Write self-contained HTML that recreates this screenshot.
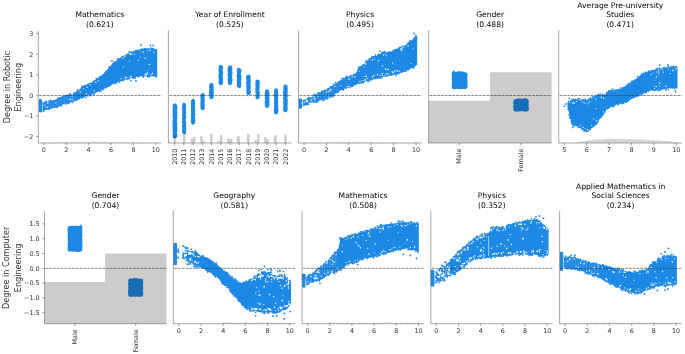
<!DOCTYPE html>
<html><head><meta charset="utf-8"><style>
html,body{margin:0;padding:0;background:#fff;}
svg{display:block;}
text{font-family:'DejaVu Sans','Liberation Sans',sans-serif;}
</style></head><body>
<svg width="685" height="354" viewBox="0 0 685 354">
<rect width="685" height="354" fill="#fff"/>
<path d="M39.0,99.6 L39.8,99.1 L40.6,99.3 L41.4,99.0 L42.2,99.7 L42.1,99.9 L41.9,100.8 L42.2,101.7 L41.9,102.6 L42.2,103.5 L41.9,104.4 L41.9,105.3 L42.1,106.3 L42.4,107.2 L41.9,108.1 L42.0,109.0 L42.3,109.9 L42.5,110.8 L42.3,111.7 L42.2,111.9 L41.4,112.2 L40.6,112.6 L39.8,112.3 L39.0,112.0 L38.8,111.7 L38.7,110.8 L38.9,109.9 L39.2,109.0 L38.8,108.1 L39.1,107.2 L39.1,106.3 L38.9,105.3 L39.0,104.4 L38.7,103.5 L38.7,102.6 L38.8,101.7 L39.1,100.8 L38.9,99.9Z" fill="#1e88e5"/>
<path d="M42.6,101.3 L43.6,102.4 L44.6,102.6 L45.6,101.8 L46.6,102.0 L47.6,102.1 L48.6,102.2 L49.6,101.2 L50.6,100.6 L51.6,100.2 L52.6,100.7 L53.6,100.6 L54.6,100.0 L55.6,99.5 L56.6,99.3 L57.6,98.5 L58.6,97.5 L59.6,97.8 L60.6,97.6 L61.6,96.6 L62.6,95.8 L63.6,95.7 L64.6,95.2 L65.6,95.0 L66.6,95.0 L67.6,94.4 L68.6,94.9 L69.6,95.1 L70.6,94.4 L71.6,94.4 L72.6,94.7 L73.6,93.1 L74.6,92.5 L75.6,92.2 L76.6,90.9 L77.6,90.5 L78.6,90.4 L79.6,89.0 L80.6,88.4 L81.6,87.8 L82.6,87.2 L83.6,86.1 L84.6,85.3 L85.6,84.8 L86.6,84.5 L87.6,84.2 L88.6,83.3 L89.6,83.0 L90.6,82.4 L91.6,82.6 L92.6,81.6 L93.6,81.0 L94.6,80.8 L95.6,79.7 L96.6,78.5 L97.6,78.0 L98.6,77.8 L99.6,76.1 L100.6,75.9 L101.6,75.2 L102.6,74.3 L103.6,73.8 L104.6,72.3 L105.6,71.1 L106.6,70.4 L107.6,69.0 L108.6,68.5 L109.6,67.3 L110.6,66.1 L111.6,64.2 L112.6,63.3 L113.6,62.0 L114.6,61.4 L115.6,61.4 L116.6,60.6 L117.6,60.0 L118.6,58.5 L119.6,57.9 L120.6,57.8 L121.6,57.4 L122.6,56.6 L123.6,55.3 L124.6,55.7 L125.6,55.0 L126.6,53.7 L127.6,53.3 L128.6,53.5 L129.6,52.3 L130.6,52.3 L131.6,51.2 L132.6,51.8 L133.6,50.6 L134.6,51.2 L135.6,50.1 L136.6,49.6 L137.6,50.3 L138.6,49.5 L139.6,49.0 L140.6,49.3 L141.6,48.5 L142.6,48.4 L143.6,48.4 L144.6,48.1 L145.6,48.3 L146.6,48.6 L147.6,48.5 L148.6,48.6 L149.6,48.6 L150.6,48.6 L151.6,48.1 L152.6,48.4 L153.6,49.2 L154.6,48.8 L155.6,49.2 L156.6,48.9 L157.2,49.2 L157.2,77.7 L156.6,77.7 L155.6,77.3 L154.6,76.5 L153.6,76.5 L152.6,76.3 L151.6,76.6 L150.6,75.8 L149.6,75.5 L148.6,76.1 L147.6,76.6 L146.6,76.6 L145.6,76.0 L144.6,76.6 L143.6,76.1 L142.6,76.4 L141.6,76.1 L140.6,76.1 L139.6,77.0 L138.6,77.3 L137.6,77.2 L136.6,76.6 L135.6,77.4 L134.6,77.8 L133.6,78.2 L132.6,78.4 L131.6,77.8 L130.6,78.1 L129.6,79.2 L128.6,78.8 L127.6,79.4 L126.6,79.6 L125.6,79.5 L124.6,80.1 L123.6,80.3 L122.6,80.9 L121.6,80.9 L120.6,81.8 L119.6,81.3 L118.6,81.7 L117.6,82.2 L116.6,83.4 L115.6,83.1 L114.6,83.9 L113.6,83.8 L112.6,84.0 L111.6,85.0 L110.6,85.9 L109.6,86.5 L108.6,87.3 L107.6,86.9 L106.6,88.0 L105.6,88.5 L104.6,88.5 L103.6,89.4 L102.6,90.3 L101.6,89.6 L100.6,90.3 L99.6,91.8 L98.6,91.4 L97.6,92.0 L96.6,92.3 L95.6,93.1 L94.6,94.0 L93.6,93.3 L92.6,93.9 L91.6,94.0 L90.6,95.2 L89.6,95.0 L88.6,95.0 L87.6,95.3 L86.6,95.8 L85.6,96.1 L84.6,97.3 L83.6,97.4 L82.6,98.4 L81.6,98.8 L80.6,98.2 L79.6,99.3 L78.6,99.7 L77.6,99.9 L76.6,100.0 L75.6,100.2 L74.6,100.8 L73.6,100.8 L72.6,101.1 L71.6,102.2 L70.6,101.9 L69.6,102.7 L68.6,102.9 L67.6,102.6 L66.6,103.4 L65.6,103.1 L64.6,104.2 L63.6,103.9 L62.6,104.8 L61.6,105.5 L60.6,105.4 L59.6,106.6 L58.6,106.7 L57.6,107.0 L56.6,107.7 L55.6,107.6 L54.6,108.1 L53.6,107.9 L52.6,108.4 L51.6,108.7 L50.6,108.7 L49.6,109.2 L48.6,108.6 L47.6,109.1 L46.6,110.1 L45.6,110.1 L44.6,110.6 L43.6,110.4 L42.6,111.1Z" fill="#1e88e5"/>
<circle cx="86.4" cy="93.7" r="0.70" fill="#fff" fill-opacity="1.0"/>
<circle cx="94.2" cy="90.8" r="0.62" fill="#fff" fill-opacity="1.0"/>
<circle cx="72.0" cy="99.4" r="0.63" fill="#fff" fill-opacity="1.0"/>
<circle cx="70.1" cy="99.4" r="0.74" fill="#fff" fill-opacity="1.0"/>
<circle cx="95.8" cy="82.2" r="0.76" fill="#fff" fill-opacity="1.0"/>
<circle cx="90.1" cy="84.7" r="0.60" fill="#fff" fill-opacity="1.0"/>
<circle cx="47.6" cy="103.2" r="0.67" fill="#fff" fill-opacity="1.0"/>
<circle cx="87.0" cy="87.3" r="0.69" fill="#fff" fill-opacity="1.0"/>
<circle cx="80.2" cy="91.9" r="0.77" fill="#fff" fill-opacity="1.0"/>
<circle cx="55.8" cy="102.8" r="0.61" fill="#fff" fill-opacity="1.0"/>
<circle cx="98.4" cy="80.7" r="0.60" fill="#fff" fill-opacity="1.0"/>
<circle cx="72.2" cy="96.1" r="0.56" fill="#fff" fill-opacity="1.0"/>
<circle cx="83.6" cy="88.8" r="0.60" fill="#fff" fill-opacity="1.0"/>
<circle cx="44.6" cy="105.0" r="0.62" fill="#fff" fill-opacity="1.0"/>
<circle cx="47.2" cy="107.2" r="0.77" fill="#fff" fill-opacity="1.0"/>
<circle cx="124.7" cy="56.5" r="0.71" fill="#fff" fill-opacity="1.0"/>
<circle cx="130.5" cy="54.3" r="0.75" fill="#fff" fill-opacity="1.0"/>
<circle cx="149.8" cy="50.2" r="0.75" fill="#fff" fill-opacity="1.0"/>
<circle cx="141.1" cy="52.3" r="0.47" fill="#fff" fill-opacity="1.0"/>
<circle cx="145.2" cy="74.7" r="0.76" fill="#fff" fill-opacity="1.0"/>
<circle cx="143.3" cy="52.0" r="0.73" fill="#fff" fill-opacity="1.0"/>
<circle cx="123.3" cy="67.1" r="0.57" fill="#fff" fill-opacity="1.0"/>
<circle cx="140.5" cy="56.9" r="0.50" fill="#fff" fill-opacity="1.0"/>
<circle cx="139.5" cy="50.6" r="0.51" fill="#fff" fill-opacity="1.0"/>
<circle cx="122.8" cy="58.3" r="0.55" fill="#fff" fill-opacity="1.0"/>
<circle cx="147.7" cy="51.0" r="0.51" fill="#fff" fill-opacity="1.0"/>
<circle cx="133.2" cy="52.9" r="0.46" fill="#fff" fill-opacity="1.0"/>
<circle cx="146.8" cy="74.4" r="0.61" fill="#fff" fill-opacity="1.0"/>
<circle cx="153.9" cy="52.2" r="0.60" fill="#fff" fill-opacity="1.0"/>
<circle cx="138.4" cy="60.5" r="0.62" fill="#fff" fill-opacity="1.0"/>
<circle cx="145.2" cy="58.3" r="0.73" fill="#fff" fill-opacity="1.0"/>
<circle cx="145.9" cy="73.9" r="0.57" fill="#fff" fill-opacity="1.0"/>
<circle cx="122.9" cy="57.6" r="0.70" fill="#fff" fill-opacity="1.0"/>
<circle cx="130.0" cy="53.6" r="0.73" fill="#fff" fill-opacity="1.0"/>
<circle cx="151.6" cy="74.3" r="0.53" fill="#fff" fill-opacity="1.0"/>
<circle cx="131.3" cy="76.7" r="0.60" fill="#fff" fill-opacity="1.0"/>
<circle cx="130.3" cy="76.7" r="0.63" fill="#fff" fill-opacity="1.0"/>
<circle cx="129.6" cy="61.0" r="0.57" fill="#fff" fill-opacity="1.0"/>
<circle cx="121.0" cy="78.7" r="0.62" fill="#fff" fill-opacity="1.0"/>
<circle cx="128.1" cy="77.8" r="0.54" fill="#fff" fill-opacity="1.0"/>
<circle cx="124.2" cy="78.6" r="0.46" fill="#fff" fill-opacity="1.0"/>
<circle cx="131.7" cy="54.3" r="0.63" fill="#fff" fill-opacity="1.0"/>
<circle cx="147.4" cy="73.1" r="0.74" fill="#fff" fill-opacity="1.0"/>
<circle cx="134.7" cy="54.3" r="0.50" fill="#fff" fill-opacity="1.0"/>
<circle cx="146.5" cy="74.8" r="0.73" fill="#fff" fill-opacity="1.0"/>
<circle cx="152.4" cy="73.3" r="0.72" fill="#fff" fill-opacity="1.0"/>
<circle cx="125.9" cy="77.0" r="0.73" fill="#fff" fill-opacity="1.0"/>
<circle cx="149.3" cy="64.5" r="0.75" fill="#fff" fill-opacity="1.0"/>
<circle cx="145.0" cy="74.3" r="0.47" fill="#fff" fill-opacity="1.0"/>
<circle cx="125.7" cy="78.0" r="0.73" fill="#fff" fill-opacity="1.0"/>
<line x1="45.50" y1="103.4" x2="45.50" y2="108.7" stroke="#fff" stroke-opacity="0.35" stroke-width="0.45"/>
<line x1="48.37" y1="103.1" x2="48.37" y2="108.0" stroke="#fff" stroke-opacity="0.35" stroke-width="0.45"/>
<line x1="50.89" y1="102.6" x2="50.89" y2="107.1" stroke="#fff" stroke-opacity="0.35" stroke-width="0.45"/>
<line x1="53.69" y1="101.3" x2="53.69" y2="106.7" stroke="#fff" stroke-opacity="0.35" stroke-width="0.45"/>
<line x1="56.25" y1="100.6" x2="56.25" y2="106.6" stroke="#fff" stroke-opacity="0.35" stroke-width="0.45"/>
<line x1="58.81" y1="98.7" x2="58.81" y2="104.8" stroke="#fff" stroke-opacity="0.35" stroke-width="0.45"/>
<line x1="61.45" y1="98.4" x2="61.45" y2="103.4" stroke="#fff" stroke-opacity="0.35" stroke-width="0.45"/>
<line x1="64.24" y1="96.8" x2="64.24" y2="103.0" stroke="#fff" stroke-opacity="0.35" stroke-width="0.45"/>
<line x1="67.15" y1="96.6" x2="67.15" y2="101.4" stroke="#fff" stroke-opacity="0.35" stroke-width="0.45"/>
<line x1="70.03" y1="95.1" x2="70.03" y2="101.6" stroke="#fff" stroke-opacity="0.35" stroke-width="0.45"/>
<line x1="72.69" y1="95.6" x2="72.69" y2="100.6" stroke="#fff" stroke-opacity="0.35" stroke-width="0.45"/>
<circle cx="45.0" cy="102.4" r="0.85" fill="#1e88e5"/>
<circle cx="119.3" cy="82.2" r="0.85" fill="#1e88e5"/>
<circle cx="76.4" cy="100.3" r="0.85" fill="#1e88e5"/>
<circle cx="96.1" cy="78.6" r="0.85" fill="#1e88e5"/>
<circle cx="66.0" cy="104.0" r="0.85" fill="#1e88e5"/>
<circle cx="45.6" cy="101.5" r="0.85" fill="#1e88e5"/>
<circle cx="152.6" cy="49.0" r="0.85" fill="#1e88e5"/>
<circle cx="67.2" cy="102.5" r="0.85" fill="#1e88e5"/>
<circle cx="109.1" cy="67.3" r="0.85" fill="#1e88e5"/>
<circle cx="150.9" cy="48.0" r="0.85" fill="#1e88e5"/>
<circle cx="100.9" cy="91.0" r="0.85" fill="#1e88e5"/>
<circle cx="69.7" cy="102.3" r="0.85" fill="#1e88e5"/>
<circle cx="46.4" cy="101.8" r="0.85" fill="#1e88e5"/>
<circle cx="94.4" cy="81.0" r="0.85" fill="#1e88e5"/>
<circle cx="82.3" cy="86.2" r="0.85" fill="#1e88e5"/>
<circle cx="43.8" cy="111.3" r="0.85" fill="#1e88e5"/>
<circle cx="57.1" cy="107.5" r="0.85" fill="#1e88e5"/>
<circle cx="145.1" cy="48.5" r="0.85" fill="#1e88e5"/>
<circle cx="87.8" cy="96.0" r="0.85" fill="#1e88e5"/>
<circle cx="84.2" cy="86.2" r="0.85" fill="#1e88e5"/>
<circle cx="49.0" cy="100.8" r="0.85" fill="#1e88e5"/>
<circle cx="75.8" cy="100.2" r="0.85" fill="#1e88e5"/>
<circle cx="73.5" cy="100.9" r="0.85" fill="#1e88e5"/>
<circle cx="85.6" cy="97.4" r="0.85" fill="#1e88e5"/>
<circle cx="135.0" cy="78.3" r="0.85" fill="#1e88e5"/>
<circle cx="149.5" cy="76.6" r="0.85" fill="#1e88e5"/>
<circle cx="49.2" cy="109.0" r="0.85" fill="#1e88e5"/>
<circle cx="128.4" cy="78.8" r="0.85" fill="#1e88e5"/>
<circle cx="49.1" cy="108.5" r="0.85" fill="#1e88e5"/>
<circle cx="96.8" cy="79.0" r="0.85" fill="#1e88e5"/>
<circle cx="126.8" cy="79.0" r="0.85" fill="#1e88e5"/>
<circle cx="117.5" cy="59.3" r="0.85" fill="#1e88e5"/>
<circle cx="88.0" cy="84.6" r="0.85" fill="#1e88e5"/>
<circle cx="67.0" cy="102.9" r="0.85" fill="#1e88e5"/>
<circle cx="68.4" cy="103.4" r="0.85" fill="#1e88e5"/>
<circle cx="94.3" cy="81.0" r="0.85" fill="#1e88e5"/>
<circle cx="53.8" cy="100.5" r="0.85" fill="#1e88e5"/>
<circle cx="70.5" cy="94.4" r="0.85" fill="#1e88e5"/>
<circle cx="143.5" cy="76.2" r="0.85" fill="#1e88e5"/>
<circle cx="90.2" cy="94.9" r="0.85" fill="#1e88e5"/>
<circle cx="81.7" cy="87.5" r="0.85" fill="#1e88e5"/>
<circle cx="152.6" cy="48.6" r="0.85" fill="#1e88e5"/>
<circle cx="114.5" cy="83.4" r="0.85" fill="#1e88e5"/>
<circle cx="74.1" cy="93.1" r="0.85" fill="#1e88e5"/>
<circle cx="93.8" cy="94.4" r="0.85" fill="#1e88e5"/>
<circle cx="141.9" cy="49.4" r="0.85" fill="#1e88e5"/>
<circle cx="123.5" cy="80.3" r="0.85" fill="#1e88e5"/>
<circle cx="109.7" cy="66.8" r="0.85" fill="#1e88e5"/>
<circle cx="148.0" cy="76.8" r="0.85" fill="#1e88e5"/>
<circle cx="153.1" cy="49.3" r="0.85" fill="#1e88e5"/>
<circle cx="61.0" cy="105.9" r="0.85" fill="#1e88e5"/>
<circle cx="149.6" cy="76.5" r="0.85" fill="#1e88e5"/>
<circle cx="129.7" cy="52.1" r="0.85" fill="#1e88e5"/>
<circle cx="48.1" cy="109.0" r="0.85" fill="#1e88e5"/>
<circle cx="147.2" cy="76.0" r="0.85" fill="#1e88e5"/>
<circle cx="58.0" cy="98.0" r="0.85" fill="#1e88e5"/>
<circle cx="122.3" cy="57.1" r="0.85" fill="#1e88e5"/>
<circle cx="102.7" cy="89.7" r="0.85" fill="#1e88e5"/>
<circle cx="68.8" cy="101.8" r="0.85" fill="#1e88e5"/>
<circle cx="77.6" cy="89.9" r="0.85" fill="#1e88e5"/>
<circle cx="116.2" cy="83.0" r="0.85" fill="#1e88e5"/>
<circle cx="70.0" cy="93.9" r="0.85" fill="#1e88e5"/>
<circle cx="122.9" cy="56.8" r="0.85" fill="#1e88e5"/>
<circle cx="99.7" cy="91.2" r="0.85" fill="#1e88e5"/>
<circle cx="72.6" cy="102.3" r="0.85" fill="#1e88e5"/>
<circle cx="69.1" cy="94.9" r="0.85" fill="#1e88e5"/>
<circle cx="91.0" cy="94.4" r="0.85" fill="#1e88e5"/>
<circle cx="133.3" cy="78.0" r="0.85" fill="#1e88e5"/>
<circle cx="66.7" cy="102.8" r="0.85" fill="#1e88e5"/>
<circle cx="135.9" cy="50.5" r="0.85" fill="#1e88e5"/>
<circle cx="129.2" cy="51.8" r="0.85" fill="#1e88e5"/>
<circle cx="99.4" cy="77.1" r="0.85" fill="#1e88e5"/>
<circle cx="90.6" cy="95.6" r="0.85" fill="#1e88e5"/>
<circle cx="60.1" cy="97.7" r="0.85" fill="#1e88e5"/>
<circle cx="153.3" cy="49.4" r="0.85" fill="#1e88e5"/>
<circle cx="50.4" cy="100.3" r="0.85" fill="#1e88e5"/>
<circle cx="143.1" cy="77.1" r="0.85" fill="#1e88e5"/>
<circle cx="148.5" cy="48.9" r="0.85" fill="#1e88e5"/>
<circle cx="149.0" cy="75.5" r="0.85" fill="#1e88e5"/>
<circle cx="118.4" cy="59.0" r="0.85" fill="#1e88e5"/>
<circle cx="141.0" cy="45.0" r="0.9" fill="#1e88e5"/>
<circle cx="150.4" cy="45.4" r="0.9" fill="#1e88e5"/>
<circle cx="153.2" cy="45.4" r="0.9" fill="#1e88e5"/>
<circle cx="112.0" cy="61.0" r="0.9" fill="#1e88e5"/>
<circle cx="131.0" cy="80.5" r="0.9" fill="#1e88e5"/>
<circle cx="136.0" cy="81.0" r="0.9" fill="#1e88e5"/>
<rect x="44.00" y="142.30" width="1.50" height="0.50" fill="#000" fill-opacity="0.12"/>
<rect x="46.25" y="142.20" width="1.50" height="0.60" fill="#000" fill-opacity="0.12"/>
<rect x="48.50" y="142.30" width="1.50" height="0.50" fill="#000" fill-opacity="0.12"/>
<rect x="50.75" y="142.10" width="1.50" height="0.70" fill="#000" fill-opacity="0.12"/>
<rect x="53.00" y="142.20" width="1.50" height="0.60" fill="#000" fill-opacity="0.12"/>
<rect x="55.25" y="142.00" width="1.50" height="0.80" fill="#000" fill-opacity="0.12"/>
<rect x="57.50" y="142.10" width="1.50" height="0.70" fill="#000" fill-opacity="0.12"/>
<rect x="59.75" y="141.90" width="1.50" height="0.90" fill="#000" fill-opacity="0.12"/>
<rect x="62.00" y="142.00" width="1.50" height="0.80" fill="#000" fill-opacity="0.12"/>
<rect x="64.25" y="141.80" width="1.50" height="1.00" fill="#000" fill-opacity="0.12"/>
<rect x="66.50" y="141.70" width="1.50" height="1.10" fill="#000" fill-opacity="0.12"/>
<rect x="68.75" y="141.60" width="1.50" height="1.20" fill="#000" fill-opacity="0.12"/>
<rect x="71.00" y="141.60" width="1.50" height="1.20" fill="#000" fill-opacity="0.12"/>
<rect x="73.25" y="141.50" width="1.50" height="1.30" fill="#000" fill-opacity="0.12"/>
<rect x="75.50" y="141.70" width="1.50" height="1.10" fill="#000" fill-opacity="0.12"/>
<rect x="77.75" y="141.40" width="1.50" height="1.40" fill="#000" fill-opacity="0.12"/>
<rect x="80.00" y="141.60" width="1.50" height="1.20" fill="#000" fill-opacity="0.12"/>
<rect x="82.25" y="141.30" width="1.50" height="1.50" fill="#000" fill-opacity="0.12"/>
<rect x="84.50" y="141.50" width="1.50" height="1.30" fill="#000" fill-opacity="0.12"/>
<rect x="86.75" y="141.60" width="1.50" height="1.20" fill="#000" fill-opacity="0.12"/>
<rect x="89.00" y="141.40" width="1.50" height="1.40" fill="#000" fill-opacity="0.12"/>
<rect x="91.25" y="141.50" width="1.50" height="1.30" fill="#000" fill-opacity="0.12"/>
<rect x="93.50" y="141.30" width="1.50" height="1.50" fill="#000" fill-opacity="0.12"/>
<rect x="95.75" y="141.60" width="1.50" height="1.20" fill="#000" fill-opacity="0.12"/>
<rect x="98.00" y="141.40" width="1.50" height="1.40" fill="#000" fill-opacity="0.12"/>
<rect x="100.25" y="141.50" width="1.50" height="1.30" fill="#000" fill-opacity="0.12"/>
<rect x="102.50" y="141.70" width="1.50" height="1.10" fill="#000" fill-opacity="0.12"/>
<rect x="104.75" y="141.50" width="1.50" height="1.30" fill="#000" fill-opacity="0.12"/>
<rect x="107.00" y="141.60" width="1.50" height="1.20" fill="#000" fill-opacity="0.12"/>
<rect x="109.25" y="141.80" width="1.50" height="1.00" fill="#000" fill-opacity="0.12"/>
<rect x="111.50" y="141.70" width="1.50" height="1.10" fill="#000" fill-opacity="0.12"/>
<rect x="113.75" y="141.80" width="1.50" height="1.00" fill="#000" fill-opacity="0.12"/>
<rect x="116.00" y="141.90" width="1.50" height="0.90" fill="#000" fill-opacity="0.12"/>
<rect x="118.25" y="142.00" width="1.50" height="0.80" fill="#000" fill-opacity="0.12"/>
<rect x="120.50" y="141.90" width="1.50" height="0.90" fill="#000" fill-opacity="0.12"/>
<rect x="122.75" y="142.10" width="1.50" height="0.70" fill="#000" fill-opacity="0.12"/>
<rect x="125.00" y="142.00" width="1.50" height="0.80" fill="#000" fill-opacity="0.12"/>
<rect x="127.25" y="142.10" width="1.50" height="0.70" fill="#000" fill-opacity="0.12"/>
<rect x="129.50" y="142.20" width="1.50" height="0.60" fill="#000" fill-opacity="0.12"/>
<rect x="131.75" y="142.20" width="1.50" height="0.60" fill="#000" fill-opacity="0.12"/>
<rect x="134.00" y="142.30" width="1.50" height="0.50" fill="#000" fill-opacity="0.12"/>
<rect x="136.25" y="142.20" width="1.50" height="0.60" fill="#000" fill-opacity="0.12"/>
<rect x="138.50" y="142.30" width="1.50" height="0.50" fill="#000" fill-opacity="0.12"/>
<rect x="140.75" y="142.20" width="1.50" height="0.60" fill="#000" fill-opacity="0.12"/>
<rect x="143.00" y="142.30" width="1.50" height="0.50" fill="#000" fill-opacity="0.12"/>
<rect x="145.25" y="142.40" width="1.50" height="0.40" fill="#000" fill-opacity="0.12"/>
<rect x="147.50" y="142.40" width="1.50" height="0.40" fill="#000" fill-opacity="0.12"/>
<rect x="149.75" y="142.50" width="1.50" height="0.30" fill="#000" fill-opacity="0.12"/>
<rect x="152.00" y="142.50" width="1.50" height="0.30" fill="#000" fill-opacity="0.12"/>
<rect x="154.25" y="142.50" width="1.50" height="0.30" fill="#000" fill-opacity="0.12"/>
<line x1="38.30" y1="95.50" x2="161.40" y2="95.50" stroke="#3a3a3a" stroke-width="0.6" stroke-dasharray="2.85,0.95" stroke-dashoffset="2.9"/>
<path d="M38.30,30.50 L38.30,143.00 L161.40,143.00" fill="none" stroke="#6a6a6a" stroke-width="0.6"/>
<text x="99.85" y="17.15" font-size="7.6" text-anchor="middle" fill="#000">Mathematics</text>
<text x="99.85" y="26.60" font-size="7.6" text-anchor="middle" fill="#000">(0.621)</text>
<line x1="43.90" y1="143.00" x2="43.90" y2="145.10" stroke="#333333" stroke-width="0.5"/>
<text x="43.90" y="152.30" font-size="6.4" text-anchor="middle" fill="#333333">0</text>
<line x1="66.28" y1="143.00" x2="66.28" y2="145.10" stroke="#333333" stroke-width="0.5"/>
<text x="66.28" y="152.30" font-size="6.4" text-anchor="middle" fill="#333333">2</text>
<line x1="88.66" y1="143.00" x2="88.66" y2="145.10" stroke="#333333" stroke-width="0.5"/>
<text x="88.66" y="152.30" font-size="6.4" text-anchor="middle" fill="#333333">4</text>
<line x1="111.04" y1="143.00" x2="111.04" y2="145.10" stroke="#333333" stroke-width="0.5"/>
<text x="111.04" y="152.30" font-size="6.4" text-anchor="middle" fill="#333333">6</text>
<line x1="133.42" y1="143.00" x2="133.42" y2="145.10" stroke="#333333" stroke-width="0.5"/>
<text x="133.42" y="152.30" font-size="6.4" text-anchor="middle" fill="#333333">8</text>
<line x1="155.80" y1="143.00" x2="155.80" y2="145.10" stroke="#333333" stroke-width="0.5"/>
<text x="155.80" y="152.30" font-size="6.4" text-anchor="middle" fill="#333333">10</text>
<line x1="36.20" y1="33.55" x2="38.30" y2="33.55" stroke="#333333" stroke-width="0.5"/>
<text x="33.40" y="35.90" font-size="6.4" text-anchor="end" fill="#333333">3</text>
<line x1="36.20" y1="54.15" x2="38.30" y2="54.15" stroke="#333333" stroke-width="0.5"/>
<text x="33.40" y="56.50" font-size="6.4" text-anchor="end" fill="#333333">2</text>
<line x1="36.20" y1="74.75" x2="38.30" y2="74.75" stroke="#333333" stroke-width="0.5"/>
<text x="33.40" y="77.10" font-size="6.4" text-anchor="end" fill="#333333">1</text>
<line x1="36.20" y1="95.35" x2="38.30" y2="95.35" stroke="#333333" stroke-width="0.5"/>
<text x="33.40" y="97.70" font-size="6.4" text-anchor="end" fill="#333333">0</text>
<line x1="36.20" y1="115.95" x2="38.30" y2="115.95" stroke="#333333" stroke-width="0.5"/>
<text x="33.40" y="118.30" font-size="6.4" text-anchor="end" fill="#333333">−1</text>
<line x1="36.20" y1="136.55" x2="38.30" y2="136.55" stroke="#333333" stroke-width="0.5"/>
<text x="33.40" y="138.90" font-size="6.4" text-anchor="end" fill="#333333">−2</text>
<path d="M172.7,105.6 L173.4,103.9 L174.2,103.5 L174.9,103.5 L175.7,103.6 L176.4,104.3 L177.2,105.5 L177.5,104.3 L177.0,105.2 L177.1,106.1 L177.4,107.0 L177.4,107.9 L177.2,108.8 L176.9,109.7 L177.2,110.6 L177.1,111.5 L177.5,112.5 L177.0,113.4 L177.1,114.3 L177.4,115.2 L176.9,116.1 L177.1,117.0 L177.4,117.9 L177.4,118.8 L176.9,119.7 L176.9,120.6 L176.9,121.5 L177.5,122.4 L177.1,123.3 L177.3,124.2 L177.4,125.1 L177.1,126.0 L177.1,126.9 L177.5,127.8 L177.3,128.7 L177.1,129.6 L177.3,130.6 L177.1,131.5 L177.1,132.4 L176.9,133.3 L177.4,134.2 L177.4,135.1 L177.3,136.0 L177.5,136.9 L176.9,137.8 L177.2,136.6 L176.4,138.0 L175.7,138.2 L174.9,138.2 L174.2,138.4 L173.4,138.1 L172.7,136.5 L172.7,137.8 L173.0,136.9 L172.5,136.0 L172.9,135.1 L172.8,134.2 L172.9,133.3 L172.9,132.4 L172.8,131.5 L172.6,130.6 L172.6,129.6 L172.6,128.7 L172.9,127.8 L172.4,126.9 L172.5,126.0 L172.9,125.1 L172.5,124.2 L172.4,123.3 L172.4,122.4 L172.7,121.5 L172.6,120.6 L173.0,119.7 L172.9,118.8 L173.0,117.9 L172.6,117.0 L172.5,116.1 L172.5,115.2 L172.7,114.3 L172.8,113.4 L172.7,112.5 L172.5,111.5 L172.7,110.6 L172.8,109.7 L172.8,108.8 L172.8,107.9 L172.9,107.0 L172.8,106.1 L172.5,105.2 L172.9,104.3Z" fill="#1e88e5"/>
<path d="M182.2,104.6 L183.0,103.2 L183.7,102.7 L184.5,102.9 L185.2,103.0 L186.0,104.6 L185.8,103.4 L185.8,104.3 L186.2,105.2 L186.0,106.1 L185.9,107.0 L185.9,107.9 L186.3,108.8 L186.0,109.7 L185.8,110.6 L186.2,111.5 L186.1,112.4 L186.3,113.3 L185.8,114.2 L186.0,115.1 L186.2,116.0 L186.2,116.9 L186.2,117.8 L185.7,118.8 L185.9,119.7 L185.8,120.6 L185.8,121.5 L186.3,122.4 L186.0,123.3 L186.3,124.2 L185.9,125.1 L186.2,126.0 L186.0,126.9 L185.9,127.8 L186.2,128.7 L186.3,129.6 L185.8,130.5 L186.1,131.4 L186.1,132.3 L185.8,133.2 L185.9,134.1 L186.0,132.9 L185.2,134.5 L184.5,134.8 L183.7,134.6 L183.0,134.2 L182.2,132.9 L181.9,134.1 L182.1,133.2 L182.3,132.3 L182.0,131.4 L182.1,130.5 L182.0,129.6 L182.4,128.7 L182.2,127.8 L181.9,126.9 L182.0,126.0 L182.1,125.1 L182.2,124.2 L182.3,123.3 L182.0,122.4 L182.0,121.5 L182.3,120.6 L182.1,119.7 L182.1,118.8 L182.1,117.8 L182.5,116.9 L182.1,116.0 L182.2,115.1 L182.1,114.2 L182.1,113.3 L182.4,112.4 L182.5,111.5 L182.1,110.6 L182.0,109.7 L182.3,108.8 L182.0,107.9 L181.9,107.0 L182.4,106.1 L182.2,105.2 L182.4,104.3 L182.1,103.4Z" fill="#1e88e5"/>
<path d="M191.0,101.2 L191.8,99.4 L192.6,98.9 L193.5,98.8 L194.3,99.5 L195.1,101.1 L195.3,99.7 L194.9,100.7 L195.2,101.6 L195.0,102.5 L195.1,103.4 L194.9,104.4 L195.0,105.3 L195.1,106.2 L195.4,107.2 L194.9,108.1 L195.1,109.0 L195.3,109.9 L195.4,110.9 L194.9,111.8 L194.9,112.7 L195.4,113.7 L195.4,114.6 L195.1,115.5 L194.8,116.4 L195.4,117.4 L195.0,118.3 L195.3,119.2 L195.2,120.2 L195.3,121.1 L194.9,122.0 L195.3,122.9 L194.9,123.9 L195.1,122.6 L194.3,124.0 L193.5,124.4 L192.6,124.7 L191.8,124.3 L191.0,122.6 L191.0,123.9 L190.9,122.9 L190.8,122.0 L190.8,121.1 L191.1,120.2 L191.2,119.2 L190.7,118.3 L191.0,117.4 L191.2,116.4 L190.7,115.5 L191.2,114.6 L190.8,113.7 L191.1,112.7 L191.0,111.8 L191.1,110.9 L190.9,109.9 L191.0,109.0 L191.0,108.1 L191.0,107.2 L191.1,106.2 L191.0,105.3 L191.0,104.4 L190.7,103.4 L191.1,102.5 L191.0,101.6 L190.8,100.7 L191.2,99.7Z" fill="#1e88e5"/>
<path d="M200.5,95.3 L201.3,93.5 L202.2,93.0 L203.0,93.2 L203.9,93.3 L204.7,95.0 L204.7,93.8 L204.5,94.8 L204.7,95.7 L204.7,96.6 L204.4,97.5 L204.8,98.5 L204.4,99.4 L204.8,100.3 L204.9,101.2 L204.7,102.2 L204.4,103.1 L204.7,104.0 L204.6,104.9 L205.0,105.9 L204.5,106.8 L204.9,107.7 L205.0,108.6 L204.8,109.6 L204.7,108.1 L203.9,110.0 L203.0,110.0 L202.2,110.2 L201.3,109.7 L200.5,108.0 L200.3,109.6 L200.7,108.6 L200.8,107.7 L200.2,106.8 L200.4,105.9 L200.7,104.9 L200.3,104.0 L200.7,103.1 L200.4,102.2 L200.7,101.2 L200.3,100.3 L200.5,99.4 L200.8,98.5 L200.3,97.5 L200.4,96.6 L200.5,95.7 L200.4,94.8 L200.2,93.8Z" fill="#1e88e5"/>
<path d="M209.2,84.9 L209.9,83.3 L210.7,83.3 L211.4,83.1 L212.1,83.3 L212.9,83.3 L213.6,85.2 L213.4,83.7 L213.6,84.6 L213.7,85.6 L213.5,86.5 L213.8,87.4 L213.6,88.3 L213.6,89.3 L213.8,90.2 L213.4,91.1 L213.9,92.0 L213.7,92.9 L213.5,93.9 L213.8,94.8 L213.5,95.7 L213.9,96.6 L213.6,97.6 L213.5,98.5 L213.6,97.0 L212.9,98.7 L212.1,99.2 L211.4,99.0 L210.7,99.3 L209.9,98.5 L209.2,97.3 L209.3,98.5 L209.5,97.6 L209.3,96.6 L209.3,95.7 L209.1,94.8 L208.9,93.9 L208.9,92.9 L209.0,92.0 L209.3,91.1 L209.2,90.2 L209.2,89.3 L209.4,88.3 L209.0,87.4 L209.0,86.5 L209.3,85.6 L208.9,84.6 L208.9,83.7Z" fill="#1e88e5"/>
<path d="M218.6,66.9 L219.3,65.2 L220.1,65.0 L220.8,64.8 L221.5,65.1 L222.3,65.4 L223.0,66.8 L223.1,65.6 L223.0,66.5 L222.8,67.4 L223.3,68.3 L222.8,69.2 L222.8,70.1 L222.8,71.0 L223.1,71.9 L223.2,72.8 L223.2,73.7 L222.9,74.6 L222.9,75.5 L222.7,76.4 L223.1,77.3 L223.0,78.2 L222.9,79.1 L223.1,80.0 L223.0,80.9 L223.3,81.8 L223.1,82.7 L222.8,83.6 L223.2,84.5 L223.0,83.4 L222.3,84.7 L221.5,85.1 L220.8,85.3 L220.1,85.3 L219.3,84.6 L218.6,83.4 L218.6,84.5 L218.9,83.6 L218.4,82.7 L218.4,81.8 L218.7,80.9 L218.6,80.0 L218.7,79.1 L218.8,78.2 L218.4,77.3 L218.5,76.4 L218.5,75.5 L218.3,74.6 L218.8,73.7 L218.8,72.8 L218.7,71.9 L218.3,71.0 L218.8,70.1 L218.7,69.2 L218.6,68.3 L218.7,67.4 L218.6,66.5 L218.4,65.6Z" fill="#1e88e5"/>
<path d="M227.8,67.3 L228.6,65.8 L229.3,65.3 L230.1,65.4 L230.8,65.6 L231.6,66.0 L232.3,67.6 L232.4,66.1 L232.2,67.0 L232.3,68.0 L232.3,68.9 L232.5,69.8 L232.3,70.7 L232.2,71.6 L232.4,72.5 L232.6,73.5 L232.1,74.4 L232.5,75.3 L232.0,76.2 L232.2,77.1 L232.1,78.1 L232.4,79.0 L232.6,79.9 L232.4,80.8 L232.2,81.7 L232.5,82.6 L232.2,83.6 L232.1,84.5 L232.3,82.9 L231.6,84.6 L230.8,85.0 L230.1,85.1 L229.3,84.8 L228.6,84.7 L227.8,83.0 L227.9,84.5 L228.0,83.6 L227.8,82.6 L227.9,81.7 L227.8,80.8 L227.7,79.9 L227.6,79.0 L227.9,78.1 L227.5,77.1 L228.0,76.2 L227.6,75.3 L227.5,74.4 L227.6,73.5 L228.1,72.5 L227.7,71.6 L227.6,70.7 L227.5,69.8 L227.5,68.9 L227.9,68.0 L227.9,67.0 L227.9,66.1Z" fill="#1e88e5"/>
<path d="M236.9,69.9 L237.6,68.0 L238.3,67.9 L239.1,67.7 L239.8,68.0 L240.5,68.4 L241.2,69.9 L240.9,68.4 L241.4,69.3 L241.4,70.2 L241.5,71.1 L241.0,72.0 L241.0,72.9 L241.0,73.8 L240.9,74.7 L241.4,75.6 L241.4,76.5 L241.3,77.4 L241.4,78.3 L241.3,79.2 L241.1,80.1 L241.0,81.0 L241.0,81.9 L241.4,82.8 L241.0,83.7 L241.1,84.6 L241.2,85.5 L240.9,86.4 L241.1,87.3 L241.2,86.1 L240.5,87.4 L239.8,87.9 L239.1,88.0 L238.3,87.6 L237.6,87.5 L236.9,85.8 L237.0,87.3 L236.6,86.4 L236.8,85.5 L236.9,84.6 L237.1,83.7 L236.8,82.8 L237.0,81.9 L236.9,81.0 L236.7,80.1 L237.1,79.2 L236.7,78.3 L237.1,77.4 L236.7,76.5 L236.6,75.6 L236.7,74.7 L237.1,73.8 L237.2,72.9 L236.6,72.0 L236.9,71.1 L236.9,70.2 L237.1,69.3 L236.7,68.4Z" fill="#1e88e5"/>
<path d="M246.3,76.5 L247.0,74.9 L247.8,74.8 L248.5,74.4 L249.2,74.8 L250.0,74.9 L250.7,76.4 L250.8,75.2 L250.7,76.1 L250.5,77.1 L250.8,78.0 L250.4,78.9 L250.9,79.8 L250.8,80.7 L250.9,81.6 L250.8,82.6 L250.6,83.5 L250.6,84.4 L250.6,85.3 L250.9,86.2 L250.5,87.1 L250.9,88.1 L250.4,89.0 L250.5,89.9 L250.6,90.8 L250.9,91.7 L250.7,92.6 L250.6,93.6 L250.9,94.5 L250.7,93.3 L250.0,94.7 L249.2,95.1 L248.5,95.0 L247.8,95.0 L247.0,94.6 L246.3,93.2 L246.2,94.5 L246.1,93.6 L246.5,92.6 L246.4,91.7 L246.4,90.8 L246.1,89.9 L246.3,89.0 L246.5,88.1 L246.3,87.1 L246.1,86.2 L246.3,85.3 L246.5,84.4 L246.1,83.5 L246.1,82.6 L246.2,81.6 L246.4,80.7 L246.5,79.8 L246.1,78.9 L246.1,78.0 L246.1,77.1 L246.2,76.1 L246.3,75.2Z" fill="#1e88e5"/>
<path d="M255.4,81.4 L256.1,79.9 L256.8,79.5 L257.6,79.8 L258.3,79.7 L259.0,79.8 L259.7,81.8 L259.5,80.2 L259.6,81.1 L260.0,82.1 L259.9,83.0 L259.8,83.9 L259.7,84.8 L259.5,85.8 L259.8,86.7 L259.5,87.6 L259.5,88.5 L259.6,89.4 L259.4,90.4 L259.6,91.3 L259.9,92.2 L259.8,93.1 L259.7,94.1 L259.8,95.0 L259.7,95.9 L259.5,96.8 L259.8,97.8 L259.6,98.7 L259.7,97.2 L259.0,98.7 L258.3,99.3 L257.6,99.3 L256.8,99.1 L256.1,98.9 L255.4,97.5 L255.5,98.7 L255.6,97.8 L255.6,96.8 L255.5,95.9 L255.6,95.0 L255.5,94.1 L255.5,93.1 L255.4,92.2 L255.3,91.3 L255.5,90.4 L255.2,89.4 L255.4,88.5 L255.6,87.6 L255.5,86.7 L255.5,85.8 L255.3,84.8 L255.4,83.9 L255.4,83.0 L255.5,82.1 L255.3,81.1 L255.5,80.2Z" fill="#1e88e5"/>
<path d="M264.8,91.7 L265.6,89.7 L266.3,89.6 L267.1,89.6 L267.8,89.5 L268.6,89.9 L269.3,91.7 L269.0,90.1 L269.3,91.1 L269.1,92.0 L269.5,93.0 L269.6,93.9 L269.3,94.8 L269.1,95.8 L269.3,96.7 L269.3,97.7 L269.4,98.6 L269.3,99.5 L269.4,100.5 L269.5,101.4 L269.3,102.4 L269.2,103.3 L269.6,104.2 L269.1,105.2 L269.4,106.1 L269.2,107.1 L269.3,105.6 L268.6,107.5 L267.8,107.4 L267.1,107.8 L266.3,107.9 L265.6,107.4 L264.8,105.8 L264.5,107.1 L264.8,106.1 L264.8,105.2 L264.9,104.2 L264.7,103.3 L264.7,102.4 L264.6,101.4 L264.9,100.5 L265.1,99.5 L264.8,98.6 L264.6,97.7 L265.0,96.7 L264.7,95.8 L264.6,94.8 L264.6,93.9 L265.0,93.0 L265.0,92.0 L264.9,91.1 L264.8,90.1Z" fill="#1e88e5"/>
<path d="M274.0,90.4 L274.8,88.6 L275.7,88.6 L276.5,88.3 L277.4,88.8 L278.2,90.5 L278.4,89.0 L278.2,89.9 L278.1,90.8 L278.2,91.8 L278.0,92.7 L278.4,93.6 L278.1,94.5 L278.4,95.4 L278.1,96.3 L278.1,97.2 L278.1,98.2 L278.2,99.1 L278.0,100.0 L277.9,100.9 L278.3,101.8 L278.1,102.7 L278.0,103.6 L278.1,104.5 L278.2,105.5 L278.2,106.4 L278.3,107.3 L278.3,108.2 L278.1,109.1 L278.5,110.0 L278.4,110.9 L277.9,111.9 L278.4,112.8 L278.4,113.7 L278.2,112.2 L277.4,114.2 L276.5,114.2 L275.7,114.3 L274.8,114.2 L274.0,112.6 L274.3,113.7 L274.1,112.8 L273.9,111.9 L273.8,110.9 L273.8,110.0 L273.8,109.1 L274.2,108.2 L273.9,107.3 L273.8,106.4 L274.2,105.5 L274.2,104.5 L273.8,103.6 L274.2,102.7 L274.1,101.8 L274.2,100.9 L274.1,100.0 L274.2,99.1 L274.2,98.2 L274.2,97.2 L273.8,96.3 L274.1,95.4 L274.0,94.5 L274.1,93.6 L274.0,92.7 L274.2,91.8 L274.0,90.8 L273.9,89.9 L273.8,89.0Z" fill="#1e88e5"/>
<path d="M283.2,86.5 L283.9,85.1 L284.7,84.5 L285.4,84.6 L286.1,84.5 L286.9,85.1 L287.6,86.6 L287.6,85.3 L287.8,86.2 L287.3,87.1 L287.8,88.0 L287.6,88.9 L287.6,89.8 L287.7,90.7 L287.8,91.6 L287.5,92.5 L287.6,93.4 L287.9,94.3 L287.3,95.2 L287.7,96.1 L287.7,97.0 L287.3,97.9 L287.7,98.9 L287.7,99.8 L287.9,100.7 L287.5,101.6 L287.9,102.5 L287.6,103.4 L287.6,104.3 L287.8,105.2 L287.3,106.1 L287.7,107.0 L287.7,107.9 L287.5,108.8 L287.8,109.7 L287.5,110.6 L287.6,111.5 L287.6,110.1 L286.9,111.6 L286.1,112.2 L285.4,112.2 L284.7,112.1 L283.9,111.7 L283.2,110.0 L283.1,111.5 L283.4,110.6 L283.1,109.7 L283.2,108.8 L283.1,107.9 L283.2,107.0 L283.5,106.1 L283.3,105.2 L283.4,104.3 L283.1,103.4 L283.1,102.5 L283.1,101.6 L283.3,100.7 L283.3,99.8 L283.4,98.9 L282.9,97.9 L283.3,97.0 L283.4,96.1 L283.2,95.2 L282.9,94.3 L283.1,93.4 L282.9,92.5 L283.0,91.6 L283.5,90.7 L283.3,89.8 L283.3,88.9 L283.4,88.0 L283.4,87.1 L283.3,86.2 L283.3,85.3Z" fill="#1e88e5"/>
<rect x="173.40" y="135.30" width="2.50" height="7.70" fill="#000" fill-opacity="0.2"/>
<rect x="183.00" y="135.30" width="2.40" height="7.70" fill="#000" fill-opacity="0.2"/>
<rect x="190.80" y="138.70" width="2.40" height="4.30" fill="#000" fill-opacity="0.2"/>
<rect x="193.20" y="136.90" width="2.20" height="6.10" fill="#000" fill-opacity="0.2"/>
<rect x="200.20" y="136.20" width="2.40" height="6.80" fill="#000" fill-opacity="0.2"/>
<rect x="202.60" y="141.20" width="2.50" height="1.80" fill="#000" fill-opacity="0.2"/>
<rect x="210.00" y="133.80" width="2.50" height="9.20" fill="#000" fill-opacity="0.2"/>
<rect x="217.80" y="141.00" width="2.30" height="2.00" fill="#000" fill-opacity="0.2"/>
<rect x="220.10" y="135.20" width="2.40" height="7.80" fill="#000" fill-opacity="0.2"/>
<rect x="227.00" y="138.70" width="5.30" height="4.30" fill="#000" fill-opacity="0.2"/>
<rect x="236.90" y="136.30" width="3.00" height="6.70" fill="#000" fill-opacity="0.2"/>
<rect x="247.00" y="134.00" width="2.50" height="9.00" fill="#000" fill-opacity="0.2"/>
<rect x="254.80" y="140.20" width="2.40" height="2.80" fill="#000" fill-opacity="0.2"/>
<rect x="257.20" y="134.00" width="2.20" height="9.00" fill="#000" fill-opacity="0.2"/>
<rect x="264.10" y="137.20" width="2.50" height="5.80" fill="#000" fill-opacity="0.2"/>
<rect x="266.60" y="139.20" width="2.40" height="3.80" fill="#000" fill-opacity="0.2"/>
<rect x="273.90" y="135.30" width="2.80" height="7.70" fill="#000" fill-opacity="0.2"/>
<rect x="284.20" y="134.60" width="2.50" height="8.40" fill="#000" fill-opacity="0.2"/>
<line x1="168.40" y1="95.50" x2="291.50" y2="95.50" stroke="#3a3a3a" stroke-width="0.6" stroke-dasharray="2.85,0.95" stroke-dashoffset="2.9"/>
<path d="M168.40,30.50 L168.40,143.00 L291.50,143.00" fill="none" stroke="#6a6a6a" stroke-width="0.6"/>
<text x="229.95" y="17.15" font-size="7.6" text-anchor="middle" fill="#000">Year of Enrollment</text>
<text x="229.95" y="26.60" font-size="7.6" text-anchor="middle" fill="#000">(0.525)</text>
<line x1="174.60" y1="143.00" x2="174.60" y2="145.10" stroke="#333333" stroke-width="0.5"/>
<text x="176.80" y="148.60" font-size="6.4" text-anchor="end" fill="#333333" transform="rotate(-90 176.80 148.60)">2010</text>
<line x1="183.83" y1="143.00" x2="183.83" y2="145.10" stroke="#333333" stroke-width="0.5"/>
<text x="186.03" y="148.60" font-size="6.4" text-anchor="end" fill="#333333" transform="rotate(-90 186.03 148.60)">2011</text>
<line x1="193.06" y1="143.00" x2="193.06" y2="145.10" stroke="#333333" stroke-width="0.5"/>
<text x="195.26" y="148.60" font-size="6.4" text-anchor="end" fill="#333333" transform="rotate(-90 195.26 148.60)">2012</text>
<line x1="202.29" y1="143.00" x2="202.29" y2="145.10" stroke="#333333" stroke-width="0.5"/>
<text x="204.49" y="148.60" font-size="6.4" text-anchor="end" fill="#333333" transform="rotate(-90 204.49 148.60)">2013</text>
<line x1="211.52" y1="143.00" x2="211.52" y2="145.10" stroke="#333333" stroke-width="0.5"/>
<text x="213.72" y="148.60" font-size="6.4" text-anchor="end" fill="#333333" transform="rotate(-90 213.72 148.60)">2014</text>
<line x1="220.75" y1="143.00" x2="220.75" y2="145.10" stroke="#333333" stroke-width="0.5"/>
<text x="222.95" y="148.60" font-size="6.4" text-anchor="end" fill="#333333" transform="rotate(-90 222.95 148.60)">2015</text>
<line x1="229.98" y1="143.00" x2="229.98" y2="145.10" stroke="#333333" stroke-width="0.5"/>
<text x="232.18" y="148.60" font-size="6.4" text-anchor="end" fill="#333333" transform="rotate(-90 232.18 148.60)">2016</text>
<line x1="239.21" y1="143.00" x2="239.21" y2="145.10" stroke="#333333" stroke-width="0.5"/>
<text x="241.41" y="148.60" font-size="6.4" text-anchor="end" fill="#333333" transform="rotate(-90 241.41 148.60)">2017</text>
<line x1="248.44" y1="143.00" x2="248.44" y2="145.10" stroke="#333333" stroke-width="0.5"/>
<text x="250.64" y="148.60" font-size="6.4" text-anchor="end" fill="#333333" transform="rotate(-90 250.64 148.60)">2018</text>
<line x1="257.67" y1="143.00" x2="257.67" y2="145.10" stroke="#333333" stroke-width="0.5"/>
<text x="259.87" y="148.60" font-size="6.4" text-anchor="end" fill="#333333" transform="rotate(-90 259.87 148.60)">2019</text>
<line x1="266.90" y1="143.00" x2="266.90" y2="145.10" stroke="#333333" stroke-width="0.5"/>
<text x="269.10" y="148.60" font-size="6.4" text-anchor="end" fill="#333333" transform="rotate(-90 269.10 148.60)">2020</text>
<line x1="276.13" y1="143.00" x2="276.13" y2="145.10" stroke="#333333" stroke-width="0.5"/>
<text x="278.33" y="148.60" font-size="6.4" text-anchor="end" fill="#333333" transform="rotate(-90 278.33 148.60)">2021</text>
<line x1="285.36" y1="143.00" x2="285.36" y2="145.10" stroke="#333333" stroke-width="0.5"/>
<text x="287.56" y="148.60" font-size="6.4" text-anchor="end" fill="#333333" transform="rotate(-90 287.56 148.60)">2022</text>
<path d="M298.8,99.0 L299.6,98.5 L300.4,98.4 L301.2,98.5 L302.0,98.8 L302.1,99.2 L302.0,100.1 L302.2,101.1 L301.7,102.1 L301.8,103.1 L301.7,104.0 L302.2,105.0 L302.3,106.0 L302.1,107.0 L301.9,107.9 L302.0,108.1 L301.2,108.6 L300.4,108.7 L299.6,108.8 L298.8,108.3 L298.7,107.9 L298.7,107.0 L298.8,106.0 L298.9,105.0 L299.1,104.0 L298.5,103.1 L298.8,102.1 L298.5,101.1 L298.5,100.1 L299.0,99.2Z" fill="#1e88e5"/>
<path d="M302.6,100.1 L303.6,99.7 L304.6,99.4 L305.6,99.8 L306.6,98.9 L307.6,98.0 L308.6,97.8 L309.6,97.2 L310.6,97.5 L311.6,97.3 L312.6,96.6 L313.6,95.0 L314.6,94.7 L315.6,94.1 L316.6,94.2 L317.6,93.8 L318.6,92.3 L319.6,92.5 L320.6,92.3 L321.6,91.9 L322.6,90.3 L323.6,90.6 L324.6,89.5 L325.6,89.8 L326.6,89.5 L327.6,88.1 L328.6,88.2 L329.6,87.9 L330.6,87.4 L331.6,86.5 L332.6,85.5 L333.6,85.1 L334.6,84.4 L335.6,83.1 L336.6,83.2 L337.6,82.3 L338.6,81.3 L339.6,80.9 L340.6,79.7 L341.6,79.9 L342.6,79.2 L343.6,78.9 L344.6,77.7 L345.6,77.3 L346.6,77.3 L347.6,77.3 L348.6,76.9 L349.6,76.6 L350.6,75.4 L351.6,75.5 L352.6,75.1 L353.6,73.6 L354.6,73.9 L355.6,73.2 L356.6,71.9 L357.6,69.8 L358.6,67.2 L359.6,67.1 L360.6,66.0 L361.6,65.7 L362.6,64.2 L363.6,64.2 L364.6,62.9 L365.6,62.2 L366.6,60.9 L367.6,60.7 L368.6,59.7 L369.6,58.9 L370.6,57.7 L371.6,57.5 L372.6,57.4 L373.6,56.3 L374.6,56.0 L375.6,55.2 L376.6,55.9 L377.6,54.8 L378.6,54.1 L379.6,53.9 L380.6,54.0 L381.6,53.9 L382.6,52.6 L383.6,52.5 L384.6,52.1 L385.6,52.8 L386.6,52.7 L387.6,51.5 L388.6,51.7 L389.6,52.1 L390.6,51.3 L391.6,51.4 L392.6,50.4 L393.6,49.7 L394.6,50.3 L395.6,48.8 L396.6,48.8 L397.6,49.0 L398.6,47.5 L399.6,47.9 L400.6,47.8 L401.6,46.4 L402.6,47.0 L403.6,45.8 L404.6,46.0 L405.6,44.8 L406.6,43.9 L407.6,43.2 L408.6,42.4 L409.6,41.5 L410.6,40.7 L411.6,40.4 L412.6,39.2 L413.6,37.9 L414.6,36.5 L415.6,36.3 L416.6,35.9 L417.2,35.8 L417.2,64.9 L416.6,64.9 L415.6,66.3 L414.6,66.4 L413.6,67.2 L412.6,68.5 L411.6,68.1 L410.6,68.2 L409.6,69.4 L408.6,69.8 L407.6,69.7 L406.6,70.5 L405.6,70.6 L404.6,70.9 L403.6,72.0 L402.6,72.5 L401.6,73.1 L400.6,72.7 L399.6,73.8 L398.6,74.2 L397.6,74.5 L396.6,74.9 L395.6,74.4 L394.6,74.5 L393.6,75.6 L392.6,75.2 L391.6,75.7 L390.6,75.8 L389.6,75.6 L388.6,75.6 L387.6,76.4 L386.6,77.0 L385.6,76.6 L384.6,76.9 L383.6,76.6 L382.6,76.9 L381.6,77.2 L380.6,78.1 L379.6,78.4 L378.6,78.4 L377.6,78.4 L376.6,78.9 L375.6,78.1 L374.6,78.9 L373.6,79.3 L372.6,79.7 L371.6,79.1 L370.6,80.5 L369.6,79.7 L368.6,80.4 L367.6,80.7 L366.6,80.9 L365.6,81.3 L364.6,82.0 L363.6,82.9 L362.6,82.9 L361.6,83.4 L360.6,82.9 L359.6,83.9 L358.6,83.6 L357.6,84.0 L356.6,84.4 L355.6,85.4 L354.6,85.1 L353.6,86.0 L352.6,86.1 L351.6,86.9 L350.6,87.6 L349.6,87.6 L348.6,88.2 L347.6,87.6 L346.6,88.9 L345.6,88.7 L344.6,88.5 L343.6,89.8 L342.6,89.9 L341.6,89.9 L340.6,90.3 L339.6,91.0 L338.6,92.2 L337.6,92.2 L336.6,93.4 L335.6,93.4 L334.6,94.7 L333.6,95.9 L332.6,96.0 L331.6,97.1 L330.6,97.6 L329.6,97.9 L328.6,98.4 L327.6,98.6 L326.6,98.9 L325.6,98.8 L324.6,99.2 L323.6,100.0 L322.6,99.2 L321.6,100.3 L320.6,100.0 L319.6,100.5 L318.6,101.0 L317.6,101.5 L316.6,101.8 L315.6,101.4 L314.6,102.5 L313.6,102.7 L312.6,102.2 L311.6,102.4 L310.6,102.6 L309.6,102.7 L308.6,103.3 L307.6,104.2 L306.6,104.3 L305.6,105.3 L304.6,105.0 L303.6,104.4 L302.6,105.5Z" fill="#1e88e5"/>
<circle cx="328.8" cy="96.9" r="0.57" fill="#fff" fill-opacity="1.0"/>
<circle cx="306.9" cy="101.7" r="0.54" fill="#fff" fill-opacity="1.0"/>
<circle cx="349.3" cy="78.5" r="0.54" fill="#fff" fill-opacity="1.0"/>
<circle cx="318.1" cy="96.1" r="0.55" fill="#fff" fill-opacity="1.0"/>
<circle cx="329.5" cy="91.2" r="0.53" fill="#fff" fill-opacity="1.0"/>
<circle cx="354.9" cy="76.8" r="0.72" fill="#fff" fill-opacity="1.0"/>
<circle cx="315.0" cy="100.2" r="0.58" fill="#fff" fill-opacity="1.0"/>
<circle cx="314.5" cy="98.5" r="0.84" fill="#fff" fill-opacity="1.0"/>
<circle cx="352.1" cy="76.8" r="0.80" fill="#fff" fill-opacity="1.0"/>
<circle cx="307.0" cy="100.8" r="0.83" fill="#fff" fill-opacity="1.0"/>
<circle cx="304.8" cy="101.7" r="0.54" fill="#fff" fill-opacity="1.0"/>
<circle cx="304.1" cy="102.4" r="0.56" fill="#fff" fill-opacity="1.0"/>
<circle cx="326.6" cy="91.9" r="0.69" fill="#fff" fill-opacity="1.0"/>
<circle cx="311.2" cy="100.1" r="0.74" fill="#fff" fill-opacity="1.0"/>
<circle cx="314.2" cy="96.7" r="0.70" fill="#fff" fill-opacity="1.0"/>
<circle cx="329.8" cy="89.3" r="0.70" fill="#fff" fill-opacity="1.0"/>
<circle cx="340.8" cy="85.8" r="0.56" fill="#fff" fill-opacity="1.0"/>
<circle cx="307.4" cy="101.0" r="0.74" fill="#fff" fill-opacity="1.0"/>
<circle cx="306.9" cy="101.0" r="0.78" fill="#fff" fill-opacity="1.0"/>
<circle cx="349.0" cy="86.5" r="0.81" fill="#fff" fill-opacity="1.0"/>
<circle cx="328.8" cy="91.4" r="0.56" fill="#fff" fill-opacity="1.0"/>
<circle cx="347.2" cy="86.7" r="0.62" fill="#fff" fill-opacity="1.0"/>
<circle cx="334.9" cy="86.3" r="0.65" fill="#fff" fill-opacity="1.0"/>
<circle cx="330.8" cy="89.9" r="0.78" fill="#fff" fill-opacity="1.0"/>
<circle cx="349.0" cy="79.3" r="0.62" fill="#fff" fill-opacity="1.0"/>
<circle cx="401.7" cy="50.2" r="0.82" fill="#fff" fill-opacity="1.0"/>
<circle cx="386.8" cy="73.9" r="0.68" fill="#fff" fill-opacity="1.0"/>
<circle cx="359.2" cy="71.5" r="0.55" fill="#fff" fill-opacity="1.0"/>
<circle cx="364.0" cy="66.7" r="0.50" fill="#fff" fill-opacity="1.0"/>
<circle cx="363.6" cy="80.7" r="0.50" fill="#fff" fill-opacity="1.0"/>
<circle cx="392.9" cy="72.7" r="0.74" fill="#fff" fill-opacity="1.0"/>
<circle cx="364.0" cy="76.4" r="0.51" fill="#fff" fill-opacity="1.0"/>
<circle cx="365.2" cy="79.4" r="0.59" fill="#fff" fill-opacity="1.0"/>
<circle cx="365.1" cy="80.3" r="0.70" fill="#fff" fill-opacity="1.0"/>
<circle cx="408.1" cy="45.8" r="0.75" fill="#fff" fill-opacity="1.0"/>
<circle cx="367.6" cy="78.6" r="0.63" fill="#fff" fill-opacity="1.0"/>
<circle cx="382.5" cy="65.8" r="0.63" fill="#fff" fill-opacity="1.0"/>
<circle cx="412.8" cy="48.8" r="0.57" fill="#fff" fill-opacity="1.0"/>
<circle cx="377.5" cy="74.6" r="0.77" fill="#fff" fill-opacity="1.0"/>
<circle cx="411.1" cy="63.5" r="0.51" fill="#fff" fill-opacity="1.0"/>
<circle cx="388.1" cy="73.5" r="0.58" fill="#fff" fill-opacity="1.0"/>
<circle cx="382.6" cy="75.2" r="0.68" fill="#fff" fill-opacity="1.0"/>
<circle cx="362.0" cy="80.5" r="0.50" fill="#fff" fill-opacity="1.0"/>
<circle cx="366.1" cy="76.4" r="0.82" fill="#fff" fill-opacity="1.0"/>
<circle cx="394.9" cy="71.0" r="0.80" fill="#fff" fill-opacity="1.0"/>
<circle cx="360.0" cy="81.6" r="0.73" fill="#fff" fill-opacity="1.0"/>
<circle cx="373.9" cy="75.5" r="0.71" fill="#fff" fill-opacity="1.0"/>
<circle cx="372.6" cy="77.1" r="0.82" fill="#fff" fill-opacity="1.0"/>
<circle cx="374.7" cy="59.0" r="0.53" fill="#fff" fill-opacity="1.0"/>
<circle cx="392.6" cy="63.2" r="0.58" fill="#fff" fill-opacity="1.0"/>
<circle cx="385.1" cy="75.2" r="0.53" fill="#fff" fill-opacity="1.0"/>
<circle cx="365.6" cy="64.3" r="0.59" fill="#fff" fill-opacity="1.0"/>
<circle cx="372.2" cy="60.0" r="0.78" fill="#fff" fill-opacity="1.0"/>
<circle cx="393.5" cy="72.3" r="0.56" fill="#fff" fill-opacity="1.0"/>
<circle cx="399.3" cy="71.1" r="0.70" fill="#fff" fill-opacity="1.0"/>
<circle cx="385.3" cy="54.2" r="0.57" fill="#fff" fill-opacity="1.0"/>
<circle cx="387.8" cy="73.6" r="0.49" fill="#fff" fill-opacity="1.0"/>
<circle cx="378.5" cy="60.7" r="0.68" fill="#fff" fill-opacity="1.0"/>
<circle cx="386.6" cy="55.8" r="0.59" fill="#fff" fill-opacity="1.0"/>
<circle cx="402.9" cy="47.7" r="0.79" fill="#fff" fill-opacity="1.0"/>
<circle cx="383.6" cy="55.0" r="0.64" fill="#fff" fill-opacity="1.0"/>
<circle cx="400.8" cy="48.9" r="0.83" fill="#fff" fill-opacity="1.0"/>
<circle cx="401.0" cy="49.1" r="0.61" fill="#fff" fill-opacity="1.0"/>
<circle cx="397.3" cy="70.9" r="0.78" fill="#fff" fill-opacity="1.0"/>
<circle cx="388.1" cy="69.4" r="0.76" fill="#fff" fill-opacity="1.0"/>
<circle cx="385.7" cy="69.1" r="0.81" fill="#fff" fill-opacity="1.0"/>
<circle cx="365.4" cy="63.5" r="0.76" fill="#fff" fill-opacity="1.0"/>
<circle cx="392.1" cy="71.8" r="0.69" fill="#fff" fill-opacity="1.0"/>
<circle cx="382.3" cy="73.4" r="0.70" fill="#fff" fill-opacity="1.0"/>
<circle cx="380.1" cy="75.4" r="0.74" fill="#fff" fill-opacity="1.0"/>
<line x1="304.00" y1="100.5" x2="304.00" y2="104.0" stroke="#fff" stroke-opacity="0.35" stroke-width="0.45"/>
<line x1="306.83" y1="99.8" x2="306.83" y2="103.4" stroke="#fff" stroke-opacity="0.35" stroke-width="0.45"/>
<line x1="309.79" y1="99.4" x2="309.79" y2="102.1" stroke="#fff" stroke-opacity="0.35" stroke-width="0.45"/>
<line x1="312.56" y1="96.8" x2="312.56" y2="101.8" stroke="#fff" stroke-opacity="0.35" stroke-width="0.45"/>
<line x1="315.16" y1="96.0" x2="315.16" y2="100.8" stroke="#fff" stroke-opacity="0.35" stroke-width="0.45"/>
<line x1="317.73" y1="95.1" x2="317.73" y2="100.3" stroke="#fff" stroke-opacity="0.35" stroke-width="0.45"/>
<line x1="320.72" y1="93.4" x2="320.72" y2="98.3" stroke="#fff" stroke-opacity="0.35" stroke-width="0.45"/>
<line x1="323.36" y1="91.5" x2="323.36" y2="97.8" stroke="#fff" stroke-opacity="0.35" stroke-width="0.45"/>
<line x1="325.88" y1="89.8" x2="325.88" y2="97.8" stroke="#fff" stroke-opacity="0.35" stroke-width="0.45"/>
<line x1="328.68" y1="90.0" x2="328.68" y2="96.9" stroke="#fff" stroke-opacity="0.35" stroke-width="0.45"/>
<line x1="331.50" y1="88.4" x2="331.50" y2="95.9" stroke="#fff" stroke-opacity="0.35" stroke-width="0.45"/>
<line x1="334.31" y1="85.7" x2="334.31" y2="93.9" stroke="#fff" stroke-opacity="0.35" stroke-width="0.45"/>
<line x1="337.03" y1="83.6" x2="337.03" y2="91.9" stroke="#fff" stroke-opacity="0.35" stroke-width="0.45"/>
<circle cx="379.8" cy="77.4" r="0.85" fill="#1e88e5"/>
<circle cx="345.8" cy="77.3" r="0.85" fill="#1e88e5"/>
<circle cx="368.2" cy="81.5" r="0.85" fill="#1e88e5"/>
<circle cx="358.4" cy="67.4" r="0.85" fill="#1e88e5"/>
<circle cx="415.8" cy="35.5" r="0.85" fill="#1e88e5"/>
<circle cx="395.5" cy="49.5" r="0.85" fill="#1e88e5"/>
<circle cx="413.8" cy="67.8" r="0.85" fill="#1e88e5"/>
<circle cx="316.0" cy="102.2" r="0.85" fill="#1e88e5"/>
<circle cx="396.0" cy="75.3" r="0.85" fill="#1e88e5"/>
<circle cx="351.0" cy="75.6" r="0.85" fill="#1e88e5"/>
<circle cx="361.2" cy="82.9" r="0.85" fill="#1e88e5"/>
<circle cx="324.1" cy="99.8" r="0.85" fill="#1e88e5"/>
<circle cx="343.4" cy="89.9" r="0.85" fill="#1e88e5"/>
<circle cx="308.4" cy="97.6" r="0.85" fill="#1e88e5"/>
<circle cx="338.1" cy="91.4" r="0.85" fill="#1e88e5"/>
<circle cx="337.9" cy="92.5" r="0.85" fill="#1e88e5"/>
<circle cx="378.8" cy="54.2" r="0.85" fill="#1e88e5"/>
<circle cx="365.9" cy="61.5" r="0.85" fill="#1e88e5"/>
<circle cx="363.4" cy="82.7" r="0.85" fill="#1e88e5"/>
<circle cx="349.9" cy="76.4" r="0.85" fill="#1e88e5"/>
<circle cx="389.1" cy="52.1" r="0.85" fill="#1e88e5"/>
<circle cx="322.8" cy="100.4" r="0.85" fill="#1e88e5"/>
<circle cx="372.6" cy="78.9" r="0.85" fill="#1e88e5"/>
<circle cx="305.0" cy="104.8" r="0.85" fill="#1e88e5"/>
<circle cx="384.2" cy="53.1" r="0.85" fill="#1e88e5"/>
<circle cx="333.6" cy="84.0" r="0.85" fill="#1e88e5"/>
<circle cx="369.2" cy="59.1" r="0.85" fill="#1e88e5"/>
<circle cx="347.0" cy="76.3" r="0.85" fill="#1e88e5"/>
<circle cx="369.2" cy="80.4" r="0.85" fill="#1e88e5"/>
<circle cx="373.4" cy="57.3" r="0.85" fill="#1e88e5"/>
<circle cx="408.4" cy="69.6" r="0.85" fill="#1e88e5"/>
<circle cx="404.8" cy="71.1" r="0.85" fill="#1e88e5"/>
<circle cx="371.4" cy="79.8" r="0.85" fill="#1e88e5"/>
<circle cx="410.5" cy="41.2" r="0.85" fill="#1e88e5"/>
<circle cx="384.5" cy="52.8" r="0.85" fill="#1e88e5"/>
<circle cx="402.2" cy="46.0" r="0.85" fill="#1e88e5"/>
<circle cx="331.0" cy="86.8" r="0.85" fill="#1e88e5"/>
<circle cx="324.6" cy="99.2" r="0.85" fill="#1e88e5"/>
<circle cx="366.8" cy="60.9" r="0.85" fill="#1e88e5"/>
<circle cx="347.0" cy="77.6" r="0.85" fill="#1e88e5"/>
<circle cx="317.5" cy="101.2" r="0.85" fill="#1e88e5"/>
<circle cx="331.2" cy="86.8" r="0.85" fill="#1e88e5"/>
<circle cx="330.3" cy="86.9" r="0.85" fill="#1e88e5"/>
<circle cx="342.0" cy="78.8" r="0.85" fill="#1e88e5"/>
<circle cx="314.0" cy="94.7" r="0.85" fill="#1e88e5"/>
<circle cx="318.0" cy="92.5" r="0.85" fill="#1e88e5"/>
<circle cx="394.2" cy="50.0" r="0.85" fill="#1e88e5"/>
<circle cx="384.9" cy="51.7" r="0.85" fill="#1e88e5"/>
<circle cx="327.0" cy="99.0" r="0.85" fill="#1e88e5"/>
<circle cx="329.2" cy="88.3" r="0.85" fill="#1e88e5"/>
<circle cx="383.1" cy="52.2" r="0.85" fill="#1e88e5"/>
<circle cx="369.8" cy="58.9" r="0.85" fill="#1e88e5"/>
<circle cx="372.1" cy="56.7" r="0.85" fill="#1e88e5"/>
<circle cx="317.4" cy="101.5" r="0.85" fill="#1e88e5"/>
<circle cx="334.0" cy="95.0" r="0.85" fill="#1e88e5"/>
<circle cx="377.6" cy="78.1" r="0.85" fill="#1e88e5"/>
<circle cx="347.5" cy="77.2" r="0.85" fill="#1e88e5"/>
<circle cx="399.4" cy="47.3" r="0.85" fill="#1e88e5"/>
<circle cx="315.9" cy="101.7" r="0.85" fill="#1e88e5"/>
<circle cx="359.9" cy="67.0" r="0.85" fill="#1e88e5"/>
<circle cx="338.6" cy="81.6" r="0.85" fill="#1e88e5"/>
<circle cx="384.3" cy="52.7" r="0.85" fill="#1e88e5"/>
<circle cx="405.9" cy="71.5" r="0.85" fill="#1e88e5"/>
<circle cx="400.6" cy="47.5" r="0.85" fill="#1e88e5"/>
<circle cx="306.9" cy="104.6" r="0.85" fill="#1e88e5"/>
<circle cx="343.2" cy="78.3" r="0.85" fill="#1e88e5"/>
<circle cx="382.3" cy="52.5" r="0.85" fill="#1e88e5"/>
<circle cx="343.2" cy="89.2" r="0.85" fill="#1e88e5"/>
<circle cx="316.6" cy="102.1" r="0.85" fill="#1e88e5"/>
<circle cx="383.8" cy="53.3" r="0.85" fill="#1e88e5"/>
<circle cx="321.8" cy="91.3" r="0.85" fill="#1e88e5"/>
<circle cx="346.5" cy="77.4" r="0.85" fill="#1e88e5"/>
<circle cx="375.5" cy="55.1" r="0.85" fill="#1e88e5"/>
<circle cx="367.8" cy="80.6" r="0.85" fill="#1e88e5"/>
<circle cx="352.6" cy="86.2" r="0.85" fill="#1e88e5"/>
<circle cx="303.7" cy="105.5" r="0.85" fill="#1e88e5"/>
<circle cx="335.8" cy="82.5" r="0.85" fill="#1e88e5"/>
<circle cx="372.0" cy="57.7" r="0.85" fill="#1e88e5"/>
<circle cx="316.1" cy="101.4" r="0.85" fill="#1e88e5"/>
<circle cx="406.6" cy="70.0" r="0.85" fill="#1e88e5"/>
<circle cx="381.8" cy="52.8" r="0.85" fill="#1e88e5"/>
<circle cx="396.9" cy="49.3" r="0.85" fill="#1e88e5"/>
<circle cx="410.2" cy="40.8" r="0.85" fill="#1e88e5"/>
<circle cx="381.5" cy="78.1" r="0.85" fill="#1e88e5"/>
<circle cx="374.3" cy="56.9" r="0.85" fill="#1e88e5"/>
<circle cx="382.2" cy="53.1" r="0.85" fill="#1e88e5"/>
<circle cx="408.1" cy="42.7" r="0.85" fill="#1e88e5"/>
<circle cx="308.5" cy="104.3" r="0.85" fill="#1e88e5"/>
<circle cx="333.0" cy="96.7" r="0.85" fill="#1e88e5"/>
<circle cx="375.4" cy="78.5" r="0.85" fill="#1e88e5"/>
<circle cx="380.0" cy="50.8" r="0.9" fill="#1e88e5"/>
<circle cx="414.0" cy="33.5" r="0.9" fill="#1e88e5"/>
<rect x="304.00" y="142.40" width="1.50" height="0.40" fill="#000" fill-opacity="0.12"/>
<rect x="306.25" y="142.30" width="1.50" height="0.50" fill="#000" fill-opacity="0.12"/>
<rect x="308.50" y="142.30" width="1.50" height="0.50" fill="#000" fill-opacity="0.12"/>
<rect x="310.75" y="142.20" width="1.50" height="0.60" fill="#000" fill-opacity="0.12"/>
<rect x="313.00" y="142.20" width="1.50" height="0.60" fill="#000" fill-opacity="0.12"/>
<rect x="315.25" y="142.10" width="1.50" height="0.70" fill="#000" fill-opacity="0.12"/>
<rect x="317.50" y="142.10" width="1.50" height="0.70" fill="#000" fill-opacity="0.12"/>
<rect x="319.75" y="142.00" width="1.50" height="0.80" fill="#000" fill-opacity="0.12"/>
<rect x="322.00" y="142.00" width="1.50" height="0.80" fill="#000" fill-opacity="0.12"/>
<rect x="324.25" y="141.90" width="1.50" height="0.90" fill="#000" fill-opacity="0.12"/>
<rect x="326.50" y="141.80" width="1.50" height="1.00" fill="#000" fill-opacity="0.12"/>
<rect x="328.75" y="141.80" width="1.50" height="1.00" fill="#000" fill-opacity="0.12"/>
<rect x="331.00" y="141.70" width="1.50" height="1.10" fill="#000" fill-opacity="0.12"/>
<rect x="333.25" y="141.70" width="1.50" height="1.10" fill="#000" fill-opacity="0.12"/>
<rect x="335.50" y="141.60" width="1.50" height="1.20" fill="#000" fill-opacity="0.12"/>
<rect x="337.75" y="141.60" width="1.50" height="1.20" fill="#000" fill-opacity="0.12"/>
<rect x="340.00" y="141.50" width="1.50" height="1.30" fill="#000" fill-opacity="0.12"/>
<rect x="342.25" y="141.50" width="1.50" height="1.30" fill="#000" fill-opacity="0.12"/>
<rect x="344.50" y="141.60" width="1.50" height="1.20" fill="#000" fill-opacity="0.12"/>
<rect x="346.75" y="141.50" width="1.50" height="1.30" fill="#000" fill-opacity="0.12"/>
<rect x="349.00" y="141.60" width="1.50" height="1.20" fill="#000" fill-opacity="0.12"/>
<rect x="351.25" y="141.60" width="1.50" height="1.20" fill="#000" fill-opacity="0.12"/>
<rect x="353.50" y="141.70" width="1.50" height="1.10" fill="#000" fill-opacity="0.12"/>
<rect x="355.75" y="141.70" width="1.50" height="1.10" fill="#000" fill-opacity="0.12"/>
<rect x="358.00" y="141.80" width="1.50" height="1.00" fill="#000" fill-opacity="0.12"/>
<rect x="360.25" y="141.80" width="1.50" height="1.00" fill="#000" fill-opacity="0.12"/>
<rect x="362.50" y="141.90" width="1.50" height="0.90" fill="#000" fill-opacity="0.12"/>
<rect x="364.75" y="141.90" width="1.50" height="0.90" fill="#000" fill-opacity="0.12"/>
<rect x="367.00" y="142.00" width="1.50" height="0.80" fill="#000" fill-opacity="0.12"/>
<rect x="369.25" y="142.00" width="1.50" height="0.80" fill="#000" fill-opacity="0.12"/>
<rect x="371.50" y="142.10" width="1.50" height="0.70" fill="#000" fill-opacity="0.12"/>
<rect x="373.75" y="142.10" width="1.50" height="0.70" fill="#000" fill-opacity="0.12"/>
<rect x="376.00" y="142.20" width="1.50" height="0.60" fill="#000" fill-opacity="0.12"/>
<rect x="378.25" y="142.20" width="1.50" height="0.60" fill="#000" fill-opacity="0.12"/>
<rect x="380.50" y="142.30" width="1.50" height="0.50" fill="#000" fill-opacity="0.12"/>
<rect x="382.75" y="142.30" width="1.50" height="0.50" fill="#000" fill-opacity="0.12"/>
<rect x="385.00" y="142.30" width="1.50" height="0.50" fill="#000" fill-opacity="0.12"/>
<rect x="387.25" y="142.40" width="1.50" height="0.40" fill="#000" fill-opacity="0.12"/>
<rect x="389.50" y="142.40" width="1.50" height="0.40" fill="#000" fill-opacity="0.12"/>
<rect x="391.75" y="142.40" width="1.50" height="0.40" fill="#000" fill-opacity="0.12"/>
<rect x="394.00" y="142.50" width="1.50" height="0.30" fill="#000" fill-opacity="0.12"/>
<rect x="396.25" y="142.50" width="1.50" height="0.30" fill="#000" fill-opacity="0.12"/>
<rect x="398.50" y="142.50" width="1.50" height="0.30" fill="#000" fill-opacity="0.12"/>
<rect x="400.75" y="142.50" width="1.50" height="0.30" fill="#000" fill-opacity="0.12"/>
<rect x="403.00" y="142.50" width="1.50" height="0.30" fill="#000" fill-opacity="0.12"/>
<rect x="405.25" y="142.50" width="1.50" height="0.30" fill="#000" fill-opacity="0.12"/>
<rect x="407.50" y="142.60" width="1.50" height="0.20" fill="#000" fill-opacity="0.12"/>
<rect x="409.75" y="142.60" width="1.50" height="0.20" fill="#000" fill-opacity="0.12"/>
<rect x="412.00" y="142.60" width="1.50" height="0.20" fill="#000" fill-opacity="0.12"/>
<rect x="414.25" y="142.60" width="1.50" height="0.20" fill="#000" fill-opacity="0.12"/>
<line x1="298.50" y1="95.50" x2="421.60" y2="95.50" stroke="#3a3a3a" stroke-width="0.6" stroke-dasharray="2.85,0.95" stroke-dashoffset="2.9"/>
<path d="M298.50,30.50 L298.50,143.00 L421.60,143.00" fill="none" stroke="#6a6a6a" stroke-width="0.6"/>
<text x="360.05" y="17.15" font-size="7.6" text-anchor="middle" fill="#000">Physics</text>
<text x="360.05" y="26.60" font-size="7.6" text-anchor="middle" fill="#000">(0.495)</text>
<line x1="304.10" y1="143.00" x2="304.10" y2="145.10" stroke="#333333" stroke-width="0.5"/>
<text x="304.10" y="152.30" font-size="6.4" text-anchor="middle" fill="#333333">0</text>
<line x1="326.48" y1="143.00" x2="326.48" y2="145.10" stroke="#333333" stroke-width="0.5"/>
<text x="326.48" y="152.30" font-size="6.4" text-anchor="middle" fill="#333333">2</text>
<line x1="348.86" y1="143.00" x2="348.86" y2="145.10" stroke="#333333" stroke-width="0.5"/>
<text x="348.86" y="152.30" font-size="6.4" text-anchor="middle" fill="#333333">4</text>
<line x1="371.24" y1="143.00" x2="371.24" y2="145.10" stroke="#333333" stroke-width="0.5"/>
<text x="371.24" y="152.30" font-size="6.4" text-anchor="middle" fill="#333333">6</text>
<line x1="393.62" y1="143.00" x2="393.62" y2="145.10" stroke="#333333" stroke-width="0.5"/>
<text x="393.62" y="152.30" font-size="6.4" text-anchor="middle" fill="#333333">8</text>
<line x1="416.00" y1="143.00" x2="416.00" y2="145.10" stroke="#333333" stroke-width="0.5"/>
<text x="416.00" y="152.30" font-size="6.4" text-anchor="middle" fill="#333333">10</text>
<path d="M451.8,73.5 L452.5,71.7 L453.2,70.8 L454.0,70.2 L454.7,71.2 L455.4,72.1 L456.1,72.3 L456.8,72.0 L457.5,71.4 L458.3,71.1 L459.0,71.3 L459.7,71.3 L460.4,71.6 L461.1,71.2 L461.9,71.2 L462.6,71.7 L463.3,71.4 L464.0,71.8 L464.7,71.9 L465.4,72.4 L466.2,72.5 L466.9,73.1 L467.6,74.5 L467.7,70.9 L467.7,71.8 L467.6,72.8 L467.8,73.7 L467.8,74.6 L467.3,75.5 L467.5,76.5 L467.5,77.4 L467.4,78.3 L467.3,79.2 L467.4,80.2 L467.4,81.1 L467.7,82.0 L467.6,82.9 L467.3,83.9 L467.5,84.8 L467.6,85.7 L467.5,86.6 L467.4,87.6 L467.3,88.5 L467.6,87.4 L466.9,88.3 L466.2,88.9 L465.4,89.3 L464.7,89.0 L464.0,88.8 L463.3,89.1 L462.6,89.3 L461.9,89.1 L461.1,89.1 L460.4,89.3 L459.7,89.1 L459.0,89.4 L458.3,88.8 L457.5,89.0 L456.8,89.0 L456.1,88.8 L455.4,89.0 L454.7,89.2 L454.0,89.3 L453.2,89.2 L452.5,88.9 L451.8,86.9 L452.0,88.5 L451.7,87.6 L451.6,86.6 L451.9,85.7 L452.0,84.8 L452.1,83.9 L451.6,82.9 L452.0,82.0 L452.0,81.1 L452.0,80.2 L451.7,79.2 L451.6,78.3 L452.0,77.4 L451.7,76.5 L451.7,75.5 L451.8,74.6 L451.7,73.7 L452.0,72.8 L451.6,71.8 L451.5,70.9Z" fill="#1e88e5"/>
<path d="M513.4,100.3 L514.1,99.7 L514.9,99.3 L515.6,98.9 L516.3,98.9 L517.0,98.8 L517.8,98.6 L518.5,98.6 L519.2,98.5 L520.0,98.6 L520.7,98.8 L521.4,98.5 L522.1,98.8 L522.9,98.4 L523.6,98.4 L524.3,98.7 L525.1,98.1 L525.8,98.2 L526.5,98.7 L527.2,98.8 L528.0,99.7 L528.7,100.0 L528.9,98.9 L528.9,99.8 L528.9,100.8 L528.6,101.7 L528.5,102.6 L528.8,103.5 L528.7,104.4 L528.6,105.4 L528.6,106.3 L528.7,107.2 L528.8,108.1 L528.9,109.0 L529.0,110.0 L528.5,110.9 L528.7,109.6 L528.0,111.1 L527.2,111.4 L526.5,111.6 L525.8,111.7 L525.1,111.7 L524.3,111.6 L523.6,111.5 L522.9,111.2 L522.1,111.3 L521.4,111.3 L520.7,111.2 L520.0,111.2 L519.2,111.4 L518.5,111.3 L517.8,111.8 L517.0,111.4 L516.3,111.4 L515.6,111.6 L514.9,111.4 L514.1,110.8 L513.4,109.5 L513.5,110.9 L513.3,110.0 L513.3,109.0 L513.7,108.1 L513.1,107.2 L513.2,106.3 L513.5,105.4 L513.4,104.4 L513.1,103.5 L513.5,102.6 L513.3,101.7 L513.5,100.8 L513.3,99.8 L513.4,98.9Z" fill="#1e88e5"/>
<path d="M428.60,143.00 L428.60,100.70 L490.10,100.70 L490.10,72.20 L551.70,72.20 L551.70,143.00Z" fill="#000" fill-opacity="0.2"/>
<line x1="428.60" y1="95.50" x2="551.70" y2="95.50" stroke="#3a3a3a" stroke-width="0.6" stroke-dasharray="2.85,0.95" stroke-dashoffset="2.9"/>
<path d="M428.60,30.50 L428.60,143.00 L551.70,143.00" fill="none" stroke="#6a6a6a" stroke-width="0.6"/>
<text x="490.15" y="17.15" font-size="7.6" text-anchor="middle" fill="#000">Gender</text>
<text x="490.15" y="26.60" font-size="7.6" text-anchor="middle" fill="#000">(0.488)</text>
<line x1="459.30" y1="143.00" x2="459.30" y2="145.10" stroke="#333333" stroke-width="0.5"/>
<text x="461.50" y="148.60" font-size="6.4" text-anchor="end" fill="#333333" transform="rotate(-90 461.50 148.60)">Male</text>
<line x1="520.90" y1="143.00" x2="520.90" y2="145.10" stroke="#333333" stroke-width="0.5"/>
<text x="523.10" y="148.60" font-size="6.4" text-anchor="end" fill="#333333" transform="rotate(-90 523.10 148.60)">Female</text>
<path d="M567.5,102.1 L568.5,100.5 L569.5,101.2 L570.5,100.0 L571.5,100.0 L572.5,100.2 L573.5,100.0 L574.5,99.6 L575.5,99.3 L576.5,99.8 L577.5,99.5 L578.5,99.4 L579.5,99.4 L580.5,99.5 L581.5,99.9 L582.5,98.9 L583.5,99.3 L584.5,100.1 L585.5,100.0 L586.5,100.2 L587.5,99.4 L588.5,98.6 L589.5,98.4 L590.5,98.5 L591.5,98.4 L592.5,97.9 L593.5,97.6 L594.5,96.3 L595.5,95.9 L596.5,95.6 L597.5,94.3 L598.5,94.4 L599.5,94.4 L600.5,94.8 L601.5,95.4 L602.5,94.9 L603.5,95.7 L604.5,94.6 L605.5,94.4 L606.5,92.5 L607.5,91.7 L608.5,91.1 L609.5,90.6 L610.5,90.3 L611.5,90.7 L612.5,90.3 L613.5,90.4 L614.5,89.5 L615.5,89.6 L616.5,89.7 L617.5,88.8 L618.5,89.3 L619.5,88.9 L620.5,89.0 L621.5,88.5 L622.5,87.1 L623.5,86.8 L624.5,86.7 L625.5,85.7 L626.5,85.4 L627.5,84.7 L628.5,83.6 L629.5,83.4 L630.5,82.9 L631.5,81.6 L632.5,81.6 L633.5,80.4 L634.5,79.6 L635.5,79.1 L636.5,78.8 L637.5,77.5 L638.5,77.0 L639.5,75.9 L640.5,74.9 L641.5,74.9 L642.5,74.6 L643.5,73.3 L644.5,73.3 L645.5,72.8 L646.5,72.4 L647.5,71.5 L648.5,71.5 L649.5,71.3 L650.5,70.7 L651.5,70.5 L652.5,69.8 L653.5,70.0 L654.5,69.8 L655.5,69.0 L656.5,68.9 L657.5,69.2 L658.5,69.2 L659.5,68.9 L660.5,67.7 L661.5,68.2 L662.5,67.8 L663.5,67.8 L664.5,67.2 L665.5,68.1 L666.5,67.2 L667.5,66.9 L668.5,67.5 L669.5,66.9 L670.5,67.1 L671.5,67.2 L672.5,67.3 L673.5,67.1 L674.5,67.4 L675.5,66.8 L676.5,66.6 L677.5,67.5 L677.5,88.7 L676.5,88.5 L675.5,88.1 L674.5,89.0 L673.5,88.0 L672.5,89.1 L671.5,88.1 L670.5,88.9 L669.5,88.2 L668.5,88.3 L667.5,88.4 L666.5,88.2 L665.5,88.6 L664.5,88.9 L663.5,89.5 L662.5,89.5 L661.5,89.9 L660.5,89.1 L659.5,89.7 L658.5,89.5 L657.5,89.9 L656.5,89.8 L655.5,89.6 L654.5,90.0 L653.5,90.4 L652.5,91.0 L651.5,90.3 L650.5,90.6 L649.5,91.0 L648.5,92.0 L647.5,91.6 L646.5,91.9 L645.5,92.2 L644.5,92.8 L643.5,93.6 L642.5,94.0 L641.5,94.7 L640.5,94.5 L639.5,95.4 L638.5,96.1 L637.5,96.6 L636.5,96.2 L635.5,97.8 L634.5,97.8 L633.5,98.3 L632.5,98.5 L631.5,98.8 L630.5,100.3 L629.5,99.7 L628.5,100.8 L627.5,101.0 L626.5,101.7 L625.5,101.9 L624.5,101.9 L623.5,103.3 L622.5,102.9 L621.5,103.6 L620.5,103.7 L619.5,103.7 L618.5,104.2 L617.5,104.9 L616.5,104.2 L615.5,105.4 L614.5,104.8 L613.5,104.9 L612.5,106.1 L611.5,106.1 L610.5,105.9 L609.5,107.2 L608.5,108.1 L607.5,109.4 L606.5,109.6 L605.5,111.7 L604.5,113.0 L603.5,114.2 L602.5,116.5 L601.5,117.9 L600.5,118.2 L599.5,119.3 L598.5,121.5 L597.5,122.0 L596.5,123.6 L595.5,124.7 L594.5,125.8 L593.5,126.8 L592.5,127.3 L591.5,128.3 L590.5,129.0 L589.5,129.8 L588.5,131.4 L587.5,132.3 L586.5,132.1 L585.5,131.6 L584.5,131.4 L583.5,130.2 L582.5,130.3 L581.5,129.4 L580.5,128.0 L579.5,128.0 L578.5,127.4 L577.5,125.8 L576.5,125.1 L575.5,125.4 L574.5,125.4 L573.5,125.3 L572.5,124.8 L571.5,124.5 L570.5,121.4 L569.5,116.4 L568.5,110.6 L567.5,109.9Z" fill="#1e88e5"/>
<circle cx="601.3" cy="97.2" r="0.70" fill="#fff" fill-opacity="1.0"/>
<circle cx="591.5" cy="125.2" r="0.56" fill="#fff" fill-opacity="1.0"/>
<circle cx="570.5" cy="119.8" r="0.66" fill="#fff" fill-opacity="1.0"/>
<circle cx="580.4" cy="125.6" r="0.54" fill="#fff" fill-opacity="1.0"/>
<circle cx="584.9" cy="103.1" r="0.64" fill="#fff" fill-opacity="1.0"/>
<circle cx="603.6" cy="98.2" r="0.69" fill="#fff" fill-opacity="1.0"/>
<circle cx="580.2" cy="100.8" r="0.50" fill="#fff" fill-opacity="1.0"/>
<circle cx="595.7" cy="99.2" r="0.59" fill="#fff" fill-opacity="1.0"/>
<circle cx="587.6" cy="129.7" r="0.67" fill="#fff" fill-opacity="1.0"/>
<circle cx="589.9" cy="101.6" r="0.54" fill="#fff" fill-opacity="1.0"/>
<circle cx="593.8" cy="118.9" r="0.56" fill="#fff" fill-opacity="1.0"/>
<circle cx="595.9" cy="108.6" r="0.55" fill="#fff" fill-opacity="1.0"/>
<circle cx="587.1" cy="105.1" r="0.46" fill="#fff" fill-opacity="1.0"/>
<circle cx="585.4" cy="128.8" r="0.57" fill="#fff" fill-opacity="1.0"/>
<circle cx="603.6" cy="98.6" r="0.48" fill="#fff" fill-opacity="1.0"/>
<circle cx="569.5" cy="102.1" r="0.62" fill="#fff" fill-opacity="1.0"/>
<circle cx="588.2" cy="102.9" r="0.57" fill="#fff" fill-opacity="1.0"/>
<circle cx="573.8" cy="103.1" r="0.75" fill="#fff" fill-opacity="1.0"/>
<circle cx="574.3" cy="103.1" r="0.53" fill="#fff" fill-opacity="1.0"/>
<circle cx="603.4" cy="111.9" r="0.57" fill="#fff" fill-opacity="1.0"/>
<circle cx="596.9" cy="120.8" r="0.75" fill="#fff" fill-opacity="1.0"/>
<circle cx="572.3" cy="102.9" r="0.66" fill="#fff" fill-opacity="1.0"/>
<circle cx="582.8" cy="102.3" r="0.64" fill="#fff" fill-opacity="1.0"/>
<circle cx="583.1" cy="127.5" r="0.66" fill="#fff" fill-opacity="1.0"/>
<circle cx="576.5" cy="101.5" r="0.60" fill="#fff" fill-opacity="1.0"/>
<circle cx="656.9" cy="72.1" r="0.66" fill="#fff" fill-opacity="1.0"/>
<circle cx="658.6" cy="73.9" r="0.64" fill="#fff" fill-opacity="1.0"/>
<circle cx="655.0" cy="86.6" r="0.54" fill="#fff" fill-opacity="1.0"/>
<circle cx="670.2" cy="73.6" r="0.56" fill="#fff" fill-opacity="1.0"/>
<circle cx="663.4" cy="72.1" r="0.68" fill="#fff" fill-opacity="1.0"/>
<circle cx="666.2" cy="86.2" r="0.74" fill="#fff" fill-opacity="1.0"/>
<circle cx="656.4" cy="77.0" r="0.71" fill="#fff" fill-opacity="1.0"/>
<circle cx="673.0" cy="70.4" r="0.78" fill="#fff" fill-opacity="1.0"/>
<circle cx="658.6" cy="70.1" r="0.77" fill="#fff" fill-opacity="1.0"/>
<circle cx="651.2" cy="74.6" r="0.69" fill="#fff" fill-opacity="1.0"/>
<circle cx="653.5" cy="72.9" r="0.48" fill="#fff" fill-opacity="1.0"/>
<circle cx="659.7" cy="83.0" r="0.74" fill="#fff" fill-opacity="1.0"/>
<circle cx="676.0" cy="68.8" r="0.71" fill="#fff" fill-opacity="1.0"/>
<circle cx="668.6" cy="69.7" r="0.53" fill="#fff" fill-opacity="1.0"/>
<circle cx="662.0" cy="69.3" r="0.78" fill="#fff" fill-opacity="1.0"/>
<circle cx="659.1" cy="72.0" r="0.61" fill="#fff" fill-opacity="1.0"/>
<circle cx="654.5" cy="88.6" r="0.68" fill="#fff" fill-opacity="1.0"/>
<circle cx="654.8" cy="79.9" r="0.49" fill="#fff" fill-opacity="1.0"/>
<circle cx="660.0" cy="86.0" r="0.57" fill="#fff" fill-opacity="1.0"/>
<circle cx="656.5" cy="86.6" r="0.69" fill="#fff" fill-opacity="1.0"/>
<circle cx="598.0" cy="94.7" r="0.85" fill="#1e88e5"/>
<circle cx="575.9" cy="99.6" r="0.85" fill="#1e88e5"/>
<circle cx="612.6" cy="105.7" r="0.85" fill="#1e88e5"/>
<circle cx="569.6" cy="117.5" r="0.85" fill="#1e88e5"/>
<circle cx="627.2" cy="101.7" r="0.85" fill="#1e88e5"/>
<circle cx="674.6" cy="89.0" r="0.85" fill="#1e88e5"/>
<circle cx="611.6" cy="90.2" r="0.85" fill="#1e88e5"/>
<circle cx="673.6" cy="67.0" r="0.85" fill="#1e88e5"/>
<circle cx="612.8" cy="89.1" r="0.85" fill="#1e88e5"/>
<circle cx="569.1" cy="114.8" r="0.85" fill="#1e88e5"/>
<circle cx="596.0" cy="123.8" r="0.85" fill="#1e88e5"/>
<circle cx="594.5" cy="97.1" r="0.85" fill="#1e88e5"/>
<circle cx="659.6" cy="90.3" r="0.85" fill="#1e88e5"/>
<circle cx="573.8" cy="125.1" r="0.85" fill="#1e88e5"/>
<circle cx="638.3" cy="95.7" r="0.85" fill="#1e88e5"/>
<circle cx="673.4" cy="66.5" r="0.85" fill="#1e88e5"/>
<circle cx="660.7" cy="89.7" r="0.85" fill="#1e88e5"/>
<circle cx="675.9" cy="66.7" r="0.85" fill="#1e88e5"/>
<circle cx="648.8" cy="71.1" r="0.85" fill="#1e88e5"/>
<circle cx="611.0" cy="106.5" r="0.85" fill="#1e88e5"/>
<circle cx="641.6" cy="74.1" r="0.85" fill="#1e88e5"/>
<circle cx="627.2" cy="84.7" r="0.85" fill="#1e88e5"/>
<circle cx="597.1" cy="122.7" r="0.85" fill="#1e88e5"/>
<circle cx="646.4" cy="92.2" r="0.85" fill="#1e88e5"/>
<circle cx="592.4" cy="96.7" r="0.85" fill="#1e88e5"/>
<circle cx="625.6" cy="102.2" r="0.85" fill="#1e88e5"/>
<circle cx="656.3" cy="69.5" r="0.85" fill="#1e88e5"/>
<circle cx="657.3" cy="68.6" r="0.85" fill="#1e88e5"/>
<circle cx="657.9" cy="90.5" r="0.85" fill="#1e88e5"/>
<circle cx="573.2" cy="99.4" r="0.85" fill="#1e88e5"/>
<circle cx="656.8" cy="69.4" r="0.85" fill="#1e88e5"/>
<circle cx="595.7" cy="96.0" r="0.85" fill="#1e88e5"/>
<circle cx="655.2" cy="90.2" r="0.85" fill="#1e88e5"/>
<circle cx="578.0" cy="98.6" r="0.85" fill="#1e88e5"/>
<circle cx="643.6" cy="73.4" r="0.85" fill="#1e88e5"/>
<circle cx="654.7" cy="89.9" r="0.85" fill="#1e88e5"/>
<circle cx="642.0" cy="74.1" r="0.85" fill="#1e88e5"/>
<circle cx="594.2" cy="96.9" r="0.85" fill="#1e88e5"/>
<circle cx="609.7" cy="91.0" r="0.85" fill="#1e88e5"/>
<circle cx="630.1" cy="83.5" r="0.85" fill="#1e88e5"/>
<circle cx="646.1" cy="72.6" r="0.85" fill="#1e88e5"/>
<circle cx="594.6" cy="124.9" r="0.85" fill="#1e88e5"/>
<circle cx="637.2" cy="96.1" r="0.85" fill="#1e88e5"/>
<circle cx="614.2" cy="105.6" r="0.85" fill="#1e88e5"/>
<circle cx="608.6" cy="91.3" r="0.85" fill="#1e88e5"/>
<circle cx="608.2" cy="108.2" r="0.85" fill="#1e88e5"/>
<circle cx="612.6" cy="106.3" r="0.85" fill="#1e88e5"/>
<circle cx="606.6" cy="92.7" r="0.85" fill="#1e88e5"/>
<circle cx="668.4" cy="66.4" r="0.85" fill="#1e88e5"/>
<circle cx="645.4" cy="72.3" r="0.85" fill="#1e88e5"/>
<circle cx="604.1" cy="94.9" r="0.85" fill="#1e88e5"/>
<circle cx="609.5" cy="107.2" r="0.85" fill="#1e88e5"/>
<circle cx="665.8" cy="88.3" r="0.85" fill="#1e88e5"/>
<circle cx="632.5" cy="81.3" r="0.85" fill="#1e88e5"/>
<circle cx="659.2" cy="68.4" r="0.85" fill="#1e88e5"/>
<circle cx="664.7" cy="67.6" r="0.85" fill="#1e88e5"/>
<circle cx="623.8" cy="103.1" r="0.85" fill="#1e88e5"/>
<circle cx="648.5" cy="72.2" r="0.85" fill="#1e88e5"/>
<circle cx="641.9" cy="94.6" r="0.85" fill="#1e88e5"/>
<circle cx="651.6" cy="70.9" r="0.85" fill="#1e88e5"/>
<circle cx="576.8" cy="125.4" r="0.85" fill="#1e88e5"/>
<circle cx="578.0" cy="126.9" r="0.85" fill="#1e88e5"/>
<circle cx="574.4" cy="125.8" r="0.85" fill="#1e88e5"/>
<circle cx="620.6" cy="88.1" r="0.85" fill="#1e88e5"/>
<circle cx="613.6" cy="106.3" r="0.85" fill="#1e88e5"/>
<circle cx="656.7" cy="89.6" r="0.85" fill="#1e88e5"/>
<circle cx="604.6" cy="112.3" r="0.85" fill="#1e88e5"/>
<circle cx="675.3" cy="67.2" r="0.85" fill="#1e88e5"/>
<circle cx="602.3" cy="94.7" r="0.85" fill="#1e88e5"/>
<circle cx="628.5" cy="100.7" r="0.85" fill="#1e88e5"/>
<circle cx="574.0" cy="99.3" r="0.85" fill="#1e88e5"/>
<circle cx="655.1" cy="90.0" r="0.85" fill="#1e88e5"/>
<circle cx="590.3" cy="98.2" r="0.85" fill="#1e88e5"/>
<circle cx="608.9" cy="91.1" r="0.85" fill="#1e88e5"/>
<circle cx="631.5" cy="81.5" r="0.85" fill="#1e88e5"/>
<circle cx="590.1" cy="129.6" r="0.85" fill="#1e88e5"/>
<circle cx="574.0" cy="99.8" r="0.85" fill="#1e88e5"/>
<circle cx="612.7" cy="105.6" r="0.85" fill="#1e88e5"/>
<circle cx="598.0" cy="121.3" r="0.85" fill="#1e88e5"/>
<circle cx="645.2" cy="92.7" r="0.85" fill="#1e88e5"/>
<circle cx="617.6" cy="104.6" r="0.85" fill="#1e88e5"/>
<circle cx="663.3" cy="67.8" r="0.85" fill="#1e88e5"/>
<circle cx="637.5" cy="76.7" r="0.85" fill="#1e88e5"/>
<circle cx="576.3" cy="125.2" r="0.85" fill="#1e88e5"/>
<circle cx="668.1" cy="89.3" r="0.85" fill="#1e88e5"/>
<circle cx="622.3" cy="103.6" r="0.85" fill="#1e88e5"/>
<circle cx="600.3" cy="94.0" r="0.85" fill="#1e88e5"/>
<circle cx="584.2" cy="130.9" r="0.85" fill="#1e88e5"/>
<circle cx="579.4" cy="98.8" r="0.85" fill="#1e88e5"/>
<circle cx="671.2" cy="66.6" r="0.85" fill="#1e88e5"/>
<circle cx="596.3" cy="123.9" r="0.85" fill="#1e88e5"/>
<circle cx="585.2" cy="99.2" r="0.85" fill="#1e88e5"/>
<circle cx="573.0" cy="125.0" r="0.85" fill="#1e88e5"/>
<circle cx="593.6" cy="126.1" r="0.85" fill="#1e88e5"/>
<circle cx="629.0" cy="83.1" r="0.85" fill="#1e88e5"/>
<circle cx="603.5" cy="114.1" r="0.85" fill="#1e88e5"/>
<circle cx="654.8" cy="90.2" r="0.85" fill="#1e88e5"/>
<circle cx="572.1" cy="99.9" r="0.85" fill="#1e88e5"/>
<circle cx="592.6" cy="126.7" r="0.85" fill="#1e88e5"/>
<circle cx="618.7" cy="104.3" r="0.85" fill="#1e88e5"/>
<circle cx="659.7" cy="65.2" r="0.9" fill="#1e88e5"/>
<circle cx="668.0" cy="65.0" r="0.9" fill="#1e88e5"/>
<circle cx="673.0" cy="66.5" r="0.9" fill="#1e88e5"/>
<circle cx="675.5" cy="91.5" r="0.9" fill="#1e88e5"/>
<circle cx="666.0" cy="90.0" r="0.9" fill="#1e88e5"/>
<circle cx="564.4" cy="106.2" r="0.9" fill="#1e88e5"/>
<circle cx="569.3" cy="98.5" r="0.9" fill="#1e88e5"/>
<circle cx="572.8" cy="127.4" r="0.9" fill="#1e88e5"/>
<circle cx="566.0" cy="104.0" r="0.9" fill="#1e88e5"/>
<rect x="573.00" y="142.67" width="1.60" height="0.13" fill="#000" fill-opacity="0.17"/>
<rect x="574.60" y="142.45" width="1.60" height="0.35" fill="#000" fill-opacity="0.17"/>
<rect x="576.20" y="142.16" width="1.60" height="0.64" fill="#000" fill-opacity="0.17"/>
<rect x="577.80" y="141.99" width="1.60" height="0.81" fill="#000" fill-opacity="0.17"/>
<rect x="579.40" y="141.63" width="1.60" height="1.17" fill="#000" fill-opacity="0.17"/>
<rect x="581.00" y="141.35" width="1.60" height="1.45" fill="#000" fill-opacity="0.17"/>
<rect x="582.60" y="141.10" width="1.60" height="1.70" fill="#000" fill-opacity="0.17"/>
<rect x="584.20" y="140.95" width="1.60" height="1.85" fill="#000" fill-opacity="0.17"/>
<rect x="585.80" y="140.78" width="1.60" height="2.02" fill="#000" fill-opacity="0.17"/>
<rect x="587.40" y="140.58" width="1.60" height="2.22" fill="#000" fill-opacity="0.17"/>
<rect x="589.00" y="140.27" width="1.60" height="2.53" fill="#000" fill-opacity="0.17"/>
<rect x="590.60" y="140.19" width="1.60" height="2.61" fill="#000" fill-opacity="0.17"/>
<rect x="592.20" y="139.84" width="1.60" height="2.96" fill="#000" fill-opacity="0.17"/>
<rect x="593.80" y="140.04" width="1.60" height="2.76" fill="#000" fill-opacity="0.17"/>
<rect x="595.40" y="139.70" width="1.60" height="3.10" fill="#000" fill-opacity="0.17"/>
<rect x="597.00" y="139.34" width="1.60" height="3.46" fill="#000" fill-opacity="0.17"/>
<rect x="598.60" y="139.30" width="1.60" height="3.50" fill="#000" fill-opacity="0.17"/>
<rect x="600.20" y="139.20" width="1.60" height="3.60" fill="#000" fill-opacity="0.17"/>
<rect x="601.80" y="139.35" width="1.60" height="3.45" fill="#000" fill-opacity="0.17"/>
<rect x="603.40" y="139.23" width="1.60" height="3.57" fill="#000" fill-opacity="0.17"/>
<rect x="605.00" y="139.05" width="1.60" height="3.75" fill="#000" fill-opacity="0.17"/>
<rect x="606.60" y="138.57" width="1.60" height="4.23" fill="#000" fill-opacity="0.17"/>
<rect x="608.20" y="138.49" width="1.60" height="4.31" fill="#000" fill-opacity="0.17"/>
<rect x="609.80" y="138.93" width="1.60" height="3.87" fill="#000" fill-opacity="0.17"/>
<rect x="611.40" y="138.56" width="1.60" height="4.24" fill="#000" fill-opacity="0.17"/>
<rect x="613.00" y="139.16" width="1.60" height="3.64" fill="#000" fill-opacity="0.17"/>
<rect x="614.60" y="138.87" width="1.60" height="3.93" fill="#000" fill-opacity="0.17"/>
<rect x="616.20" y="138.71" width="1.60" height="4.09" fill="#000" fill-opacity="0.17"/>
<rect x="617.80" y="139.14" width="1.60" height="3.66" fill="#000" fill-opacity="0.17"/>
<rect x="619.40" y="138.84" width="1.60" height="3.96" fill="#000" fill-opacity="0.17"/>
<rect x="621.00" y="139.03" width="1.60" height="3.77" fill="#000" fill-opacity="0.17"/>
<rect x="622.60" y="139.39" width="1.60" height="3.41" fill="#000" fill-opacity="0.17"/>
<rect x="624.20" y="139.25" width="1.60" height="3.55" fill="#000" fill-opacity="0.17"/>
<rect x="625.80" y="139.20" width="1.60" height="3.60" fill="#000" fill-opacity="0.17"/>
<rect x="627.40" y="139.33" width="1.60" height="3.47" fill="#000" fill-opacity="0.17"/>
<rect x="629.00" y="139.07" width="1.60" height="3.73" fill="#000" fill-opacity="0.17"/>
<rect x="630.60" y="139.40" width="1.60" height="3.40" fill="#000" fill-opacity="0.17"/>
<rect x="632.20" y="139.09" width="1.60" height="3.71" fill="#000" fill-opacity="0.17"/>
<rect x="633.80" y="139.37" width="1.60" height="3.43" fill="#000" fill-opacity="0.17"/>
<rect x="635.40" y="139.51" width="1.60" height="3.29" fill="#000" fill-opacity="0.17"/>
<rect x="637.00" y="139.31" width="1.60" height="3.49" fill="#000" fill-opacity="0.17"/>
<rect x="638.60" y="139.64" width="1.60" height="3.16" fill="#000" fill-opacity="0.17"/>
<rect x="640.20" y="139.50" width="1.60" height="3.30" fill="#000" fill-opacity="0.17"/>
<rect x="641.80" y="139.49" width="1.60" height="3.31" fill="#000" fill-opacity="0.17"/>
<rect x="643.40" y="139.68" width="1.60" height="3.12" fill="#000" fill-opacity="0.17"/>
<rect x="645.00" y="139.84" width="1.60" height="2.96" fill="#000" fill-opacity="0.17"/>
<rect x="646.60" y="140.12" width="1.60" height="2.68" fill="#000" fill-opacity="0.17"/>
<rect x="648.20" y="140.00" width="1.60" height="2.80" fill="#000" fill-opacity="0.17"/>
<rect x="649.80" y="140.26" width="1.60" height="2.54" fill="#000" fill-opacity="0.17"/>
<rect x="651.40" y="140.11" width="1.60" height="2.69" fill="#000" fill-opacity="0.17"/>
<rect x="653.00" y="140.38" width="1.60" height="2.42" fill="#000" fill-opacity="0.17"/>
<rect x="654.60" y="140.27" width="1.60" height="2.53" fill="#000" fill-opacity="0.17"/>
<rect x="656.20" y="140.43" width="1.60" height="2.37" fill="#000" fill-opacity="0.17"/>
<rect x="657.80" y="140.49" width="1.60" height="2.31" fill="#000" fill-opacity="0.17"/>
<rect x="659.40" y="140.51" width="1.60" height="2.29" fill="#000" fill-opacity="0.17"/>
<rect x="661.00" y="140.82" width="1.60" height="1.98" fill="#000" fill-opacity="0.17"/>
<rect x="662.60" y="140.96" width="1.60" height="1.84" fill="#000" fill-opacity="0.17"/>
<rect x="664.20" y="140.88" width="1.60" height="1.92" fill="#000" fill-opacity="0.17"/>
<rect x="665.80" y="141.19" width="1.60" height="1.61" fill="#000" fill-opacity="0.17"/>
<rect x="667.40" y="141.22" width="1.60" height="1.58" fill="#000" fill-opacity="0.17"/>
<rect x="669.00" y="141.36" width="1.60" height="1.44" fill="#000" fill-opacity="0.17"/>
<rect x="670.60" y="141.59" width="1.60" height="1.21" fill="#000" fill-opacity="0.17"/>
<rect x="672.20" y="141.79" width="1.60" height="1.01" fill="#000" fill-opacity="0.17"/>
<rect x="673.80" y="141.96" width="1.60" height="0.84" fill="#000" fill-opacity="0.17"/>
<rect x="675.40" y="142.09" width="1.60" height="0.71" fill="#000" fill-opacity="0.17"/>
<rect x="677.00" y="142.38" width="1.60" height="0.42" fill="#000" fill-opacity="0.17"/>
<rect x="678.60" y="142.58" width="1.60" height="0.22" fill="#000" fill-opacity="0.17"/>
<line x1="558.70" y1="95.50" x2="681.80" y2="95.50" stroke="#3a3a3a" stroke-width="0.6" stroke-dasharray="2.85,0.95" stroke-dashoffset="2.9"/>
<path d="M558.70,30.50 L558.70,143.00 L681.80,143.00" fill="none" stroke="#6a6a6a" stroke-width="0.6"/>
<text x="620.25" y="7.70" font-size="7.6" text-anchor="middle" fill="#000">Average Pre-university</text>
<text x="620.25" y="17.15" font-size="7.6" text-anchor="middle" fill="#000">Studies</text>
<text x="620.25" y="26.60" font-size="7.6" text-anchor="middle" fill="#000">(0.471)</text>
<line x1="564.30" y1="143.00" x2="564.30" y2="145.10" stroke="#333333" stroke-width="0.5"/>
<text x="564.30" y="152.30" font-size="6.4" text-anchor="middle" fill="#333333">5</text>
<line x1="586.68" y1="143.00" x2="586.68" y2="145.10" stroke="#333333" stroke-width="0.5"/>
<text x="586.68" y="152.30" font-size="6.4" text-anchor="middle" fill="#333333">6</text>
<line x1="609.06" y1="143.00" x2="609.06" y2="145.10" stroke="#333333" stroke-width="0.5"/>
<text x="609.06" y="152.30" font-size="6.4" text-anchor="middle" fill="#333333">7</text>
<line x1="631.44" y1="143.00" x2="631.44" y2="145.10" stroke="#333333" stroke-width="0.5"/>
<text x="631.44" y="152.30" font-size="6.4" text-anchor="middle" fill="#333333">8</text>
<line x1="653.82" y1="143.00" x2="653.82" y2="145.10" stroke="#333333" stroke-width="0.5"/>
<text x="653.82" y="152.30" font-size="6.4" text-anchor="middle" fill="#333333">9</text>
<line x1="676.20" y1="143.00" x2="676.20" y2="145.10" stroke="#333333" stroke-width="0.5"/>
<text x="676.20" y="152.30" font-size="6.4" text-anchor="middle" fill="#333333">10</text>
<path d="M67.6,228.8 L68.3,226.6 L69.0,226.0 L69.7,225.7 L70.4,225.9 L71.1,225.8 L71.8,225.8 L72.5,225.8 L73.2,226.0 L73.9,225.9 L74.6,225.8 L75.3,225.8 L76.0,226.1 L76.7,225.7 L77.4,226.0 L78.1,225.7 L78.8,226.4 L79.5,225.6 L80.2,224.9 L80.9,224.6 L81.6,225.4 L82.3,228.1 L82.5,224.9 L82.1,225.8 L82.1,226.7 L82.0,227.6 L82.2,228.5 L82.3,229.4 L82.2,230.3 L82.6,231.2 L82.0,232.1 L82.4,233.0 L82.1,233.9 L82.4,234.8 L82.5,235.7 L82.4,236.6 L82.0,237.5 L82.1,238.5 L82.4,239.4 L82.6,240.3 L82.0,241.2 L82.4,242.1 L82.4,243.0 L82.5,243.9 L82.2,244.8 L82.5,245.7 L82.3,246.6 L82.6,247.5 L82.0,248.4 L82.6,249.3 L82.2,250.2 L82.2,251.1 L82.3,249.9 L81.6,251.4 L80.9,251.5 L80.2,251.6 L79.5,251.9 L78.8,251.8 L78.1,251.9 L77.4,251.9 L76.7,251.9 L76.0,251.8 L75.3,251.4 L74.6,251.4 L73.9,251.5 L73.2,251.7 L72.5,251.7 L71.8,251.5 L71.1,251.5 L70.4,251.5 L69.7,251.6 L69.0,251.8 L68.3,251.1 L67.6,249.5 L67.8,251.1 L67.3,250.2 L67.8,249.3 L67.5,248.4 L67.4,247.5 L67.9,246.6 L67.7,245.7 L67.8,244.8 L67.3,243.9 L67.8,243.0 L67.9,242.1 L67.9,241.2 L67.8,240.3 L67.8,239.4 L67.8,238.5 L67.7,237.5 L67.6,236.6 L67.8,235.7 L67.8,234.8 L67.9,233.9 L67.5,233.0 L67.9,232.1 L67.6,231.2 L67.9,230.3 L67.3,229.4 L67.9,228.5 L67.8,227.6 L67.4,226.7 L67.8,225.8 L67.4,224.9Z" fill="#1e88e5"/>
<path d="M128.2,280.5 L128.9,279.1 L129.6,278.5 L130.3,278.6 L131.0,278.8 L131.7,278.6 L132.5,278.6 L133.2,278.3 L133.9,278.3 L134.6,278.1 L135.3,277.9 L136.0,278.1 L136.7,278.3 L137.4,278.3 L138.1,278.3 L138.8,278.6 L139.6,278.8 L140.3,278.5 L141.0,278.7 L141.7,278.9 L142.4,279.3 L143.1,280.4 L143.1,278.5 L142.8,279.4 L142.8,280.4 L143.3,281.3 L143.0,282.2 L143.2,283.1 L143.1,284.1 L143.0,285.0 L142.9,285.9 L143.0,286.8 L143.3,287.8 L143.2,288.7 L143.0,289.6 L142.8,290.5 L142.9,291.5 L143.2,292.4 L143.1,293.3 L143.2,294.2 L143.3,295.2 L142.8,296.1 L143.1,294.6 L142.4,296.5 L141.7,296.4 L141.0,296.9 L140.3,296.8 L139.6,296.4 L138.8,296.8 L138.1,296.9 L137.4,296.5 L136.7,296.6 L136.0,296.5 L135.3,296.8 L134.6,296.7 L133.9,296.4 L133.2,296.7 L132.5,296.4 L131.7,296.9 L131.0,296.5 L130.3,296.9 L129.6,296.6 L128.9,296.5 L128.2,294.9 L128.5,296.1 L128.2,295.2 L128.4,294.2 L128.0,293.3 L128.1,292.4 L127.9,291.5 L128.2,290.5 L128.5,289.6 L128.2,288.7 L128.1,287.8 L128.5,286.8 L128.5,285.9 L128.3,285.0 L127.9,284.1 L128.3,283.1 L128.2,282.2 L128.5,281.3 L128.1,280.4 L128.3,279.4 L128.3,278.5Z" fill="#1e88e5"/>
<path d="M44.50,323.70 L44.50,282.00 L105.10,282.00 L105.10,253.50 L166.50,253.50 L166.50,323.70Z" fill="#000" fill-opacity="0.2"/>
<line x1="44.50" y1="268.40" x2="166.50" y2="268.40" stroke="#3a3a3a" stroke-width="0.6" stroke-dasharray="2.85,0.95" stroke-dashoffset="2.9"/>
<path d="M44.50,211.10 L44.50,323.70 L166.50,323.70" fill="none" stroke="#6a6a6a" stroke-width="0.6"/>
<text x="105.50" y="198.25" font-size="7.6" text-anchor="middle" fill="#000">Gender</text>
<text x="105.50" y="207.70" font-size="7.6" text-anchor="middle" fill="#000">(0.704)</text>
<line x1="74.80" y1="323.70" x2="74.80" y2="325.80" stroke="#333333" stroke-width="0.5"/>
<text x="77.00" y="329.30" font-size="6.4" text-anchor="end" fill="#333333" transform="rotate(-90 77.00 329.30)">Male</text>
<line x1="135.70" y1="323.70" x2="135.70" y2="325.80" stroke="#333333" stroke-width="0.5"/>
<text x="137.90" y="329.30" font-size="6.4" text-anchor="end" fill="#333333" transform="rotate(-90 137.90 329.30)">Female</text>
<line x1="42.40" y1="223.85" x2="44.50" y2="223.85" stroke="#333333" stroke-width="0.5"/>
<text x="39.60" y="226.20" font-size="6.4" text-anchor="end" fill="#333333">1.5</text>
<line x1="42.40" y1="238.65" x2="44.50" y2="238.65" stroke="#333333" stroke-width="0.5"/>
<text x="39.60" y="241.00" font-size="6.4" text-anchor="end" fill="#333333">1.0</text>
<line x1="42.40" y1="253.45" x2="44.50" y2="253.45" stroke="#333333" stroke-width="0.5"/>
<text x="39.60" y="255.80" font-size="6.4" text-anchor="end" fill="#333333">0.5</text>
<line x1="42.40" y1="268.25" x2="44.50" y2="268.25" stroke="#333333" stroke-width="0.5"/>
<text x="39.60" y="270.60" font-size="6.4" text-anchor="end" fill="#333333">0.0</text>
<line x1="42.40" y1="283.05" x2="44.50" y2="283.05" stroke="#333333" stroke-width="0.5"/>
<text x="39.60" y="285.40" font-size="6.4" text-anchor="end" fill="#333333">−0.5</text>
<line x1="42.40" y1="297.85" x2="44.50" y2="297.85" stroke="#333333" stroke-width="0.5"/>
<text x="39.60" y="300.20" font-size="6.4" text-anchor="end" fill="#333333">−1.0</text>
<line x1="42.40" y1="312.65" x2="44.50" y2="312.65" stroke="#333333" stroke-width="0.5"/>
<text x="39.60" y="315.00" font-size="6.4" text-anchor="end" fill="#333333">−1.5</text>
<path d="M173.3,243.4 L174.0,242.9 L174.8,243.0 L175.5,243.1 L176.3,242.9 L177.0,243.3 L177.3,243.6 L176.7,244.5 L177.2,245.4 L177.1,246.3 L177.0,247.2 L177.0,248.1 L177.2,249.0 L177.3,249.9 L177.2,250.8 L177.2,251.7 L176.7,252.6 L176.9,253.5 L176.7,254.5 L177.3,255.4 L177.3,256.3 L176.8,257.2 L177.1,258.1 L177.1,259.0 L176.7,259.9 L176.9,260.8 L177.2,261.7 L177.1,262.6 L176.8,263.5 L177.2,264.4 L177.0,264.7 L176.3,265.1 L175.5,265.1 L174.8,264.9 L174.0,265.0 L173.3,264.5 L173.4,264.4 L173.2,263.5 L173.6,262.6 L173.4,261.7 L173.4,260.8 L173.1,259.9 L173.1,259.0 L173.4,258.1 L173.5,257.2 L173.5,256.3 L173.2,255.4 L173.0,254.5 L173.3,253.5 L173.6,252.6 L173.1,251.7 L173.5,250.8 L173.1,249.9 L173.2,249.0 L173.0,248.1 L173.2,247.2 L173.2,246.3 L173.6,245.4 L173.6,244.5 L173.1,243.6Z" fill="#1e88e5"/>
<circle cx="178.2" cy="257.4" r="0.85" fill="#1e88e5"/>
<circle cx="178.2" cy="251.2" r="0.85" fill="#1e88e5"/>
<circle cx="178.4" cy="249.1" r="0.85" fill="#1e88e5"/>
<circle cx="178.2" cy="251.9" r="0.85" fill="#1e88e5"/>
<circle cx="178.3" cy="257.6" r="0.85" fill="#1e88e5"/>
<circle cx="178.2" cy="250.0" r="0.85" fill="#1e88e5"/>
<circle cx="178.7" cy="252.5" r="0.85" fill="#1e88e5"/>
<circle cx="196.2" cy="261.4" r="0.85" fill="#1e88e5"/>
<circle cx="195.2" cy="255.7" r="0.85" fill="#1e88e5"/>
<circle cx="184.6" cy="258.4" r="0.85" fill="#1e88e5"/>
<circle cx="190.0" cy="258.0" r="0.85" fill="#1e88e5"/>
<circle cx="193.4" cy="262.5" r="0.85" fill="#1e88e5"/>
<circle cx="186.7" cy="253.4" r="0.85" fill="#1e88e5"/>
<circle cx="197.6" cy="260.0" r="0.85" fill="#1e88e5"/>
<circle cx="186.9" cy="258.1" r="0.85" fill="#1e88e5"/>
<circle cx="186.4" cy="260.3" r="0.85" fill="#1e88e5"/>
<circle cx="182.7" cy="257.5" r="0.85" fill="#1e88e5"/>
<circle cx="191.6" cy="255.1" r="0.85" fill="#1e88e5"/>
<circle cx="198.0" cy="255.9" r="0.85" fill="#1e88e5"/>
<circle cx="186.1" cy="248.2" r="0.85" fill="#1e88e5"/>
<circle cx="191.3" cy="261.9" r="0.85" fill="#1e88e5"/>
<circle cx="193.5" cy="256.7" r="0.85" fill="#1e88e5"/>
<circle cx="195.7" cy="252.5" r="0.85" fill="#1e88e5"/>
<circle cx="187.2" cy="258.4" r="0.85" fill="#1e88e5"/>
<circle cx="198.4" cy="262.0" r="0.85" fill="#1e88e5"/>
<circle cx="193.8" cy="263.0" r="0.85" fill="#1e88e5"/>
<circle cx="188.7" cy="264.1" r="0.85" fill="#1e88e5"/>
<circle cx="194.6" cy="255.9" r="0.85" fill="#1e88e5"/>
<circle cx="188.7" cy="261.8" r="0.85" fill="#1e88e5"/>
<circle cx="187.9" cy="250.8" r="0.85" fill="#1e88e5"/>
<circle cx="196.8" cy="259.8" r="0.85" fill="#1e88e5"/>
<circle cx="190.9" cy="260.3" r="0.85" fill="#1e88e5"/>
<circle cx="197.3" cy="253.5" r="0.85" fill="#1e88e5"/>
<circle cx="187.8" cy="248.7" r="0.85" fill="#1e88e5"/>
<circle cx="189.0" cy="256.7" r="0.85" fill="#1e88e5"/>
<circle cx="196.5" cy="262.0" r="0.85" fill="#1e88e5"/>
<circle cx="191.8" cy="256.0" r="0.85" fill="#1e88e5"/>
<circle cx="191.8" cy="253.7" r="0.85" fill="#1e88e5"/>
<circle cx="196.4" cy="263.9" r="0.85" fill="#1e88e5"/>
<circle cx="196.3" cy="253.3" r="0.85" fill="#1e88e5"/>
<circle cx="193.4" cy="262.6" r="0.85" fill="#1e88e5"/>
<circle cx="190.5" cy="264.1" r="0.85" fill="#1e88e5"/>
<circle cx="197.3" cy="263.4" r="0.85" fill="#1e88e5"/>
<circle cx="196.0" cy="261.5" r="0.85" fill="#1e88e5"/>
<circle cx="196.9" cy="253.3" r="0.85" fill="#1e88e5"/>
<circle cx="194.0" cy="261.9" r="0.85" fill="#1e88e5"/>
<circle cx="192.4" cy="254.0" r="0.85" fill="#1e88e5"/>
<circle cx="183.1" cy="254.8" r="0.85" fill="#1e88e5"/>
<circle cx="196.0" cy="255.3" r="0.85" fill="#1e88e5"/>
<circle cx="185.6" cy="250.6" r="0.85" fill="#1e88e5"/>
<circle cx="183.6" cy="256.3" r="0.85" fill="#1e88e5"/>
<circle cx="198.6" cy="264.7" r="0.85" fill="#1e88e5"/>
<circle cx="188.1" cy="259.7" r="0.85" fill="#1e88e5"/>
<circle cx="183.2" cy="258.2" r="0.85" fill="#1e88e5"/>
<circle cx="187.5" cy="247.6" r="0.85" fill="#1e88e5"/>
<circle cx="192.7" cy="251.7" r="0.85" fill="#1e88e5"/>
<circle cx="186.7" cy="248.2" r="0.85" fill="#1e88e5"/>
<circle cx="189.6" cy="257.8" r="0.85" fill="#1e88e5"/>
<circle cx="195.7" cy="251.3" r="0.85" fill="#1e88e5"/>
<circle cx="196.1" cy="252.6" r="0.85" fill="#1e88e5"/>
<circle cx="185.8" cy="257.5" r="0.85" fill="#1e88e5"/>
<circle cx="187.8" cy="253.3" r="0.85" fill="#1e88e5"/>
<circle cx="191.7" cy="252.7" r="0.85" fill="#1e88e5"/>
<circle cx="195.5" cy="254.0" r="0.85" fill="#1e88e5"/>
<circle cx="196.3" cy="264.2" r="0.85" fill="#1e88e5"/>
<circle cx="191.1" cy="249.2" r="0.85" fill="#1e88e5"/>
<circle cx="195.2" cy="250.9" r="0.85" fill="#1e88e5"/>
<circle cx="190.6" cy="255.9" r="0.85" fill="#1e88e5"/>
<circle cx="183.1" cy="255.1" r="0.85" fill="#1e88e5"/>
<circle cx="194.3" cy="259.9" r="0.85" fill="#1e88e5"/>
<circle cx="188.8" cy="256.8" r="0.85" fill="#1e88e5"/>
<circle cx="192.0" cy="253.0" r="0.85" fill="#1e88e5"/>
<circle cx="196.8" cy="267.4" r="0.85" fill="#1e88e5"/>
<circle cx="195.7" cy="266.6" r="0.85" fill="#1e88e5"/>
<circle cx="187.6" cy="264.4" r="0.85" fill="#1e88e5"/>
<circle cx="183.2" cy="253.1" r="0.85" fill="#1e88e5"/>
<circle cx="184.3" cy="253.5" r="0.85" fill="#1e88e5"/>
<circle cx="193.6" cy="261.8" r="0.85" fill="#1e88e5"/>
<circle cx="189.7" cy="254.2" r="0.85" fill="#1e88e5"/>
<circle cx="185.2" cy="253.3" r="0.85" fill="#1e88e5"/>
<circle cx="186.8" cy="250.6" r="0.85" fill="#1e88e5"/>
<circle cx="194.5" cy="258.8" r="0.85" fill="#1e88e5"/>
<circle cx="189.5" cy="251.6" r="0.85" fill="#1e88e5"/>
<circle cx="194.0" cy="253.2" r="0.85" fill="#1e88e5"/>
<circle cx="186.5" cy="256.7" r="0.85" fill="#1e88e5"/>
<circle cx="193.9" cy="266.5" r="0.85" fill="#1e88e5"/>
<circle cx="194.7" cy="266.2" r="0.85" fill="#1e88e5"/>
<path d="M187.0,251.5 L188.0,251.4 L189.0,250.8 L190.0,251.7 L191.0,251.6 L192.0,251.3 L193.0,252.1 L194.0,252.2 L195.0,252.6 L196.0,253.9 L197.0,253.9 L198.0,253.9 L199.0,255.1 L200.0,255.8 L201.0,256.0 L202.0,256.4 L203.0,255.9 L204.0,256.8 L205.0,256.9 L206.0,258.2 L207.0,258.8 L208.0,258.8 L209.0,259.3 L210.0,260.4 L211.0,259.9 L212.0,261.2 L213.0,261.1 L214.0,262.7 L215.0,262.4 L216.0,263.6 L217.0,263.9 L218.0,265.2 L219.0,266.0 L220.0,266.9 L221.0,268.4 L222.0,270.0 L223.0,270.1 L224.0,271.2 L225.0,271.9 L226.0,271.8 L227.0,272.5 L228.0,273.7 L229.0,274.9 L230.0,275.6 L231.0,276.2 L232.0,277.5 L233.0,277.3 L234.0,279.2 L235.0,279.3 L236.0,280.6 L237.0,281.3 L238.0,281.3 L239.0,282.4 L240.0,281.7 L241.0,282.9 L242.0,282.8 L243.0,282.6 L244.0,281.9 L245.0,281.4 L246.0,281.3 L247.0,281.5 L248.0,281.0 L249.0,280.0 L250.0,279.7 L251.0,279.3 L252.0,278.7 L253.0,278.0 L254.0,277.2 L255.0,276.9 L256.0,275.5 L257.0,275.2 L258.0,274.4 L259.0,273.9 L260.0,274.4 L261.0,273.2 L262.0,272.9 L263.0,272.4 L264.0,272.6 L265.0,272.1 L266.0,273.2 L267.0,272.4 L268.0,272.8 L269.0,273.0 L270.0,274.3 L271.0,273.5 L272.0,274.0 L273.0,274.9 L274.0,274.9 L275.0,275.4 L276.0,276.0 L277.0,276.0 L278.0,276.2 L279.0,275.3 L280.0,276.4 L281.0,276.6 L282.0,276.8 L283.0,276.6 L284.0,276.3 L285.0,277.0 L286.0,277.9 L287.0,278.9 L288.0,279.8 L289.0,280.9 L290.0,280.9 L291.0,281.9 L291.0,304.6 L290.0,305.5 L289.0,306.7 L288.0,307.4 L287.0,308.0 L286.0,308.5 L285.0,307.9 L284.0,308.7 L283.0,309.3 L282.0,310.1 L281.0,310.5 L280.0,311.4 L279.0,312.1 L278.0,312.5 L277.0,313.1 L276.0,313.3 L275.0,313.1 L274.0,312.6 L273.0,312.6 L272.0,312.7 L271.0,311.9 L270.0,312.6 L269.0,312.3 L268.0,312.3 L267.0,312.0 L266.0,312.7 L265.0,312.7 L264.0,312.3 L263.0,312.8 L262.0,311.9 L261.0,311.9 L260.0,311.4 L259.0,311.9 L258.0,311.8 L257.0,311.4 L256.0,311.6 L255.0,311.0 L254.0,311.4 L253.0,311.0 L252.0,310.8 L251.0,309.9 L250.0,310.7 L249.0,309.2 L248.0,308.6 L247.0,308.1 L246.0,308.5 L245.0,307.4 L244.0,305.9 L243.0,306.0 L242.0,305.2 L241.0,303.4 L240.0,302.4 L239.0,301.1 L238.0,301.3 L237.0,298.8 L236.0,298.1 L235.0,296.9 L234.0,294.9 L233.0,293.7 L232.0,293.0 L231.0,291.2 L230.0,290.7 L229.0,289.0 L228.0,288.3 L227.0,286.9 L226.0,286.0 L225.0,285.0 L224.0,284.7 L223.0,283.8 L222.0,282.9 L221.0,281.5 L220.0,281.1 L219.0,278.9 L218.0,278.1 L217.0,277.6 L216.0,276.2 L215.0,276.5 L214.0,275.3 L213.0,275.0 L212.0,273.7 L211.0,272.9 L210.0,272.3 L209.0,272.5 L208.0,271.9 L207.0,271.7 L206.0,270.8 L205.0,269.4 L204.0,269.1 L203.0,268.9 L202.0,267.8 L201.0,267.7 L200.0,267.6 L199.0,266.5 L198.0,265.6 L197.0,265.0 L196.0,265.4 L195.0,264.3 L194.0,263.5 L193.0,264.1 L192.0,262.6 L191.0,262.3 L190.0,262.5 L189.0,261.2 L188.0,260.9 L187.0,261.3Z" fill="#1e88e5"/>
<circle cx="190.5" cy="260.5" r="0.65" fill="#fff" fill-opacity="1.0"/>
<circle cx="196.5" cy="263.0" r="0.82" fill="#fff" fill-opacity="1.0"/>
<circle cx="193.9" cy="255.7" r="0.64" fill="#fff" fill-opacity="1.0"/>
<circle cx="194.9" cy="261.9" r="0.89" fill="#fff" fill-opacity="1.0"/>
<circle cx="189.8" cy="259.3" r="0.73" fill="#fff" fill-opacity="1.0"/>
<circle cx="198.3" cy="262.7" r="0.78" fill="#fff" fill-opacity="1.0"/>
<circle cx="198.6" cy="256.4" r="0.63" fill="#fff" fill-opacity="1.0"/>
<circle cx="198.0" cy="256.2" r="0.79" fill="#fff" fill-opacity="1.0"/>
<circle cx="198.9" cy="257.0" r="0.78" fill="#fff" fill-opacity="1.0"/>
<circle cx="195.6" cy="261.3" r="0.62" fill="#fff" fill-opacity="1.0"/>
<circle cx="190.8" cy="254.3" r="0.60" fill="#fff" fill-opacity="1.0"/>
<circle cx="190.9" cy="258.2" r="0.75" fill="#fff" fill-opacity="1.0"/>
<circle cx="195.2" cy="261.7" r="0.64" fill="#fff" fill-opacity="1.0"/>
<circle cx="188.7" cy="252.4" r="0.66" fill="#fff" fill-opacity="1.0"/>
<circle cx="189.6" cy="253.7" r="0.89" fill="#fff" fill-opacity="1.0"/>
<circle cx="195.6" cy="256.3" r="0.59" fill="#fff" fill-opacity="1.0"/>
<circle cx="189.1" cy="253.4" r="0.78" fill="#fff" fill-opacity="1.0"/>
<circle cx="192.9" cy="254.0" r="0.87" fill="#fff" fill-opacity="1.0"/>
<circle cx="191.8" cy="253.0" r="0.84" fill="#fff" fill-opacity="1.0"/>
<circle cx="190.5" cy="259.5" r="0.78" fill="#fff" fill-opacity="1.0"/>
<circle cx="191.1" cy="253.1" r="0.86" fill="#fff" fill-opacity="1.0"/>
<circle cx="189.7" cy="259.4" r="0.77" fill="#fff" fill-opacity="1.0"/>
<circle cx="190.0" cy="252.7" r="0.89" fill="#fff" fill-opacity="1.0"/>
<circle cx="192.2" cy="260.5" r="0.61" fill="#fff" fill-opacity="1.0"/>
<circle cx="188.7" cy="254.5" r="0.57" fill="#fff" fill-opacity="1.0"/>
<circle cx="288.6" cy="303.7" r="0.58" fill="#fff" fill-opacity="1.0"/>
<circle cx="281.7" cy="278.3" r="0.72" fill="#fff" fill-opacity="1.0"/>
<circle cx="255.3" cy="279.5" r="0.63" fill="#fff" fill-opacity="1.0"/>
<circle cx="265.9" cy="282.2" r="0.60" fill="#fff" fill-opacity="1.0"/>
<circle cx="259.5" cy="309.4" r="0.77" fill="#fff" fill-opacity="1.0"/>
<circle cx="269.4" cy="276.6" r="0.77" fill="#fff" fill-opacity="1.0"/>
<circle cx="283.6" cy="277.7" r="0.69" fill="#fff" fill-opacity="1.0"/>
<circle cx="255.5" cy="308.5" r="0.56" fill="#fff" fill-opacity="1.0"/>
<circle cx="255.6" cy="309.9" r="0.61" fill="#fff" fill-opacity="1.0"/>
<circle cx="268.2" cy="274.4" r="0.66" fill="#fff" fill-opacity="1.0"/>
<circle cx="269.3" cy="294.8" r="0.55" fill="#fff" fill-opacity="1.0"/>
<circle cx="259.7" cy="295.0" r="0.85" fill="#fff" fill-opacity="1.0"/>
<circle cx="288.5" cy="283.8" r="0.88" fill="#fff" fill-opacity="1.0"/>
<circle cx="271.5" cy="275.9" r="0.85" fill="#fff" fill-opacity="1.0"/>
<circle cx="259.3" cy="276.2" r="0.87" fill="#fff" fill-opacity="1.0"/>
<circle cx="269.0" cy="277.3" r="0.69" fill="#fff" fill-opacity="1.0"/>
<circle cx="263.4" cy="275.6" r="0.66" fill="#fff" fill-opacity="1.0"/>
<circle cx="255.7" cy="293.2" r="0.59" fill="#fff" fill-opacity="1.0"/>
<circle cx="251.4" cy="308.1" r="0.53" fill="#fff" fill-opacity="1.0"/>
<circle cx="269.3" cy="294.2" r="0.61" fill="#fff" fill-opacity="1.0"/>
<circle cx="270.5" cy="309.5" r="0.58" fill="#fff" fill-opacity="1.0"/>
<circle cx="282.3" cy="300.7" r="0.85" fill="#fff" fill-opacity="1.0"/>
<circle cx="265.3" cy="280.6" r="0.61" fill="#fff" fill-opacity="1.0"/>
<circle cx="274.3" cy="279.2" r="0.61" fill="#fff" fill-opacity="1.0"/>
<circle cx="252.4" cy="309.3" r="0.60" fill="#fff" fill-opacity="1.0"/>
<circle cx="280.2" cy="307.8" r="0.68" fill="#fff" fill-opacity="1.0"/>
<circle cx="277.5" cy="279.3" r="0.61" fill="#fff" fill-opacity="1.0"/>
<circle cx="269.6" cy="308.6" r="0.71" fill="#fff" fill-opacity="1.0"/>
<circle cx="289.7" cy="304.2" r="0.84" fill="#fff" fill-opacity="1.0"/>
<circle cx="258.9" cy="291.5" r="0.61" fill="#fff" fill-opacity="1.0"/>
<circle cx="288.5" cy="282.1" r="0.65" fill="#fff" fill-opacity="1.0"/>
<circle cx="277.1" cy="277.8" r="0.59" fill="#fff" fill-opacity="1.0"/>
<circle cx="283.3" cy="279.1" r="0.62" fill="#fff" fill-opacity="1.0"/>
<circle cx="268.7" cy="309.1" r="0.58" fill="#fff" fill-opacity="1.0"/>
<circle cx="260.4" cy="277.5" r="0.58" fill="#fff" fill-opacity="1.0"/>
<circle cx="256.3" cy="308.8" r="0.86" fill="#fff" fill-opacity="1.0"/>
<circle cx="253.2" cy="279.2" r="0.74" fill="#fff" fill-opacity="1.0"/>
<circle cx="268.6" cy="308.7" r="0.77" fill="#fff" fill-opacity="1.0"/>
<circle cx="284.5" cy="286.0" r="0.88" fill="#fff" fill-opacity="1.0"/>
<circle cx="266.9" cy="276.3" r="0.56" fill="#fff" fill-opacity="1.0"/>
<circle cx="251.7" cy="280.3" r="0.89" fill="#fff" fill-opacity="1.0"/>
<circle cx="284.9" cy="305.9" r="0.84" fill="#fff" fill-opacity="1.0"/>
<circle cx="282.5" cy="307.4" r="0.57" fill="#fff" fill-opacity="1.0"/>
<circle cx="260.5" cy="309.0" r="0.83" fill="#fff" fill-opacity="1.0"/>
<circle cx="286.1" cy="284.5" r="0.55" fill="#fff" fill-opacity="1.0"/>
<circle cx="286.0" cy="306.3" r="0.78" fill="#fff" fill-opacity="1.0"/>
<circle cx="261.0" cy="275.8" r="0.72" fill="#fff" fill-opacity="1.0"/>
<circle cx="277.4" cy="278.7" r="0.76" fill="#fff" fill-opacity="1.0"/>
<circle cx="269.4" cy="309.0" r="0.53" fill="#fff" fill-opacity="1.0"/>
<circle cx="269.5" cy="309.2" r="0.77" fill="#fff" fill-opacity="1.0"/>
<circle cx="258.0" cy="303.0" r="0.61" fill="#fff" fill-opacity="1.0"/>
<circle cx="267.8" cy="281.8" r="0.68" fill="#fff" fill-opacity="1.0"/>
<circle cx="288.5" cy="286.8" r="0.80" fill="#fff" fill-opacity="1.0"/>
<circle cx="265.0" cy="309.3" r="0.57" fill="#fff" fill-opacity="1.0"/>
<circle cx="259.7" cy="276.0" r="0.54" fill="#fff" fill-opacity="1.0"/>
<circle cx="256.3" cy="309.2" r="0.55" fill="#fff" fill-opacity="1.0"/>
<circle cx="273.7" cy="296.5" r="0.66" fill="#fff" fill-opacity="1.0"/>
<circle cx="278.5" cy="310.4" r="0.71" fill="#fff" fill-opacity="1.0"/>
<circle cx="251.7" cy="309.0" r="0.66" fill="#fff" fill-opacity="1.0"/>
<circle cx="288.5" cy="301.5" r="0.77" fill="#fff" fill-opacity="1.0"/>
<circle cx="275.7" cy="310.6" r="0.60" fill="#fff" fill-opacity="1.0"/>
<circle cx="280.9" cy="277.9" r="0.83" fill="#fff" fill-opacity="1.0"/>
<circle cx="274.4" cy="307.2" r="0.75" fill="#fff" fill-opacity="1.0"/>
<circle cx="258.7" cy="277.2" r="0.80" fill="#fff" fill-opacity="1.0"/>
<circle cx="261.6" cy="274.6" r="0.59" fill="#fff" fill-opacity="1.0"/>
<circle cx="278.1" cy="277.5" r="0.62" fill="#fff" fill-opacity="1.0"/>
<circle cx="278.7" cy="277.7" r="0.57" fill="#fff" fill-opacity="1.0"/>
<circle cx="287.4" cy="284.1" r="0.65" fill="#fff" fill-opacity="1.0"/>
<circle cx="271.4" cy="276.5" r="0.70" fill="#fff" fill-opacity="1.0"/>
<circle cx="261.1" cy="275.0" r="0.59" fill="#fff" fill-opacity="1.0"/>
<circle cx="254.6" cy="308.4" r="0.62" fill="#fff" fill-opacity="1.0"/>
<circle cx="281.9" cy="288.2" r="0.71" fill="#fff" fill-opacity="1.0"/>
<circle cx="258.3" cy="295.2" r="0.54" fill="#fff" fill-opacity="1.0"/>
<circle cx="257.0" cy="309.3" r="0.79" fill="#fff" fill-opacity="1.0"/>
<circle cx="259.9" cy="303.4" r="0.56" fill="#fff" fill-opacity="1.0"/>
<circle cx="273.9" cy="277.9" r="0.83" fill="#fff" fill-opacity="1.0"/>
<circle cx="281.9" cy="277.7" r="0.77" fill="#fff" fill-opacity="1.0"/>
<circle cx="273.0" cy="276.4" r="0.74" fill="#fff" fill-opacity="1.0"/>
<circle cx="255.2" cy="309.7" r="0.62" fill="#fff" fill-opacity="1.0"/>
<circle cx="267.5" cy="309.0" r="0.54" fill="#fff" fill-opacity="1.0"/>
<circle cx="279.3" cy="277.8" r="0.76" fill="#fff" fill-opacity="1.0"/>
<circle cx="278.0" cy="308.8" r="0.60" fill="#fff" fill-opacity="1.0"/>
<circle cx="263.1" cy="310.4" r="0.58" fill="#fff" fill-opacity="1.0"/>
<circle cx="259.8" cy="304.2" r="0.79" fill="#fff" fill-opacity="1.0"/>
<circle cx="288.4" cy="288.6" r="0.64" fill="#fff" fill-opacity="1.0"/>
<circle cx="279.1" cy="278.6" r="0.56" fill="#fff" fill-opacity="1.0"/>
<circle cx="252.9" cy="309.4" r="0.87" fill="#fff" fill-opacity="1.0"/>
<circle cx="285.2" cy="306.6" r="0.57" fill="#fff" fill-opacity="1.0"/>
<circle cx="270.8" cy="310.2" r="0.79" fill="#fff" fill-opacity="1.0"/>
<circle cx="271.6" cy="279.4" r="0.55" fill="#fff" fill-opacity="1.0"/>
<circle cx="266.1" cy="310.4" r="0.78" fill="#fff" fill-opacity="1.0"/>
<circle cx="259.7" cy="276.6" r="0.79" fill="#fff" fill-opacity="1.0"/>
<circle cx="281.0" cy="308.5" r="0.87" fill="#fff" fill-opacity="1.0"/>
<circle cx="287.4" cy="305.8" r="0.70" fill="#fff" fill-opacity="1.0"/>
<circle cx="275.8" cy="276.8" r="0.89" fill="#fff" fill-opacity="1.0"/>
<circle cx="286.5" cy="280.7" r="0.76" fill="#fff" fill-opacity="1.0"/>
<circle cx="262.7" cy="276.1" r="0.81" fill="#fff" fill-opacity="1.0"/>
<circle cx="268.1" cy="275.2" r="0.56" fill="#fff" fill-opacity="1.0"/>
<circle cx="288.6" cy="281.9" r="0.81" fill="#fff" fill-opacity="1.0"/>
<circle cx="256.3" cy="277.2" r="0.59" fill="#fff" fill-opacity="1.0"/>
<circle cx="271.7" cy="281.6" r="0.59" fill="#fff" fill-opacity="1.0"/>
<circle cx="280.8" cy="308.9" r="0.57" fill="#fff" fill-opacity="1.0"/>
<circle cx="260.5" cy="279.2" r="0.62" fill="#fff" fill-opacity="1.0"/>
<circle cx="279.9" cy="307.2" r="0.70" fill="#fff" fill-opacity="1.0"/>
<circle cx="288.3" cy="304.9" r="0.70" fill="#fff" fill-opacity="1.0"/>
<circle cx="278.9" cy="281.4" r="0.60" fill="#fff" fill-opacity="1.0"/>
<circle cx="288.4" cy="283.0" r="0.65" fill="#fff" fill-opacity="1.0"/>
<circle cx="260.7" cy="276.1" r="0.90" fill="#fff" fill-opacity="1.0"/>
<circle cx="256.8" cy="287.6" r="0.59" fill="#fff" fill-opacity="1.0"/>
<circle cx="280.0" cy="277.7" r="0.68" fill="#fff" fill-opacity="1.0"/>
<circle cx="283.0" cy="295.3" r="0.53" fill="#fff" fill-opacity="1.0"/>
<circle cx="280.8" cy="307.5" r="0.88" fill="#fff" fill-opacity="1.0"/>
<circle cx="263.8" cy="304.5" r="0.62" fill="#fff" fill-opacity="1.0"/>
<circle cx="265.3" cy="310.3" r="0.67" fill="#fff" fill-opacity="1.0"/>
<circle cx="255.3" cy="279.8" r="0.68" fill="#fff" fill-opacity="1.0"/>
<circle cx="275.8" cy="303.2" r="0.62" fill="#fff" fill-opacity="1.0"/>
<circle cx="286.9" cy="306.1" r="0.80" fill="#fff" fill-opacity="1.0"/>
<circle cx="280.4" cy="285.6" r="0.77" fill="#fff" fill-opacity="1.0"/>
<circle cx="265.8" cy="278.9" r="0.73" fill="#fff" fill-opacity="1.0"/>
<circle cx="264.1" cy="286.7" r="0.84" fill="#fff" fill-opacity="1.0"/>
<circle cx="274.5" cy="312.4" r="0.85" fill="#1e88e5"/>
<circle cx="283.7" cy="309.5" r="0.85" fill="#1e88e5"/>
<circle cx="254.6" cy="276.1" r="0.85" fill="#1e88e5"/>
<circle cx="243.9" cy="282.3" r="0.85" fill="#1e88e5"/>
<circle cx="267.9" cy="312.7" r="0.85" fill="#1e88e5"/>
<circle cx="209.8" cy="260.1" r="0.85" fill="#1e88e5"/>
<circle cx="198.2" cy="255.1" r="0.85" fill="#1e88e5"/>
<circle cx="269.2" cy="274.0" r="0.85" fill="#1e88e5"/>
<circle cx="194.9" cy="264.1" r="0.85" fill="#1e88e5"/>
<circle cx="235.1" cy="278.9" r="0.85" fill="#1e88e5"/>
<circle cx="285.3" cy="277.1" r="0.85" fill="#1e88e5"/>
<circle cx="279.3" cy="275.2" r="0.85" fill="#1e88e5"/>
<circle cx="262.8" cy="272.2" r="0.85" fill="#1e88e5"/>
<circle cx="246.5" cy="281.2" r="0.85" fill="#1e88e5"/>
<circle cx="272.6" cy="312.7" r="0.85" fill="#1e88e5"/>
<circle cx="230.5" cy="291.5" r="0.85" fill="#1e88e5"/>
<circle cx="209.2" cy="259.6" r="0.85" fill="#1e88e5"/>
<circle cx="285.8" cy="307.6" r="0.85" fill="#1e88e5"/>
<circle cx="281.3" cy="275.9" r="0.85" fill="#1e88e5"/>
<circle cx="232.1" cy="293.0" r="0.85" fill="#1e88e5"/>
<circle cx="197.4" cy="266.3" r="0.85" fill="#1e88e5"/>
<circle cx="268.5" cy="273.4" r="0.85" fill="#1e88e5"/>
<circle cx="264.0" cy="312.2" r="0.85" fill="#1e88e5"/>
<circle cx="278.1" cy="312.3" r="0.85" fill="#1e88e5"/>
<circle cx="226.8" cy="287.5" r="0.85" fill="#1e88e5"/>
<circle cx="208.6" cy="259.3" r="0.85" fill="#1e88e5"/>
<circle cx="262.7" cy="272.8" r="0.85" fill="#1e88e5"/>
<circle cx="239.0" cy="301.3" r="0.85" fill="#1e88e5"/>
<circle cx="285.6" cy="308.4" r="0.85" fill="#1e88e5"/>
<circle cx="269.1" cy="272.7" r="0.85" fill="#1e88e5"/>
<circle cx="244.2" cy="307.2" r="0.85" fill="#1e88e5"/>
<circle cx="224.9" cy="284.7" r="0.85" fill="#1e88e5"/>
<circle cx="190.4" cy="263.1" r="0.85" fill="#1e88e5"/>
<circle cx="279.8" cy="311.7" r="0.85" fill="#1e88e5"/>
<circle cx="283.1" cy="309.1" r="0.85" fill="#1e88e5"/>
<circle cx="252.4" cy="310.9" r="0.85" fill="#1e88e5"/>
<circle cx="249.4" cy="279.9" r="0.85" fill="#1e88e5"/>
<circle cx="230.9" cy="291.6" r="0.85" fill="#1e88e5"/>
<circle cx="197.4" cy="254.2" r="0.85" fill="#1e88e5"/>
<circle cx="261.1" cy="311.5" r="0.85" fill="#1e88e5"/>
<circle cx="214.1" cy="275.0" r="0.85" fill="#1e88e5"/>
<circle cx="249.5" cy="309.6" r="0.85" fill="#1e88e5"/>
<circle cx="247.7" cy="309.4" r="0.85" fill="#1e88e5"/>
<circle cx="260.6" cy="311.5" r="0.85" fill="#1e88e5"/>
<circle cx="273.5" cy="312.2" r="0.85" fill="#1e88e5"/>
<circle cx="284.3" cy="277.2" r="0.85" fill="#1e88e5"/>
<circle cx="195.1" cy="265.0" r="0.85" fill="#1e88e5"/>
<circle cx="202.5" cy="255.8" r="0.85" fill="#1e88e5"/>
<circle cx="289.8" cy="280.4" r="0.85" fill="#1e88e5"/>
<circle cx="213.0" cy="262.1" r="0.85" fill="#1e88e5"/>
<circle cx="229.8" cy="290.2" r="0.85" fill="#1e88e5"/>
<circle cx="204.5" cy="257.5" r="0.85" fill="#1e88e5"/>
<circle cx="207.7" cy="258.5" r="0.85" fill="#1e88e5"/>
<circle cx="206.7" cy="258.1" r="0.85" fill="#1e88e5"/>
<circle cx="287.2" cy="278.1" r="0.85" fill="#1e88e5"/>
<circle cx="236.1" cy="280.0" r="0.85" fill="#1e88e5"/>
<circle cx="202.8" cy="256.8" r="0.85" fill="#1e88e5"/>
<circle cx="259.5" cy="311.5" r="0.85" fill="#1e88e5"/>
<circle cx="224.1" cy="271.2" r="0.85" fill="#1e88e5"/>
<circle cx="258.5" cy="275.1" r="0.85" fill="#1e88e5"/>
<circle cx="276.2" cy="312.3" r="0.85" fill="#1e88e5"/>
<circle cx="274.6" cy="312.8" r="0.85" fill="#1e88e5"/>
<circle cx="252.3" cy="310.8" r="0.85" fill="#1e88e5"/>
<circle cx="232.1" cy="276.9" r="0.85" fill="#1e88e5"/>
<circle cx="255.6" cy="312.3" r="0.85" fill="#1e88e5"/>
<circle cx="202.8" cy="255.7" r="0.85" fill="#1e88e5"/>
<circle cx="268.7" cy="312.5" r="0.85" fill="#1e88e5"/>
<circle cx="222.7" cy="283.9" r="0.85" fill="#1e88e5"/>
<circle cx="229.1" cy="275.1" r="0.85" fill="#1e88e5"/>
<circle cx="279.5" cy="311.1" r="0.85" fill="#1e88e5"/>
<circle cx="221.0" cy="268.4" r="0.85" fill="#1e88e5"/>
<circle cx="225.1" cy="285.1" r="0.85" fill="#1e88e5"/>
<circle cx="242.3" cy="305.3" r="0.85" fill="#1e88e5"/>
<circle cx="236.6" cy="280.7" r="0.85" fill="#1e88e5"/>
<circle cx="250.1" cy="310.0" r="0.85" fill="#1e88e5"/>
<circle cx="225.8" cy="272.2" r="0.85" fill="#1e88e5"/>
<circle cx="281.1" cy="310.6" r="0.85" fill="#1e88e5"/>
<circle cx="221.9" cy="282.8" r="0.85" fill="#1e88e5"/>
<circle cx="258.4" cy="275.1" r="0.85" fill="#1e88e5"/>
<circle cx="194.1" cy="263.7" r="0.85" fill="#1e88e5"/>
<circle cx="211.3" cy="260.9" r="0.85" fill="#1e88e5"/>
<circle cx="262.8" cy="313.0" r="0.85" fill="#1e88e5"/>
<circle cx="284.6" cy="309.4" r="0.85" fill="#1e88e5"/>
<circle cx="197.1" cy="265.6" r="0.85" fill="#1e88e5"/>
<circle cx="207.7" cy="272.1" r="0.85" fill="#1e88e5"/>
<circle cx="227.3" cy="272.6" r="0.85" fill="#1e88e5"/>
<circle cx="264.9" cy="313.3" r="0.85" fill="#1e88e5"/>
<circle cx="191.9" cy="251.9" r="0.85" fill="#1e88e5"/>
<circle cx="190.2" cy="262.6" r="0.85" fill="#1e88e5"/>
<circle cx="199.5" cy="255.3" r="0.85" fill="#1e88e5"/>
<circle cx="250.1" cy="311.1" r="0.85" fill="#1e88e5"/>
<circle cx="224.8" cy="285.0" r="0.85" fill="#1e88e5"/>
<circle cx="227.9" cy="274.0" r="0.85" fill="#1e88e5"/>
<circle cx="287.4" cy="307.7" r="0.85" fill="#1e88e5"/>
<circle cx="205.9" cy="258.0" r="0.85" fill="#1e88e5"/>
<circle cx="223.8" cy="283.9" r="0.85" fill="#1e88e5"/>
<circle cx="242.1" cy="304.2" r="0.85" fill="#1e88e5"/>
<circle cx="232.8" cy="294.1" r="0.85" fill="#1e88e5"/>
<circle cx="234.1" cy="295.6" r="0.85" fill="#1e88e5"/>
<circle cx="222.4" cy="269.3" r="0.85" fill="#1e88e5"/>
<circle cx="275.7" cy="313.2" r="0.85" fill="#1e88e5"/>
<circle cx="202.5" cy="256.2" r="0.85" fill="#1e88e5"/>
<circle cx="258.4" cy="274.2" r="0.85" fill="#1e88e5"/>
<circle cx="268.2" cy="311.4" r="0.85" fill="#1e88e5"/>
<circle cx="269.4" cy="273.1" r="0.85" fill="#1e88e5"/>
<circle cx="246.1" cy="308.0" r="0.85" fill="#1e88e5"/>
<circle cx="285.9" cy="308.8" r="0.85" fill="#1e88e5"/>
<circle cx="250.8" cy="279.0" r="0.85" fill="#1e88e5"/>
<circle cx="215.4" cy="276.9" r="0.85" fill="#1e88e5"/>
<circle cx="268.4" cy="312.9" r="0.85" fill="#1e88e5"/>
<circle cx="258.2" cy="274.4" r="0.85" fill="#1e88e5"/>
<circle cx="214.8" cy="275.5" r="0.85" fill="#1e88e5"/>
<circle cx="275.5" cy="275.6" r="0.85" fill="#1e88e5"/>
<circle cx="282.1" cy="275.5" r="0.85" fill="#1e88e5"/>
<circle cx="265.2" cy="272.1" r="0.85" fill="#1e88e5"/>
<circle cx="246.5" cy="308.5" r="0.85" fill="#1e88e5"/>
<circle cx="231.6" cy="291.9" r="0.85" fill="#1e88e5"/>
<circle cx="267.3" cy="273.1" r="0.85" fill="#1e88e5"/>
<circle cx="199.6" cy="267.0" r="0.85" fill="#1e88e5"/>
<circle cx="262.1" cy="272.7" r="0.85" fill="#1e88e5"/>
<circle cx="254.2" cy="276.8" r="0.85" fill="#1e88e5"/>
<circle cx="261.6" cy="273.0" r="0.85" fill="#1e88e5"/>
<circle cx="216.3" cy="263.0" r="0.85" fill="#1e88e5"/>
<circle cx="284.2" cy="308.8" r="0.85" fill="#1e88e5"/>
<circle cx="246.3" cy="308.6" r="0.85" fill="#1e88e5"/>
<circle cx="234.5" cy="295.9" r="0.85" fill="#1e88e5"/>
<circle cx="284.9" cy="277.6" r="0.85" fill="#1e88e5"/>
<circle cx="264.4" cy="272.1" r="0.85" fill="#1e88e5"/>
<circle cx="193.5" cy="263.9" r="0.85" fill="#1e88e5"/>
<circle cx="263.5" cy="272.3" r="0.85" fill="#1e88e5"/>
<circle cx="268.2" cy="269.7" r="0.85" fill="#1e88e5"/>
<circle cx="280.0" cy="270.3" r="0.85" fill="#1e88e5"/>
<circle cx="270.9" cy="269.1" r="0.85" fill="#1e88e5"/>
<circle cx="281.0" cy="274.5" r="0.85" fill="#1e88e5"/>
<circle cx="258.9" cy="270.6" r="0.85" fill="#1e88e5"/>
<circle cx="270.7" cy="272.2" r="0.85" fill="#1e88e5"/>
<circle cx="277.7" cy="271.4" r="0.85" fill="#1e88e5"/>
<circle cx="283.2" cy="271.5" r="0.85" fill="#1e88e5"/>
<circle cx="261.7" cy="272.3" r="0.85" fill="#1e88e5"/>
<circle cx="261.2" cy="269.4" r="0.85" fill="#1e88e5"/>
<circle cx="271.5" cy="270.4" r="0.85" fill="#1e88e5"/>
<circle cx="262.4" cy="272.9" r="0.85" fill="#1e88e5"/>
<circle cx="270.8" cy="272.5" r="0.85" fill="#1e88e5"/>
<circle cx="264.8" cy="272.9" r="0.85" fill="#1e88e5"/>
<circle cx="183.0" cy="246.0" r="0.9" fill="#1e88e5"/>
<circle cx="185.0" cy="247.0" r="0.9" fill="#1e88e5"/>
<circle cx="264.5" cy="266.3" r="0.9" fill="#1e88e5"/>
<circle cx="280.0" cy="271.0" r="0.9" fill="#1e88e5"/>
<circle cx="284.5" cy="275.0" r="0.9" fill="#1e88e5"/>
<circle cx="255.5" cy="315.8" r="0.9" fill="#1e88e5"/>
<circle cx="273.0" cy="316.0" r="0.9" fill="#1e88e5"/>
<circle cx="276.7" cy="316.0" r="0.9" fill="#1e88e5"/>
<circle cx="284.5" cy="313.5" r="0.9" fill="#1e88e5"/>
<circle cx="284.0" cy="319.0" r="0.9" fill="#1e88e5"/>
<circle cx="290.0" cy="311.5" r="0.9" fill="#1e88e5"/>
<rect x="222.00" y="322.62" width="1.60" height="0.98" fill="#000" fill-opacity="0.13"/>
<rect x="224.20" y="322.07" width="1.60" height="1.53" fill="#000" fill-opacity="0.13"/>
<rect x="226.40" y="322.31" width="1.60" height="1.29" fill="#000" fill-opacity="0.13"/>
<rect x="228.60" y="322.02" width="1.60" height="1.58" fill="#000" fill-opacity="0.13"/>
<rect x="230.80" y="322.18" width="1.60" height="1.42" fill="#000" fill-opacity="0.13"/>
<rect x="233.00" y="322.30" width="1.60" height="1.30" fill="#000" fill-opacity="0.13"/>
<rect x="235.20" y="322.37" width="1.60" height="1.23" fill="#000" fill-opacity="0.13"/>
<rect x="237.40" y="322.12" width="1.60" height="1.48" fill="#000" fill-opacity="0.13"/>
<rect x="239.60" y="322.45" width="1.60" height="1.15" fill="#000" fill-opacity="0.13"/>
<rect x="241.80" y="322.72" width="1.60" height="0.88" fill="#000" fill-opacity="0.13"/>
<rect x="244.00" y="322.07" width="1.60" height="1.53" fill="#000" fill-opacity="0.13"/>
<rect x="246.20" y="322.16" width="1.60" height="1.44" fill="#000" fill-opacity="0.13"/>
<rect x="248.40" y="322.25" width="1.60" height="1.35" fill="#000" fill-opacity="0.13"/>
<rect x="250.60" y="322.20" width="1.60" height="1.40" fill="#000" fill-opacity="0.13"/>
<rect x="252.80" y="322.61" width="1.60" height="0.99" fill="#000" fill-opacity="0.13"/>
<rect x="255.00" y="322.43" width="1.60" height="1.17" fill="#000" fill-opacity="0.13"/>
<rect x="257.20" y="322.14" width="1.60" height="1.46" fill="#000" fill-opacity="0.13"/>
<rect x="259.40" y="322.03" width="1.60" height="1.57" fill="#000" fill-opacity="0.13"/>
<rect x="261.60" y="322.06" width="1.60" height="1.54" fill="#000" fill-opacity="0.13"/>
<rect x="263.80" y="322.67" width="1.60" height="0.93" fill="#000" fill-opacity="0.13"/>
<rect x="266.00" y="322.25" width="1.60" height="1.35" fill="#000" fill-opacity="0.13"/>
<rect x="268.20" y="322.36" width="1.60" height="1.24" fill="#000" fill-opacity="0.13"/>
<rect x="270.40" y="322.48" width="1.60" height="1.12" fill="#000" fill-opacity="0.13"/>
<rect x="272.60" y="322.67" width="1.60" height="0.93" fill="#000" fill-opacity="0.13"/>
<rect x="274.80" y="322.69" width="1.60" height="0.91" fill="#000" fill-opacity="0.13"/>
<rect x="277.00" y="322.42" width="1.60" height="1.18" fill="#000" fill-opacity="0.13"/>
<rect x="279.20" y="322.41" width="1.60" height="1.19" fill="#000" fill-opacity="0.13"/>
<rect x="281.40" y="322.59" width="1.60" height="1.01" fill="#000" fill-opacity="0.13"/>
<rect x="283.60" y="322.51" width="1.60" height="1.09" fill="#000" fill-opacity="0.13"/>
<line x1="173.30" y1="268.40" x2="295.30" y2="268.40" stroke="#3a3a3a" stroke-width="0.6" stroke-dasharray="2.85,0.95" stroke-dashoffset="2.9"/>
<path d="M173.30,211.10 L173.30,323.70 L295.30,323.70" fill="none" stroke="#6a6a6a" stroke-width="0.6"/>
<text x="234.30" y="198.25" font-size="7.6" text-anchor="middle" fill="#000">Geography</text>
<text x="234.30" y="207.70" font-size="7.6" text-anchor="middle" fill="#000">(0.581)</text>
<line x1="178.85" y1="323.70" x2="178.85" y2="325.80" stroke="#333333" stroke-width="0.5"/>
<text x="178.85" y="333.00" font-size="6.4" text-anchor="middle" fill="#333333">0</text>
<line x1="201.03" y1="323.70" x2="201.03" y2="325.80" stroke="#333333" stroke-width="0.5"/>
<text x="201.03" y="333.00" font-size="6.4" text-anchor="middle" fill="#333333">2</text>
<line x1="223.21" y1="323.70" x2="223.21" y2="325.80" stroke="#333333" stroke-width="0.5"/>
<text x="223.21" y="333.00" font-size="6.4" text-anchor="middle" fill="#333333">4</text>
<line x1="245.39" y1="323.70" x2="245.39" y2="325.80" stroke="#333333" stroke-width="0.5"/>
<text x="245.39" y="333.00" font-size="6.4" text-anchor="middle" fill="#333333">6</text>
<line x1="267.57" y1="323.70" x2="267.57" y2="325.80" stroke="#333333" stroke-width="0.5"/>
<text x="267.57" y="333.00" font-size="6.4" text-anchor="middle" fill="#333333">8</text>
<line x1="289.75" y1="323.70" x2="289.75" y2="325.80" stroke="#333333" stroke-width="0.5"/>
<text x="289.75" y="333.00" font-size="6.4" text-anchor="middle" fill="#333333">10</text>
<path d="M302.0,274.3 L302.7,273.9 L303.4,273.8 L304.2,273.7 L304.9,274.0 L305.6,274.2 L305.9,274.6 L305.9,275.5 L305.3,276.5 L305.7,277.4 L305.9,278.4 L305.5,279.3 L305.6,280.3 L305.5,281.2 L305.3,282.2 L305.4,283.1 L305.3,284.1 L305.4,285.0 L305.7,286.0 L305.6,286.9 L305.6,287.0 L304.9,287.6 L304.2,287.8 L303.4,287.5 L302.7,287.6 L302.0,287.2 L302.3,286.9 L302.1,286.0 L301.9,285.0 L302.1,284.1 L301.9,283.1 L302.3,282.2 L301.8,281.2 L302.3,280.3 L301.7,279.3 L301.7,278.4 L302.0,277.4 L301.8,276.5 L302.0,275.5 L301.7,274.6Z" fill="#1e88e5"/>
<path d="M306.2,276.4 L307.2,276.1 L308.2,276.2 L309.2,275.2 L310.2,273.7 L311.2,274.2 L312.2,273.1 L313.2,272.2 L314.2,271.8 L315.2,270.5 L316.2,270.0 L317.2,269.1 L318.2,268.5 L319.2,267.9 L320.2,267.6 L321.2,266.4 L322.2,265.7 L323.2,264.0 L324.2,263.4 L325.2,262.6 L326.2,262.3 L327.2,261.4 L328.2,260.0 L329.2,259.1 L330.2,257.6 L331.2,256.5 L332.2,255.4 L333.2,254.9 L334.2,253.4 L335.2,252.9 L336.2,251.7 L337.2,250.0 L338.2,249.3 L339.2,244.9 L340.2,239.8 L341.2,238.4 L342.2,238.2 L343.2,238.2 L344.2,237.5 L345.2,236.8 L346.2,237.0 L347.2,235.9 L348.2,235.4 L349.2,235.1 L350.2,235.3 L351.2,235.2 L352.2,234.7 L353.2,234.5 L354.2,235.1 L355.2,234.3 L356.2,233.5 L357.2,234.2 L358.2,233.0 L359.2,232.6 L360.2,232.6 L361.2,232.8 L362.2,232.2 L363.2,232.1 L364.2,231.7 L365.2,231.7 L366.2,230.6 L367.2,230.3 L368.2,230.6 L369.2,229.8 L370.2,229.9 L371.2,229.3 L372.2,229.0 L373.2,228.3 L374.2,229.0 L375.2,227.6 L376.2,227.5 L377.2,227.2 L378.2,226.8 L379.2,226.5 L380.2,225.4 L381.2,225.3 L382.2,225.4 L383.2,225.1 L384.2,224.4 L385.2,225.1 L386.2,224.4 L387.2,224.5 L388.2,224.1 L389.2,224.0 L390.2,223.7 L391.2,223.7 L392.2,223.2 L393.2,223.9 L394.2,222.9 L395.2,223.4 L396.2,222.9 L397.2,222.3 L398.2,222.5 L399.2,223.1 L400.2,222.9 L401.2,222.8 L402.2,223.0 L403.2,222.9 L404.2,222.0 L405.2,222.4 L406.2,222.2 L407.2,222.5 L408.2,222.1 L409.2,222.4 L410.2,222.6 L411.2,222.6 L412.2,223.1 L413.2,223.2 L414.2,222.8 L415.2,223.2 L416.2,222.9 L417.2,223.5 L418.2,223.2 L418.8,222.9 L418.8,253.4 L418.2,253.2 L417.2,252.2 L416.2,250.7 L415.2,249.7 L414.2,250.0 L413.2,249.3 L412.2,249.4 L411.2,248.7 L410.2,248.5 L409.2,248.7 L408.2,248.8 L407.2,248.5 L406.2,248.8 L405.2,248.6 L404.2,249.0 L403.2,249.2 L402.2,249.4 L401.2,249.5 L400.2,249.9 L399.2,249.6 L398.2,250.4 L397.2,249.7 L396.2,250.6 L395.2,250.2 L394.2,251.3 L393.2,251.3 L392.2,251.6 L391.2,251.0 L390.2,252.4 L389.2,252.4 L388.2,252.7 L387.2,253.1 L386.2,252.6 L385.2,253.0 L384.2,254.0 L383.2,254.6 L382.2,254.6 L381.2,254.2 L380.2,254.5 L379.2,255.6 L378.2,255.3 L377.2,255.8 L376.2,255.8 L375.2,256.4 L374.2,257.2 L373.2,256.9 L372.2,256.6 L371.2,257.5 L370.2,257.1 L369.2,257.4 L368.2,258.6 L367.2,257.7 L366.2,258.4 L365.2,258.2 L364.2,258.6 L363.2,259.3 L362.2,259.4 L361.2,260.4 L360.2,260.0 L359.2,260.8 L358.2,261.4 L357.2,261.8 L356.2,261.6 L355.2,262.0 L354.2,262.9 L353.2,262.6 L352.2,262.6 L351.2,263.8 L350.2,263.2 L349.2,264.1 L348.2,264.2 L347.2,264.4 L346.2,265.5 L345.2,265.9 L344.2,267.1 L343.2,267.3 L342.2,268.3 L341.2,269.4 L340.2,270.0 L339.2,270.5 L338.2,270.8 L337.2,270.9 L336.2,271.8 L335.2,272.2 L334.2,272.5 L333.2,273.2 L332.2,272.8 L331.2,273.1 L330.2,274.4 L329.2,274.5 L328.2,274.5 L327.2,275.5 L326.2,276.5 L325.2,276.6 L324.2,276.6 L323.2,278.0 L322.2,279.0 L321.2,278.6 L320.2,279.7 L319.2,279.9 L318.2,280.8 L317.2,281.0 L316.2,281.2 L315.2,280.8 L314.2,282.0 L313.2,282.5 L312.2,281.8 L311.2,282.6 L310.2,283.2 L309.2,283.1 L308.2,284.3 L307.2,285.1 L306.2,285.2Z" fill="#1e88e5"/>
<circle cx="318.6" cy="270.5" r="0.75" fill="#fff" fill-opacity="1.0"/>
<circle cx="330.5" cy="259.3" r="0.76" fill="#fff" fill-opacity="1.0"/>
<circle cx="328.0" cy="272.2" r="0.73" fill="#fff" fill-opacity="1.0"/>
<circle cx="315.9" cy="272.8" r="0.50" fill="#fff" fill-opacity="1.0"/>
<circle cx="337.8" cy="268.4" r="0.83" fill="#fff" fill-opacity="1.0"/>
<circle cx="332.8" cy="257.3" r="0.53" fill="#fff" fill-opacity="1.0"/>
<circle cx="332.5" cy="264.1" r="0.62" fill="#fff" fill-opacity="1.0"/>
<circle cx="315.8" cy="277.9" r="0.80" fill="#fff" fill-opacity="1.0"/>
<circle cx="334.2" cy="262.1" r="0.64" fill="#fff" fill-opacity="1.0"/>
<circle cx="317.2" cy="272.4" r="0.55" fill="#fff" fill-opacity="1.0"/>
<circle cx="316.1" cy="278.4" r="0.61" fill="#fff" fill-opacity="1.0"/>
<circle cx="334.3" cy="261.9" r="0.56" fill="#fff" fill-opacity="1.0"/>
<circle cx="331.8" cy="271.9" r="0.81" fill="#fff" fill-opacity="1.0"/>
<circle cx="321.2" cy="276.4" r="0.58" fill="#fff" fill-opacity="1.0"/>
<circle cx="307.8" cy="282.1" r="0.49" fill="#fff" fill-opacity="1.0"/>
<circle cx="319.0" cy="272.5" r="0.73" fill="#fff" fill-opacity="1.0"/>
<circle cx="327.1" cy="262.2" r="0.73" fill="#fff" fill-opacity="1.0"/>
<circle cx="326.6" cy="263.1" r="0.79" fill="#fff" fill-opacity="1.0"/>
<circle cx="336.1" cy="254.5" r="0.69" fill="#fff" fill-opacity="1.0"/>
<circle cx="317.4" cy="271.4" r="0.72" fill="#fff" fill-opacity="1.0"/>
<circle cx="326.3" cy="274.3" r="0.56" fill="#fff" fill-opacity="1.0"/>
<circle cx="317.1" cy="278.4" r="0.81" fill="#fff" fill-opacity="1.0"/>
<circle cx="310.9" cy="276.6" r="0.79" fill="#fff" fill-opacity="1.0"/>
<circle cx="314.9" cy="279.1" r="0.50" fill="#fff" fill-opacity="1.0"/>
<circle cx="332.5" cy="260.8" r="0.76" fill="#fff" fill-opacity="1.0"/>
<circle cx="322.4" cy="266.9" r="0.62" fill="#fff" fill-opacity="1.0"/>
<circle cx="314.4" cy="278.3" r="0.78" fill="#fff" fill-opacity="1.0"/>
<circle cx="324.6" cy="273.5" r="0.53" fill="#fff" fill-opacity="1.0"/>
<circle cx="315.5" cy="275.5" r="0.84" fill="#fff" fill-opacity="1.0"/>
<circle cx="310.1" cy="281.6" r="0.49" fill="#fff" fill-opacity="1.0"/>
<circle cx="348.2" cy="238.1" r="0.64" fill="#fff" fill-opacity="1.0"/>
<circle cx="380.0" cy="228.5" r="0.67" fill="#fff" fill-opacity="1.0"/>
<circle cx="416.4" cy="225.7" r="0.66" fill="#fff" fill-opacity="1.0"/>
<circle cx="369.6" cy="236.4" r="0.80" fill="#fff" fill-opacity="1.0"/>
<circle cx="368.5" cy="233.0" r="0.69" fill="#fff" fill-opacity="1.0"/>
<circle cx="362.8" cy="235.6" r="0.62" fill="#fff" fill-opacity="1.0"/>
<circle cx="349.8" cy="261.1" r="0.60" fill="#fff" fill-opacity="1.0"/>
<circle cx="366.2" cy="240.6" r="0.64" fill="#fff" fill-opacity="1.0"/>
<circle cx="414.5" cy="247.3" r="0.55" fill="#fff" fill-opacity="1.0"/>
<circle cx="391.9" cy="249.1" r="0.63" fill="#fff" fill-opacity="1.0"/>
<circle cx="358.9" cy="246.0" r="0.78" fill="#fff" fill-opacity="1.0"/>
<circle cx="369.8" cy="231.8" r="0.57" fill="#fff" fill-opacity="1.0"/>
<circle cx="414.8" cy="246.7" r="0.66" fill="#fff" fill-opacity="1.0"/>
<circle cx="377.3" cy="228.6" r="0.72" fill="#fff" fill-opacity="1.0"/>
<circle cx="394.3" cy="226.1" r="0.54" fill="#fff" fill-opacity="1.0"/>
<circle cx="388.1" cy="226.8" r="0.60" fill="#fff" fill-opacity="1.0"/>
<circle cx="383.3" cy="227.4" r="0.71" fill="#fff" fill-opacity="1.0"/>
<circle cx="351.3" cy="238.0" r="0.68" fill="#fff" fill-opacity="1.0"/>
<circle cx="388.4" cy="240.2" r="0.57" fill="#fff" fill-opacity="1.0"/>
<circle cx="375.0" cy="244.1" r="0.75" fill="#fff" fill-opacity="1.0"/>
<circle cx="369.0" cy="254.1" r="0.78" fill="#fff" fill-opacity="1.0"/>
<circle cx="391.1" cy="226.5" r="0.50" fill="#fff" fill-opacity="1.0"/>
<circle cx="412.7" cy="241.5" r="0.58" fill="#fff" fill-opacity="1.0"/>
<circle cx="406.0" cy="225.7" r="0.67" fill="#fff" fill-opacity="1.0"/>
<circle cx="342.2" cy="251.8" r="0.78" fill="#fff" fill-opacity="1.0"/>
<circle cx="393.9" cy="247.6" r="0.56" fill="#fff" fill-opacity="1.0"/>
<circle cx="410.0" cy="223.7" r="0.61" fill="#fff" fill-opacity="1.0"/>
<circle cx="346.1" cy="239.3" r="0.53" fill="#fff" fill-opacity="1.0"/>
<circle cx="353.3" cy="236.6" r="0.81" fill="#fff" fill-opacity="1.0"/>
<circle cx="410.5" cy="247.4" r="0.64" fill="#fff" fill-opacity="1.0"/>
<circle cx="402.1" cy="225.9" r="0.77" fill="#fff" fill-opacity="1.0"/>
<circle cx="397.2" cy="224.3" r="0.81" fill="#fff" fill-opacity="1.0"/>
<circle cx="383.4" cy="250.6" r="0.54" fill="#fff" fill-opacity="1.0"/>
<circle cx="394.7" cy="247.6" r="0.65" fill="#fff" fill-opacity="1.0"/>
<circle cx="356.1" cy="242.5" r="0.75" fill="#fff" fill-opacity="1.0"/>
<circle cx="404.8" cy="225.3" r="0.63" fill="#fff" fill-opacity="1.0"/>
<circle cx="358.2" cy="237.0" r="0.62" fill="#fff" fill-opacity="1.0"/>
<circle cx="380.2" cy="253.7" r="0.75" fill="#fff" fill-opacity="1.0"/>
<circle cx="398.2" cy="232.8" r="0.56" fill="#fff" fill-opacity="1.0"/>
<circle cx="367.7" cy="248.3" r="0.63" fill="#fff" fill-opacity="1.0"/>
<circle cx="381.3" cy="228.8" r="0.66" fill="#fff" fill-opacity="1.0"/>
<circle cx="379.9" cy="232.1" r="0.74" fill="#fff" fill-opacity="1.0"/>
<circle cx="368.1" cy="233.9" r="0.59" fill="#fff" fill-opacity="1.0"/>
<circle cx="389.8" cy="249.8" r="0.69" fill="#fff" fill-opacity="1.0"/>
<circle cx="357.7" cy="260.2" r="0.77" fill="#fff" fill-opacity="1.0"/>
<circle cx="360.5" cy="247.8" r="0.70" fill="#fff" fill-opacity="1.0"/>
<circle cx="389.1" cy="227.3" r="0.59" fill="#fff" fill-opacity="1.0"/>
<circle cx="407.3" cy="239.9" r="0.78" fill="#fff" fill-opacity="1.0"/>
<circle cx="374.5" cy="253.0" r="0.56" fill="#fff" fill-opacity="1.0"/>
<circle cx="348.7" cy="261.7" r="0.54" fill="#fff" fill-opacity="1.0"/>
<circle cx="358.0" cy="244.6" r="0.54" fill="#fff" fill-opacity="1.0"/>
<circle cx="355.1" cy="260.8" r="0.66" fill="#fff" fill-opacity="1.0"/>
<circle cx="382.3" cy="251.9" r="0.78" fill="#fff" fill-opacity="1.0"/>
<circle cx="342.3" cy="245.0" r="0.50" fill="#fff" fill-opacity="1.0"/>
<circle cx="399.9" cy="247.1" r="0.57" fill="#fff" fill-opacity="1.0"/>
<circle cx="401.0" cy="225.4" r="0.57" fill="#fff" fill-opacity="1.0"/>
<circle cx="385.0" cy="251.4" r="0.66" fill="#fff" fill-opacity="1.0"/>
<circle cx="346.0" cy="262.6" r="0.54" fill="#fff" fill-opacity="1.0"/>
<circle cx="383.3" cy="228.9" r="0.78" fill="#fff" fill-opacity="1.0"/>
<circle cx="407.8" cy="224.2" r="0.52" fill="#fff" fill-opacity="1.0"/>
<line x1="308.00" y1="276.4" x2="308.00" y2="283.8" stroke="#fff" stroke-opacity="0.35" stroke-width="0.45"/>
<line x1="310.79" y1="274.6" x2="310.79" y2="282.2" stroke="#fff" stroke-opacity="0.35" stroke-width="0.45"/>
<line x1="313.57" y1="273.0" x2="313.57" y2="280.2" stroke="#fff" stroke-opacity="0.35" stroke-width="0.45"/>
<line x1="316.50" y1="270.7" x2="316.50" y2="280.0" stroke="#fff" stroke-opacity="0.35" stroke-width="0.45"/>
<line x1="319.02" y1="268.9" x2="319.02" y2="279.6" stroke="#fff" stroke-opacity="0.35" stroke-width="0.45"/>
<line x1="321.93" y1="267.2" x2="321.93" y2="276.6" stroke="#fff" stroke-opacity="0.35" stroke-width="0.45"/>
<line x1="324.57" y1="263.7" x2="324.57" y2="275.2" stroke="#fff" stroke-opacity="0.35" stroke-width="0.45"/>
<line x1="327.32" y1="262.6" x2="327.32" y2="274.4" stroke="#fff" stroke-opacity="0.35" stroke-width="0.45"/>
<line x1="330.01" y1="258.4" x2="330.01" y2="272.1" stroke="#fff" stroke-opacity="0.35" stroke-width="0.45"/>
<line x1="332.82" y1="256.2" x2="332.82" y2="271.9" stroke="#fff" stroke-opacity="0.35" stroke-width="0.45"/>
<line x1="335.77" y1="253.9" x2="335.77" y2="270.8" stroke="#fff" stroke-opacity="0.35" stroke-width="0.45"/>
<circle cx="352.1" cy="263.1" r="0.85" fill="#1e88e5"/>
<circle cx="380.3" cy="255.0" r="0.85" fill="#1e88e5"/>
<circle cx="370.8" cy="229.3" r="0.85" fill="#1e88e5"/>
<circle cx="402.8" cy="222.4" r="0.85" fill="#1e88e5"/>
<circle cx="404.6" cy="248.3" r="0.85" fill="#1e88e5"/>
<circle cx="376.6" cy="256.7" r="0.85" fill="#1e88e5"/>
<circle cx="359.2" cy="233.3" r="0.85" fill="#1e88e5"/>
<circle cx="386.0" cy="252.9" r="0.85" fill="#1e88e5"/>
<circle cx="378.3" cy="255.9" r="0.85" fill="#1e88e5"/>
<circle cx="309.6" cy="274.8" r="0.85" fill="#1e88e5"/>
<circle cx="373.3" cy="229.2" r="0.85" fill="#1e88e5"/>
<circle cx="381.3" cy="224.7" r="0.85" fill="#1e88e5"/>
<circle cx="341.0" cy="270.2" r="0.85" fill="#1e88e5"/>
<circle cx="320.0" cy="279.4" r="0.85" fill="#1e88e5"/>
<circle cx="410.8" cy="222.0" r="0.85" fill="#1e88e5"/>
<circle cx="348.0" cy="236.0" r="0.85" fill="#1e88e5"/>
<circle cx="362.6" cy="232.5" r="0.85" fill="#1e88e5"/>
<circle cx="365.0" cy="230.4" r="0.85" fill="#1e88e5"/>
<circle cx="349.6" cy="235.8" r="0.85" fill="#1e88e5"/>
<circle cx="414.3" cy="222.7" r="0.85" fill="#1e88e5"/>
<circle cx="399.3" cy="222.0" r="0.85" fill="#1e88e5"/>
<circle cx="338.0" cy="250.1" r="0.85" fill="#1e88e5"/>
<circle cx="356.9" cy="261.5" r="0.85" fill="#1e88e5"/>
<circle cx="355.9" cy="261.9" r="0.85" fill="#1e88e5"/>
<circle cx="324.1" cy="277.2" r="0.85" fill="#1e88e5"/>
<circle cx="411.0" cy="248.7" r="0.85" fill="#1e88e5"/>
<circle cx="369.2" cy="230.6" r="0.85" fill="#1e88e5"/>
<circle cx="356.3" cy="261.8" r="0.85" fill="#1e88e5"/>
<circle cx="372.0" cy="256.6" r="0.85" fill="#1e88e5"/>
<circle cx="409.4" cy="222.5" r="0.85" fill="#1e88e5"/>
<circle cx="386.4" cy="224.6" r="0.85" fill="#1e88e5"/>
<circle cx="321.2" cy="266.8" r="0.85" fill="#1e88e5"/>
<circle cx="323.9" cy="264.4" r="0.85" fill="#1e88e5"/>
<circle cx="317.2" cy="269.4" r="0.85" fill="#1e88e5"/>
<circle cx="322.3" cy="278.3" r="0.85" fill="#1e88e5"/>
<circle cx="335.1" cy="252.3" r="0.85" fill="#1e88e5"/>
<circle cx="312.4" cy="281.9" r="0.85" fill="#1e88e5"/>
<circle cx="411.7" cy="222.4" r="0.85" fill="#1e88e5"/>
<circle cx="402.7" cy="222.9" r="0.85" fill="#1e88e5"/>
<circle cx="383.9" cy="254.3" r="0.85" fill="#1e88e5"/>
<circle cx="337.9" cy="250.0" r="0.85" fill="#1e88e5"/>
<circle cx="355.5" cy="234.0" r="0.85" fill="#1e88e5"/>
<circle cx="340.3" cy="239.0" r="0.85" fill="#1e88e5"/>
<circle cx="316.7" cy="280.8" r="0.85" fill="#1e88e5"/>
<circle cx="332.5" cy="255.3" r="0.85" fill="#1e88e5"/>
<circle cx="362.9" cy="259.5" r="0.85" fill="#1e88e5"/>
<circle cx="352.8" cy="262.8" r="0.85" fill="#1e88e5"/>
<circle cx="415.7" cy="251.2" r="0.85" fill="#1e88e5"/>
<circle cx="411.5" cy="222.0" r="0.85" fill="#1e88e5"/>
<circle cx="374.9" cy="227.3" r="0.85" fill="#1e88e5"/>
<circle cx="378.8" cy="255.6" r="0.85" fill="#1e88e5"/>
<circle cx="316.0" cy="280.5" r="0.85" fill="#1e88e5"/>
<circle cx="335.9" cy="271.5" r="0.85" fill="#1e88e5"/>
<circle cx="358.4" cy="260.7" r="0.85" fill="#1e88e5"/>
<circle cx="380.3" cy="225.3" r="0.85" fill="#1e88e5"/>
<circle cx="379.0" cy="254.8" r="0.85" fill="#1e88e5"/>
<circle cx="328.3" cy="274.8" r="0.85" fill="#1e88e5"/>
<circle cx="354.2" cy="234.1" r="0.85" fill="#1e88e5"/>
<circle cx="389.1" cy="252.2" r="0.85" fill="#1e88e5"/>
<circle cx="370.2" cy="257.1" r="0.85" fill="#1e88e5"/>
<circle cx="412.2" cy="249.7" r="0.85" fill="#1e88e5"/>
<circle cx="417.0" cy="222.5" r="0.85" fill="#1e88e5"/>
<circle cx="333.8" cy="273.1" r="0.85" fill="#1e88e5"/>
<circle cx="411.0" cy="249.7" r="0.85" fill="#1e88e5"/>
<circle cx="336.8" cy="271.7" r="0.85" fill="#1e88e5"/>
<circle cx="341.8" cy="238.0" r="0.85" fill="#1e88e5"/>
<circle cx="400.4" cy="249.9" r="0.85" fill="#1e88e5"/>
<circle cx="326.0" cy="261.7" r="0.85" fill="#1e88e5"/>
<circle cx="330.6" cy="257.8" r="0.85" fill="#1e88e5"/>
<circle cx="324.3" cy="276.7" r="0.85" fill="#1e88e5"/>
<circle cx="401.0" cy="221.7" r="0.85" fill="#1e88e5"/>
<circle cx="340.7" cy="239.2" r="0.85" fill="#1e88e5"/>
<circle cx="308.5" cy="275.4" r="0.85" fill="#1e88e5"/>
<circle cx="308.6" cy="283.9" r="0.85" fill="#1e88e5"/>
<circle cx="307.2" cy="284.3" r="0.85" fill="#1e88e5"/>
<circle cx="335.2" cy="253.3" r="0.85" fill="#1e88e5"/>
<circle cx="385.7" cy="253.4" r="0.85" fill="#1e88e5"/>
<circle cx="334.4" cy="252.7" r="0.85" fill="#1e88e5"/>
<circle cx="348.4" cy="265.0" r="0.85" fill="#1e88e5"/>
<circle cx="321.0" cy="278.7" r="0.85" fill="#1e88e5"/>
<circle cx="385.8" cy="253.7" r="0.85" fill="#1e88e5"/>
<circle cx="368.0" cy="257.6" r="0.85" fill="#1e88e5"/>
<circle cx="366.9" cy="230.7" r="0.85" fill="#1e88e5"/>
<circle cx="328.4" cy="275.1" r="0.85" fill="#1e88e5"/>
<circle cx="393.4" cy="251.4" r="0.85" fill="#1e88e5"/>
<circle cx="409.2" cy="249.1" r="0.85" fill="#1e88e5"/>
<circle cx="343.3" cy="267.5" r="0.85" fill="#1e88e5"/>
<circle cx="318.5" cy="268.0" r="0.85" fill="#1e88e5"/>
<circle cx="410.2" cy="249.2" r="0.85" fill="#1e88e5"/>
<circle cx="410.9" cy="249.0" r="0.85" fill="#1e88e5"/>
<circle cx="358.3" cy="261.1" r="0.85" fill="#1e88e5"/>
<circle cx="319.3" cy="280.7" r="0.85" fill="#1e88e5"/>
<circle cx="334.7" cy="273.0" r="0.85" fill="#1e88e5"/>
<circle cx="321.3" cy="266.0" r="0.85" fill="#1e88e5"/>
<circle cx="344.2" cy="267.6" r="0.85" fill="#1e88e5"/>
<circle cx="356.5" cy="262.3" r="0.85" fill="#1e88e5"/>
<circle cx="326.4" cy="275.5" r="0.85" fill="#1e88e5"/>
<circle cx="315.6" cy="271.4" r="0.85" fill="#1e88e5"/>
<circle cx="360.4" cy="231.9" r="0.85" fill="#1e88e5"/>
<circle cx="352.9" cy="263.5" r="0.85" fill="#1e88e5"/>
<circle cx="372.0" cy="229.3" r="0.85" fill="#1e88e5"/>
<circle cx="361.6" cy="232.0" r="0.85" fill="#1e88e5"/>
<circle cx="363.1" cy="231.6" r="0.85" fill="#1e88e5"/>
<circle cx="417.4" cy="223.3" r="0.85" fill="#1e88e5"/>
<circle cx="308.5" cy="275.9" r="0.85" fill="#1e88e5"/>
<circle cx="354.0" cy="263.2" r="0.85" fill="#1e88e5"/>
<circle cx="414.1" cy="249.7" r="0.85" fill="#1e88e5"/>
<circle cx="371.4" cy="229.4" r="0.85" fill="#1e88e5"/>
<circle cx="336.1" cy="271.3" r="0.85" fill="#1e88e5"/>
<circle cx="367.2" cy="230.5" r="0.85" fill="#1e88e5"/>
<circle cx="351.9" cy="234.5" r="0.85" fill="#1e88e5"/>
<circle cx="395.7" cy="250.1" r="0.85" fill="#1e88e5"/>
<circle cx="373.5" cy="257.7" r="0.85" fill="#1e88e5"/>
<circle cx="391.1" cy="223.1" r="0.85" fill="#1e88e5"/>
<circle cx="380.8" cy="224.6" r="0.85" fill="#1e88e5"/>
<circle cx="398.6" cy="249.7" r="0.85" fill="#1e88e5"/>
<circle cx="371.0" cy="229.6" r="0.85" fill="#1e88e5"/>
<circle cx="391.4" cy="251.5" r="0.85" fill="#1e88e5"/>
<circle cx="367.3" cy="258.5" r="0.85" fill="#1e88e5"/>
<circle cx="408.2" cy="249.7" r="0.85" fill="#1e88e5"/>
<circle cx="357.5" cy="264.7" r="0.9" fill="#1e88e5"/>
<circle cx="398.6" cy="221.0" r="0.9" fill="#1e88e5"/>
<circle cx="403.0" cy="221.5" r="0.9" fill="#1e88e5"/>
<circle cx="403.3" cy="254.3" r="0.9" fill="#1e88e5"/>
<circle cx="410.3" cy="255.5" r="0.9" fill="#1e88e5"/>
<circle cx="416.5" cy="258.5" r="0.9" fill="#1e88e5"/>
<circle cx="377.5" cy="225.9" r="0.9" fill="#1e88e5"/>
<circle cx="320.0" cy="283.3" r="0.9" fill="#1e88e5"/>
<circle cx="340.0" cy="238.0" r="0.9" fill="#1e88e5"/>
<circle cx="342.0" cy="239.0" r="0.9" fill="#1e88e5"/>
<rect x="325.00" y="322.87" width="1.60" height="0.73" fill="#000" fill-opacity="0.13"/>
<rect x="327.20" y="322.49" width="1.60" height="1.11" fill="#000" fill-opacity="0.13"/>
<rect x="329.40" y="322.40" width="1.60" height="1.20" fill="#000" fill-opacity="0.13"/>
<rect x="331.60" y="322.25" width="1.60" height="1.35" fill="#000" fill-opacity="0.13"/>
<rect x="333.80" y="322.03" width="1.60" height="1.57" fill="#000" fill-opacity="0.13"/>
<rect x="336.00" y="322.34" width="1.60" height="1.26" fill="#000" fill-opacity="0.13"/>
<rect x="338.20" y="322.47" width="1.60" height="1.13" fill="#000" fill-opacity="0.13"/>
<rect x="340.40" y="322.33" width="1.60" height="1.27" fill="#000" fill-opacity="0.13"/>
<rect x="342.60" y="322.42" width="1.60" height="1.18" fill="#000" fill-opacity="0.13"/>
<rect x="344.80" y="322.27" width="1.60" height="1.33" fill="#000" fill-opacity="0.13"/>
<rect x="347.00" y="322.05" width="1.60" height="1.55" fill="#000" fill-opacity="0.13"/>
<rect x="349.20" y="322.89" width="1.60" height="0.71" fill="#000" fill-opacity="0.13"/>
<rect x="351.40" y="322.61" width="1.60" height="0.99" fill="#000" fill-opacity="0.13"/>
<rect x="353.60" y="322.11" width="1.60" height="1.49" fill="#000" fill-opacity="0.13"/>
<rect x="355.80" y="322.85" width="1.60" height="0.75" fill="#000" fill-opacity="0.13"/>
<rect x="358.00" y="322.19" width="1.60" height="1.41" fill="#000" fill-opacity="0.13"/>
<rect x="360.20" y="322.87" width="1.60" height="0.73" fill="#000" fill-opacity="0.13"/>
<rect x="362.40" y="322.32" width="1.60" height="1.28" fill="#000" fill-opacity="0.13"/>
<rect x="364.60" y="322.18" width="1.60" height="1.42" fill="#000" fill-opacity="0.13"/>
<rect x="366.80" y="322.69" width="1.60" height="0.91" fill="#000" fill-opacity="0.13"/>
<rect x="369.00" y="322.56" width="1.60" height="1.04" fill="#000" fill-opacity="0.13"/>
<rect x="371.20" y="322.70" width="1.60" height="0.90" fill="#000" fill-opacity="0.13"/>
<rect x="373.40" y="322.27" width="1.60" height="1.33" fill="#000" fill-opacity="0.13"/>
<rect x="375.60" y="322.42" width="1.60" height="1.18" fill="#000" fill-opacity="0.13"/>
<rect x="377.80" y="322.35" width="1.60" height="1.25" fill="#000" fill-opacity="0.13"/>
<rect x="380.00" y="322.61" width="1.60" height="0.99" fill="#000" fill-opacity="0.13"/>
<rect x="382.20" y="322.37" width="1.60" height="1.23" fill="#000" fill-opacity="0.13"/>
<rect x="384.40" y="322.04" width="1.60" height="1.56" fill="#000" fill-opacity="0.13"/>
<rect x="386.60" y="322.20" width="1.60" height="1.40" fill="#000" fill-opacity="0.13"/>
<rect x="388.80" y="322.04" width="1.60" height="1.56" fill="#000" fill-opacity="0.13"/>
<rect x="391.00" y="322.68" width="1.60" height="0.92" fill="#000" fill-opacity="0.13"/>
<rect x="393.20" y="322.44" width="1.60" height="1.16" fill="#000" fill-opacity="0.13"/>
<rect x="395.40" y="322.55" width="1.60" height="1.05" fill="#000" fill-opacity="0.13"/>
<rect x="397.60" y="322.59" width="1.60" height="1.01" fill="#000" fill-opacity="0.13"/>
<rect x="399.80" y="322.18" width="1.60" height="1.42" fill="#000" fill-opacity="0.13"/>
<rect x="402.00" y="322.74" width="1.60" height="0.86" fill="#000" fill-opacity="0.13"/>
<rect x="404.20" y="322.40" width="1.60" height="1.20" fill="#000" fill-opacity="0.13"/>
<rect x="406.40" y="322.20" width="1.60" height="1.40" fill="#000" fill-opacity="0.13"/>
<rect x="408.60" y="322.06" width="1.60" height="1.54" fill="#000" fill-opacity="0.13"/>
<rect x="410.80" y="322.88" width="1.60" height="0.72" fill="#000" fill-opacity="0.13"/>
<rect x="413.00" y="322.66" width="1.60" height="0.94" fill="#000" fill-opacity="0.13"/>
<rect x="415.20" y="322.46" width="1.60" height="1.14" fill="#000" fill-opacity="0.13"/>
<rect x="417.40" y="322.06" width="1.60" height="1.54" fill="#000" fill-opacity="0.13"/>
<line x1="302.05" y1="268.40" x2="424.05" y2="268.40" stroke="#3a3a3a" stroke-width="0.6" stroke-dasharray="2.85,0.95" stroke-dashoffset="2.9"/>
<path d="M302.05,211.10 L302.05,323.70 L424.05,323.70" fill="none" stroke="#6a6a6a" stroke-width="0.6"/>
<text x="363.05" y="198.25" font-size="7.6" text-anchor="middle" fill="#000">Mathematics</text>
<text x="363.05" y="207.70" font-size="7.6" text-anchor="middle" fill="#000">(0.508)</text>
<line x1="307.60" y1="323.70" x2="307.60" y2="325.80" stroke="#333333" stroke-width="0.5"/>
<text x="307.60" y="333.00" font-size="6.4" text-anchor="middle" fill="#333333">0</text>
<line x1="329.78" y1="323.70" x2="329.78" y2="325.80" stroke="#333333" stroke-width="0.5"/>
<text x="329.78" y="333.00" font-size="6.4" text-anchor="middle" fill="#333333">2</text>
<line x1="351.96" y1="323.70" x2="351.96" y2="325.80" stroke="#333333" stroke-width="0.5"/>
<text x="351.96" y="333.00" font-size="6.4" text-anchor="middle" fill="#333333">4</text>
<line x1="374.14" y1="323.70" x2="374.14" y2="325.80" stroke="#333333" stroke-width="0.5"/>
<text x="374.14" y="333.00" font-size="6.4" text-anchor="middle" fill="#333333">6</text>
<line x1="396.32" y1="323.70" x2="396.32" y2="325.80" stroke="#333333" stroke-width="0.5"/>
<text x="396.32" y="333.00" font-size="6.4" text-anchor="middle" fill="#333333">8</text>
<line x1="418.50" y1="323.70" x2="418.50" y2="325.80" stroke="#333333" stroke-width="0.5"/>
<text x="418.50" y="333.00" font-size="6.4" text-anchor="middle" fill="#333333">10</text>
<path d="M430.6,270.1 L431.4,269.8 L432.2,269.7 L432.9,269.7 L433.7,269.9 L434.5,270.0 L434.4,270.4 L434.3,271.3 L434.2,272.2 L434.4,273.1 L434.6,274.0 L434.6,274.9 L434.2,275.8 L434.7,276.7 L434.5,277.6 L434.3,278.6 L434.7,279.5 L434.7,280.4 L434.3,281.3 L434.8,282.2 L434.7,283.1 L434.3,284.0 L434.2,284.9 L434.8,285.8 L434.5,285.9 L433.7,286.7 L432.9,286.4 L432.2,286.4 L431.4,286.4 L430.6,285.9 L430.9,285.8 L430.5,284.9 L430.8,284.0 L430.9,283.1 L430.5,282.2 L430.7,281.3 L430.7,280.4 L430.8,279.5 L430.6,278.6 L430.4,277.6 L430.4,276.7 L430.6,275.8 L430.3,274.9 L430.9,274.0 L430.9,273.1 L430.4,272.2 L430.7,271.3 L430.7,270.4Z" fill="#1e88e5"/>
<circle cx="438.0" cy="280.6" r="0.9" fill="#1e88e5"/>
<circle cx="451.2" cy="263.5" r="0.9" fill="#1e88e5"/>
<circle cx="437.5" cy="273.8" r="0.9" fill="#1e88e5"/>
<circle cx="451.3" cy="266.5" r="0.9" fill="#1e88e5"/>
<circle cx="452.2" cy="260.1" r="0.9" fill="#1e88e5"/>
<circle cx="437.7" cy="274.6" r="0.9" fill="#1e88e5"/>
<circle cx="453.5" cy="259.3" r="0.9" fill="#1e88e5"/>
<circle cx="437.0" cy="280.9" r="0.9" fill="#1e88e5"/>
<circle cx="437.4" cy="279.4" r="0.9" fill="#1e88e5"/>
<circle cx="437.2" cy="273.6" r="0.9" fill="#1e88e5"/>
<circle cx="449.1" cy="275.4" r="0.9" fill="#1e88e5"/>
<circle cx="443.9" cy="271.4" r="0.9" fill="#1e88e5"/>
<circle cx="436.1" cy="275.9" r="0.9" fill="#1e88e5"/>
<circle cx="440.5" cy="279.4" r="0.9" fill="#1e88e5"/>
<circle cx="450.1" cy="273.0" r="0.9" fill="#1e88e5"/>
<circle cx="446.4" cy="274.2" r="0.9" fill="#1e88e5"/>
<circle cx="438.1" cy="274.8" r="0.9" fill="#1e88e5"/>
<circle cx="441.5" cy="270.3" r="0.9" fill="#1e88e5"/>
<circle cx="450.7" cy="262.1" r="0.9" fill="#1e88e5"/>
<circle cx="442.2" cy="269.7" r="0.9" fill="#1e88e5"/>
<circle cx="453.2" cy="268.9" r="0.9" fill="#1e88e5"/>
<circle cx="445.4" cy="269.0" r="0.9" fill="#1e88e5"/>
<circle cx="454.4" cy="274.3" r="0.9" fill="#1e88e5"/>
<circle cx="444.7" cy="273.0" r="0.9" fill="#1e88e5"/>
<circle cx="453.2" cy="261.4" r="0.9" fill="#1e88e5"/>
<circle cx="440.8" cy="267.9" r="0.9" fill="#1e88e5"/>
<circle cx="445.8" cy="276.0" r="0.9" fill="#1e88e5"/>
<circle cx="438.7" cy="275.0" r="0.9" fill="#1e88e5"/>
<circle cx="455.8" cy="264.5" r="0.9" fill="#1e88e5"/>
<circle cx="443.3" cy="278.8" r="0.9" fill="#1e88e5"/>
<circle cx="453.8" cy="263.4" r="0.9" fill="#1e88e5"/>
<circle cx="438.0" cy="278.5" r="0.9" fill="#1e88e5"/>
<circle cx="450.7" cy="275.3" r="0.9" fill="#1e88e5"/>
<circle cx="449.0" cy="264.9" r="0.9" fill="#1e88e5"/>
<circle cx="446.1" cy="266.7" r="0.9" fill="#1e88e5"/>
<circle cx="444.6" cy="271.2" r="0.9" fill="#1e88e5"/>
<circle cx="454.2" cy="273.7" r="0.9" fill="#1e88e5"/>
<circle cx="454.5" cy="265.1" r="0.9" fill="#1e88e5"/>
<circle cx="455.3" cy="257.8" r="0.9" fill="#1e88e5"/>
<circle cx="454.4" cy="268.4" r="0.9" fill="#1e88e5"/>
<circle cx="453.4" cy="264.4" r="0.9" fill="#1e88e5"/>
<circle cx="455.8" cy="255.1" r="0.9" fill="#1e88e5"/>
<circle cx="452.9" cy="272.5" r="0.9" fill="#1e88e5"/>
<circle cx="443.2" cy="278.7" r="0.9" fill="#1e88e5"/>
<circle cx="439.9" cy="279.1" r="0.9" fill="#1e88e5"/>
<circle cx="445.1" cy="269.7" r="0.9" fill="#1e88e5"/>
<circle cx="439.5" cy="280.1" r="0.9" fill="#1e88e5"/>
<circle cx="450.5" cy="259.8" r="0.9" fill="#1e88e5"/>
<circle cx="455.5" cy="259.3" r="0.9" fill="#1e88e5"/>
<circle cx="443.2" cy="271.2" r="0.9" fill="#1e88e5"/>
<circle cx="447.3" cy="277.1" r="0.9" fill="#1e88e5"/>
<circle cx="454.9" cy="268.0" r="0.9" fill="#1e88e5"/>
<circle cx="443.0" cy="265.9" r="0.9" fill="#1e88e5"/>
<circle cx="436.9" cy="277.7" r="0.9" fill="#1e88e5"/>
<circle cx="447.5" cy="268.7" r="0.9" fill="#1e88e5"/>
<circle cx="455.6" cy="263.2" r="0.9" fill="#1e88e5"/>
<circle cx="442.7" cy="271.7" r="0.9" fill="#1e88e5"/>
<circle cx="439.0" cy="282.5" r="0.9" fill="#1e88e5"/>
<circle cx="447.6" cy="270.3" r="0.9" fill="#1e88e5"/>
<circle cx="444.2" cy="267.4" r="0.9" fill="#1e88e5"/>
<circle cx="442.0" cy="273.5" r="0.9" fill="#1e88e5"/>
<circle cx="444.6" cy="280.8" r="0.9" fill="#1e88e5"/>
<circle cx="447.0" cy="264.5" r="0.9" fill="#1e88e5"/>
<circle cx="436.6" cy="273.0" r="0.9" fill="#1e88e5"/>
<circle cx="442.6" cy="278.1" r="0.9" fill="#1e88e5"/>
<circle cx="453.7" cy="260.7" r="0.9" fill="#1e88e5"/>
<circle cx="451.5" cy="265.9" r="0.9" fill="#1e88e5"/>
<circle cx="446.5" cy="271.0" r="0.9" fill="#1e88e5"/>
<circle cx="436.4" cy="271.9" r="0.9" fill="#1e88e5"/>
<circle cx="449.2" cy="271.9" r="0.9" fill="#1e88e5"/>
<circle cx="443.3" cy="280.2" r="0.9" fill="#1e88e5"/>
<circle cx="452.3" cy="262.8" r="0.9" fill="#1e88e5"/>
<circle cx="436.9" cy="278.2" r="0.9" fill="#1e88e5"/>
<circle cx="448.9" cy="263.4" r="0.9" fill="#1e88e5"/>
<circle cx="436.4" cy="277.6" r="0.9" fill="#1e88e5"/>
<circle cx="436.2" cy="281.1" r="0.9" fill="#1e88e5"/>
<circle cx="448.3" cy="264.9" r="0.9" fill="#1e88e5"/>
<circle cx="444.6" cy="266.7" r="0.9" fill="#1e88e5"/>
<circle cx="439.3" cy="270.6" r="0.9" fill="#1e88e5"/>
<circle cx="452.2" cy="265.7" r="0.9" fill="#1e88e5"/>
<circle cx="450.2" cy="264.8" r="0.9" fill="#1e88e5"/>
<circle cx="452.0" cy="268.6" r="0.9" fill="#1e88e5"/>
<circle cx="448.9" cy="266.6" r="0.9" fill="#1e88e5"/>
<circle cx="447.0" cy="264.2" r="0.9" fill="#1e88e5"/>
<circle cx="455.5" cy="268.5" r="0.9" fill="#1e88e5"/>
<circle cx="446.4" cy="273.1" r="0.9" fill="#1e88e5"/>
<circle cx="437.6" cy="274.5" r="0.9" fill="#1e88e5"/>
<circle cx="440.2" cy="280.4" r="0.9" fill="#1e88e5"/>
<circle cx="435.8" cy="277.6" r="0.9" fill="#1e88e5"/>
<circle cx="453.3" cy="271.6" r="0.9" fill="#1e88e5"/>
<circle cx="450.2" cy="263.9" r="0.9" fill="#1e88e5"/>
<circle cx="440.3" cy="278.1" r="0.9" fill="#1e88e5"/>
<circle cx="441.6" cy="277.7" r="0.9" fill="#1e88e5"/>
<circle cx="442.7" cy="277.7" r="0.9" fill="#1e88e5"/>
<circle cx="447.2" cy="275.7" r="0.9" fill="#1e88e5"/>
<circle cx="455.7" cy="262.4" r="0.9" fill="#1e88e5"/>
<circle cx="455.7" cy="254.9" r="0.9" fill="#1e88e5"/>
<circle cx="453.5" cy="256.8" r="0.9" fill="#1e88e5"/>
<circle cx="446.7" cy="268.1" r="0.9" fill="#1e88e5"/>
<circle cx="451.3" cy="263.6" r="0.9" fill="#1e88e5"/>
<circle cx="439.8" cy="279.7" r="0.9" fill="#1e88e5"/>
<circle cx="446.8" cy="275.0" r="0.9" fill="#1e88e5"/>
<circle cx="445.5" cy="262.3" r="0.9" fill="#1e88e5"/>
<circle cx="451.3" cy="261.8" r="0.9" fill="#1e88e5"/>
<circle cx="445.2" cy="261.9" r="0.9" fill="#1e88e5"/>
<circle cx="440.8" cy="277.2" r="0.9" fill="#1e88e5"/>
<circle cx="451.2" cy="269.7" r="0.9" fill="#1e88e5"/>
<circle cx="444.6" cy="276.2" r="0.9" fill="#1e88e5"/>
<circle cx="449.2" cy="262.9" r="0.9" fill="#1e88e5"/>
<circle cx="446.5" cy="272.2" r="0.9" fill="#1e88e5"/>
<circle cx="450.4" cy="261.9" r="0.9" fill="#1e88e5"/>
<circle cx="441.9" cy="271.0" r="0.9" fill="#1e88e5"/>
<circle cx="437.5" cy="274.8" r="0.9" fill="#1e88e5"/>
<circle cx="450.5" cy="269.0" r="0.9" fill="#1e88e5"/>
<circle cx="439.0" cy="279.3" r="0.9" fill="#1e88e5"/>
<circle cx="437.9" cy="280.3" r="0.9" fill="#1e88e5"/>
<circle cx="438.5" cy="270.1" r="0.9" fill="#1e88e5"/>
<circle cx="440.7" cy="274.8" r="0.9" fill="#1e88e5"/>
<circle cx="441.0" cy="280.7" r="0.9" fill="#1e88e5"/>
<circle cx="454.7" cy="261.0" r="0.9" fill="#1e88e5"/>
<circle cx="450.9" cy="271.0" r="0.9" fill="#1e88e5"/>
<circle cx="447.0" cy="265.4" r="0.9" fill="#1e88e5"/>
<circle cx="455.0" cy="274.5" r="0.9" fill="#1e88e5"/>
<circle cx="435.8" cy="276.1" r="0.9" fill="#1e88e5"/>
<circle cx="442.1" cy="268.3" r="0.9" fill="#1e88e5"/>
<circle cx="444.3" cy="279.4" r="0.9" fill="#1e88e5"/>
<circle cx="436.0" cy="282.6" r="0.9" fill="#1e88e5"/>
<circle cx="441.8" cy="265.4" r="0.9" fill="#1e88e5"/>
<circle cx="453.9" cy="261.3" r="0.9" fill="#1e88e5"/>
<circle cx="439.8" cy="269.0" r="0.9" fill="#1e88e5"/>
<path d="M450.0,260.3 L451.0,259.1 L452.0,258.6 L453.0,257.2 L454.0,256.6 L455.0,255.0 L456.0,254.6 L457.0,253.3 L458.0,251.9 L459.0,251.6 L460.0,251.0 L461.0,249.1 L462.0,248.6 L463.0,248.5 L464.0,247.3 L465.0,246.1 L466.0,245.5 L467.0,244.3 L468.0,243.2 L469.0,242.4 L470.0,242.0 L471.0,241.5 L472.0,240.3 L473.0,238.9 L474.0,238.7 L475.0,238.0 L476.0,237.0 L477.0,236.6 L478.0,236.8 L479.0,236.0 L480.0,235.1 L481.0,235.6 L482.0,235.1 L483.0,235.3 L484.0,234.7 L485.0,233.9 L486.0,233.8 L487.0,233.2 L488.0,233.4 L489.0,233.4 L490.0,230.4 L491.0,227.3 L492.0,227.2 L493.0,227.7 L494.0,227.9 L495.0,227.6 L496.0,227.3 L497.0,227.2 L498.0,227.6 L499.0,227.2 L500.0,226.8 L501.0,227.8 L502.0,226.9 L503.0,228.2 L504.0,227.4 L505.0,228.4 L506.0,227.3 L507.0,226.3 L508.0,225.1 L509.0,224.4 L510.0,223.7 L511.0,224.4 L512.0,223.2 L513.0,223.5 L514.0,222.8 L515.0,223.4 L516.0,223.2 L517.0,222.3 L518.0,222.3 L519.0,222.2 L520.0,221.9 L521.0,222.3 L522.0,221.0 L523.0,221.2 L524.0,221.2 L525.0,221.6 L526.0,221.4 L527.0,221.0 L528.0,220.3 L529.0,220.0 L530.0,220.3 L531.0,219.5 L532.0,220.0 L533.0,219.9 L534.0,218.7 L535.0,219.1 L536.0,219.4 L537.0,219.7 L538.0,220.7 L539.0,220.8 L540.0,221.1 L541.0,222.2 L542.0,223.1 L543.0,224.1 L544.0,225.0 L545.0,226.1 L546.0,227.5 L547.0,227.0 L548.0,228.2 L548.6,228.8 L548.6,253.9 L548.0,254.5 L547.0,255.5 L546.0,255.4 L545.0,256.4 L544.0,256.3 L543.0,256.4 L542.0,256.0 L541.0,255.5 L540.0,256.1 L539.0,255.6 L538.0,255.3 L537.0,254.9 L536.0,254.8 L535.0,254.4 L534.0,253.8 L533.0,254.0 L532.0,254.9 L531.0,254.6 L530.0,255.2 L529.0,254.8 L528.0,254.9 L527.0,254.7 L526.0,254.5 L525.0,254.1 L524.0,253.5 L523.0,253.6 L522.0,253.9 L521.0,253.8 L520.0,254.1 L519.0,254.7 L518.0,254.6 L517.0,254.3 L516.0,254.7 L515.0,254.6 L514.0,254.9 L513.0,254.8 L512.0,254.9 L511.0,254.9 L510.0,255.0 L509.0,255.4 L508.0,254.9 L507.0,255.8 L506.0,255.1 L505.0,256.0 L504.0,255.4 L503.0,256.1 L502.0,255.4 L501.0,255.5 L500.0,255.2 L499.0,256.3 L498.0,256.0 L497.0,255.7 L496.0,256.7 L495.0,256.1 L494.0,257.3 L493.0,256.9 L492.0,257.6 L491.0,257.3 L490.0,257.5 L489.0,257.8 L488.0,257.8 L487.0,257.9 L486.0,257.7 L485.0,257.6 L484.0,257.8 L483.0,257.2 L482.0,257.3 L481.0,258.3 L480.0,258.5 L479.0,258.6 L478.0,257.7 L477.0,258.7 L476.0,258.6 L475.0,257.9 L474.0,258.7 L473.0,259.0 L472.0,260.4 L471.0,260.1 L470.0,260.8 L469.0,261.7 L468.0,262.8 L467.0,264.3 L466.0,265.6 L465.0,266.2 L464.0,267.1 L463.0,267.6 L462.0,268.7 L461.0,269.8 L460.0,271.0 L459.0,270.6 L458.0,272.1 L457.0,272.0 L456.0,272.9 L455.0,273.9 L454.0,273.7 L453.0,273.5 L452.0,273.4 L451.0,272.7 L450.0,272.0Z" fill="#1e88e5"/>
<circle cx="461.4" cy="252.8" r="0.88" fill="#fff" fill-opacity="1.0"/>
<circle cx="463.0" cy="265.8" r="0.55" fill="#fff" fill-opacity="1.0"/>
<circle cx="484.2" cy="240.5" r="0.62" fill="#fff" fill-opacity="1.0"/>
<circle cx="477.4" cy="246.8" r="0.67" fill="#fff" fill-opacity="1.0"/>
<circle cx="461.2" cy="265.9" r="0.85" fill="#fff" fill-opacity="1.0"/>
<circle cx="457.0" cy="268.6" r="0.79" fill="#fff" fill-opacity="1.0"/>
<circle cx="469.1" cy="244.2" r="0.80" fill="#fff" fill-opacity="1.0"/>
<circle cx="455.4" cy="266.6" r="0.70" fill="#fff" fill-opacity="1.0"/>
<circle cx="484.2" cy="248.3" r="0.56" fill="#fff" fill-opacity="1.0"/>
<circle cx="473.6" cy="257.1" r="0.87" fill="#fff" fill-opacity="1.0"/>
<circle cx="478.6" cy="237.9" r="0.65" fill="#fff" fill-opacity="1.0"/>
<circle cx="473.1" cy="241.6" r="0.83" fill="#fff" fill-opacity="1.0"/>
<circle cx="459.4" cy="258.0" r="0.88" fill="#fff" fill-opacity="1.0"/>
<circle cx="486.3" cy="236.6" r="0.57" fill="#fff" fill-opacity="1.0"/>
<circle cx="467.4" cy="260.9" r="0.65" fill="#fff" fill-opacity="1.0"/>
<circle cx="454.2" cy="258.7" r="0.59" fill="#fff" fill-opacity="1.0"/>
<circle cx="463.7" cy="263.7" r="0.72" fill="#fff" fill-opacity="1.0"/>
<circle cx="461.9" cy="266.9" r="0.82" fill="#fff" fill-opacity="1.0"/>
<circle cx="458.5" cy="254.2" r="0.87" fill="#fff" fill-opacity="1.0"/>
<circle cx="458.8" cy="253.2" r="0.61" fill="#fff" fill-opacity="1.0"/>
<circle cx="464.6" cy="263.2" r="0.68" fill="#fff" fill-opacity="1.0"/>
<circle cx="469.6" cy="258.4" r="0.86" fill="#fff" fill-opacity="1.0"/>
<circle cx="467.9" cy="249.3" r="0.89" fill="#fff" fill-opacity="1.0"/>
<circle cx="471.4" cy="258.2" r="0.63" fill="#fff" fill-opacity="1.0"/>
<circle cx="457.7" cy="259.9" r="0.79" fill="#fff" fill-opacity="1.0"/>
<circle cx="469.1" cy="260.3" r="0.59" fill="#fff" fill-opacity="1.0"/>
<circle cx="464.8" cy="263.6" r="0.53" fill="#fff" fill-opacity="1.0"/>
<circle cx="477.9" cy="256.7" r="0.62" fill="#fff" fill-opacity="1.0"/>
<circle cx="460.4" cy="261.0" r="0.65" fill="#fff" fill-opacity="1.0"/>
<circle cx="461.7" cy="251.0" r="0.65" fill="#fff" fill-opacity="1.0"/>
<circle cx="480.7" cy="250.7" r="0.86" fill="#fff" fill-opacity="1.0"/>
<circle cx="475.9" cy="238.5" r="0.59" fill="#fff" fill-opacity="1.0"/>
<circle cx="462.0" cy="265.4" r="0.74" fill="#fff" fill-opacity="1.0"/>
<circle cx="468.0" cy="247.4" r="0.81" fill="#fff" fill-opacity="1.0"/>
<circle cx="464.9" cy="250.2" r="0.62" fill="#fff" fill-opacity="1.0"/>
<circle cx="482.7" cy="237.6" r="0.66" fill="#fff" fill-opacity="1.0"/>
<circle cx="484.1" cy="235.8" r="0.60" fill="#fff" fill-opacity="1.0"/>
<circle cx="481.2" cy="249.5" r="0.78" fill="#fff" fill-opacity="1.0"/>
<circle cx="462.9" cy="249.6" r="0.89" fill="#fff" fill-opacity="1.0"/>
<circle cx="454.5" cy="271.3" r="0.60" fill="#fff" fill-opacity="1.0"/>
<circle cx="468.3" cy="249.0" r="0.59" fill="#fff" fill-opacity="1.0"/>
<circle cx="475.0" cy="255.6" r="0.59" fill="#fff" fill-opacity="1.0"/>
<circle cx="483.6" cy="236.2" r="0.62" fill="#fff" fill-opacity="1.0"/>
<circle cx="471.0" cy="258.0" r="0.80" fill="#fff" fill-opacity="1.0"/>
<circle cx="484.3" cy="256.2" r="0.84" fill="#fff" fill-opacity="1.0"/>
<circle cx="453.6" cy="258.2" r="0.75" fill="#fff" fill-opacity="1.0"/>
<circle cx="480.4" cy="237.4" r="0.84" fill="#fff" fill-opacity="1.0"/>
<circle cx="477.1" cy="239.6" r="0.82" fill="#fff" fill-opacity="1.0"/>
<circle cx="467.3" cy="247.3" r="0.64" fill="#fff" fill-opacity="1.0"/>
<circle cx="457.7" cy="254.9" r="0.57" fill="#fff" fill-opacity="1.0"/>
<circle cx="466.5" cy="262.0" r="0.68" fill="#fff" fill-opacity="1.0"/>
<circle cx="481.0" cy="237.3" r="0.88" fill="#fff" fill-opacity="1.0"/>
<circle cx="483.3" cy="251.6" r="0.73" fill="#fff" fill-opacity="1.0"/>
<circle cx="480.6" cy="256.5" r="0.62" fill="#fff" fill-opacity="1.0"/>
<circle cx="456.4" cy="260.3" r="0.68" fill="#fff" fill-opacity="1.0"/>
<circle cx="471.8" cy="243.3" r="0.82" fill="#fff" fill-opacity="1.0"/>
<circle cx="480.9" cy="243.0" r="0.58" fill="#fff" fill-opacity="1.0"/>
<circle cx="479.7" cy="256.0" r="0.65" fill="#fff" fill-opacity="1.0"/>
<circle cx="458.4" cy="261.1" r="0.83" fill="#fff" fill-opacity="1.0"/>
<circle cx="464.9" cy="249.1" r="0.80" fill="#fff" fill-opacity="1.0"/>
<circle cx="483.9" cy="254.6" r="0.68" fill="#fff" fill-opacity="1.0"/>
<circle cx="483.2" cy="247.3" r="0.66" fill="#fff" fill-opacity="1.0"/>
<circle cx="462.6" cy="263.5" r="0.64" fill="#fff" fill-opacity="1.0"/>
<circle cx="456.0" cy="257.9" r="0.54" fill="#fff" fill-opacity="1.0"/>
<circle cx="481.3" cy="255.3" r="0.73" fill="#fff" fill-opacity="1.0"/>
<circle cx="514.2" cy="253.5" r="0.87" fill="#fff" fill-opacity="1.0"/>
<circle cx="496.8" cy="230.0" r="0.77" fill="#fff" fill-opacity="1.0"/>
<circle cx="536.7" cy="251.1" r="0.54" fill="#fff" fill-opacity="1.0"/>
<circle cx="491.6" cy="230.9" r="0.58" fill="#fff" fill-opacity="1.0"/>
<circle cx="521.1" cy="227.6" r="0.72" fill="#fff" fill-opacity="1.0"/>
<circle cx="542.0" cy="236.5" r="0.70" fill="#fff" fill-opacity="1.0"/>
<circle cx="506.7" cy="248.4" r="0.78" fill="#fff" fill-opacity="1.0"/>
<circle cx="508.2" cy="239.9" r="0.82" fill="#fff" fill-opacity="1.0"/>
<circle cx="511.6" cy="244.5" r="0.69" fill="#fff" fill-opacity="1.0"/>
<circle cx="522.9" cy="238.7" r="0.89" fill="#fff" fill-opacity="1.0"/>
<circle cx="491.4" cy="248.3" r="0.71" fill="#fff" fill-opacity="1.0"/>
<circle cx="539.1" cy="222.7" r="0.79" fill="#fff" fill-opacity="1.0"/>
<circle cx="537.6" cy="251.3" r="0.77" fill="#fff" fill-opacity="1.0"/>
<circle cx="493.6" cy="228.8" r="0.74" fill="#fff" fill-opacity="1.0"/>
<circle cx="509.2" cy="227.1" r="0.55" fill="#fff" fill-opacity="1.0"/>
<circle cx="542.4" cy="241.7" r="0.69" fill="#fff" fill-opacity="1.0"/>
<circle cx="508.5" cy="252.8" r="0.89" fill="#fff" fill-opacity="1.0"/>
<circle cx="545.1" cy="250.5" r="0.55" fill="#fff" fill-opacity="1.0"/>
<circle cx="498.0" cy="228.6" r="0.68" fill="#fff" fill-opacity="1.0"/>
<circle cx="546.8" cy="253.1" r="0.61" fill="#fff" fill-opacity="1.0"/>
<circle cx="503.6" cy="229.6" r="0.55" fill="#fff" fill-opacity="1.0"/>
<circle cx="520.9" cy="224.6" r="0.74" fill="#fff" fill-opacity="1.0"/>
<circle cx="524.8" cy="224.2" r="0.78" fill="#fff" fill-opacity="1.0"/>
<circle cx="531.4" cy="252.3" r="0.63" fill="#fff" fill-opacity="1.0"/>
<circle cx="493.3" cy="254.2" r="0.59" fill="#fff" fill-opacity="1.0"/>
<circle cx="539.7" cy="249.8" r="0.83" fill="#fff" fill-opacity="1.0"/>
<circle cx="518.6" cy="224.1" r="0.80" fill="#fff" fill-opacity="1.0"/>
<circle cx="546.7" cy="228.6" r="0.66" fill="#fff" fill-opacity="1.0"/>
<circle cx="510.8" cy="253.1" r="0.84" fill="#fff" fill-opacity="1.0"/>
<circle cx="510.1" cy="234.6" r="0.64" fill="#fff" fill-opacity="1.0"/>
<circle cx="501.0" cy="243.9" r="0.83" fill="#fff" fill-opacity="1.0"/>
<circle cx="494.6" cy="253.6" r="0.89" fill="#fff" fill-opacity="1.0"/>
<circle cx="544.0" cy="227.3" r="0.90" fill="#fff" fill-opacity="1.0"/>
<circle cx="521.3" cy="230.5" r="0.53" fill="#fff" fill-opacity="1.0"/>
<circle cx="544.6" cy="228.3" r="0.66" fill="#fff" fill-opacity="1.0"/>
<circle cx="523.7" cy="251.3" r="0.85" fill="#fff" fill-opacity="1.0"/>
<circle cx="505.5" cy="229.2" r="0.68" fill="#fff" fill-opacity="1.0"/>
<circle cx="544.4" cy="227.7" r="0.74" fill="#fff" fill-opacity="1.0"/>
<circle cx="504.4" cy="245.7" r="0.56" fill="#fff" fill-opacity="1.0"/>
<circle cx="543.1" cy="227.2" r="0.66" fill="#fff" fill-opacity="1.0"/>
<circle cx="499.1" cy="230.8" r="0.82" fill="#fff" fill-opacity="1.0"/>
<circle cx="517.0" cy="252.5" r="0.87" fill="#fff" fill-opacity="1.0"/>
<circle cx="521.1" cy="224.2" r="0.89" fill="#fff" fill-opacity="1.0"/>
<circle cx="532.3" cy="251.2" r="0.68" fill="#fff" fill-opacity="1.0"/>
<circle cx="522.6" cy="228.7" r="0.85" fill="#fff" fill-opacity="1.0"/>
<circle cx="492.4" cy="254.4" r="0.58" fill="#fff" fill-opacity="1.0"/>
<circle cx="543.2" cy="254.6" r="0.68" fill="#fff" fill-opacity="1.0"/>
<circle cx="524.5" cy="252.9" r="0.56" fill="#fff" fill-opacity="1.0"/>
<circle cx="531.4" cy="221.7" r="0.83" fill="#fff" fill-opacity="1.0"/>
<circle cx="539.8" cy="227.8" r="0.53" fill="#fff" fill-opacity="1.0"/>
<circle cx="533.7" cy="252.2" r="0.53" fill="#fff" fill-opacity="1.0"/>
<circle cx="515.4" cy="225.6" r="0.89" fill="#fff" fill-opacity="1.0"/>
<circle cx="502.8" cy="230.5" r="0.57" fill="#fff" fill-opacity="1.0"/>
<circle cx="503.6" cy="252.1" r="0.65" fill="#fff" fill-opacity="1.0"/>
<circle cx="508.9" cy="253.2" r="0.68" fill="#fff" fill-opacity="1.0"/>
<circle cx="530.6" cy="223.2" r="0.59" fill="#fff" fill-opacity="1.0"/>
<circle cx="496.7" cy="254.0" r="0.87" fill="#fff" fill-opacity="1.0"/>
<circle cx="497.0" cy="246.2" r="0.66" fill="#fff" fill-opacity="1.0"/>
<circle cx="498.3" cy="253.0" r="0.70" fill="#fff" fill-opacity="1.0"/>
<circle cx="517.7" cy="251.8" r="0.68" fill="#fff" fill-opacity="1.0"/>
<circle cx="501.5" cy="253.2" r="0.86" fill="#fff" fill-opacity="1.0"/>
<circle cx="547.3" cy="253.0" r="0.61" fill="#fff" fill-opacity="1.0"/>
<circle cx="526.7" cy="229.7" r="0.78" fill="#fff" fill-opacity="1.0"/>
<circle cx="547.6" cy="251.3" r="0.69" fill="#fff" fill-opacity="1.0"/>
<circle cx="527.9" cy="228.2" r="0.65" fill="#fff" fill-opacity="1.0"/>
<circle cx="546.7" cy="229.3" r="0.70" fill="#fff" fill-opacity="1.0"/>
<circle cx="533.2" cy="250.9" r="0.78" fill="#fff" fill-opacity="1.0"/>
<circle cx="491.1" cy="229.2" r="0.69" fill="#fff" fill-opacity="1.0"/>
<circle cx="492.5" cy="254.3" r="0.60" fill="#fff" fill-opacity="1.0"/>
<circle cx="539.5" cy="252.0" r="0.66" fill="#fff" fill-opacity="1.0"/>
<circle cx="526.1" cy="252.4" r="0.82" fill="#fff" fill-opacity="1.0"/>
<circle cx="491.2" cy="229.9" r="0.86" fill="#fff" fill-opacity="1.0"/>
<circle cx="519.3" cy="224.0" r="0.75" fill="#fff" fill-opacity="1.0"/>
<circle cx="536.8" cy="222.8" r="0.67" fill="#fff" fill-opacity="1.0"/>
<circle cx="520.7" cy="251.8" r="0.90" fill="#fff" fill-opacity="1.0"/>
<circle cx="539.8" cy="256.2" r="0.85" fill="#1e88e5"/>
<circle cx="518.6" cy="222.7" r="0.85" fill="#1e88e5"/>
<circle cx="531.3" cy="255.0" r="0.85" fill="#1e88e5"/>
<circle cx="481.2" cy="234.5" r="0.85" fill="#1e88e5"/>
<circle cx="502.4" cy="227.6" r="0.85" fill="#1e88e5"/>
<circle cx="484.7" cy="233.3" r="0.85" fill="#1e88e5"/>
<circle cx="538.2" cy="254.6" r="0.85" fill="#1e88e5"/>
<circle cx="491.3" cy="227.3" r="0.85" fill="#1e88e5"/>
<circle cx="529.2" cy="255.4" r="0.85" fill="#1e88e5"/>
<circle cx="462.7" cy="248.8" r="0.85" fill="#1e88e5"/>
<circle cx="532.4" cy="254.7" r="0.85" fill="#1e88e5"/>
<circle cx="473.7" cy="258.5" r="0.85" fill="#1e88e5"/>
<circle cx="482.4" cy="234.0" r="0.85" fill="#1e88e5"/>
<circle cx="491.1" cy="257.9" r="0.85" fill="#1e88e5"/>
<circle cx="507.1" cy="255.8" r="0.85" fill="#1e88e5"/>
<circle cx="540.6" cy="255.4" r="0.85" fill="#1e88e5"/>
<circle cx="523.5" cy="221.5" r="0.85" fill="#1e88e5"/>
<circle cx="484.0" cy="257.0" r="0.85" fill="#1e88e5"/>
<circle cx="493.0" cy="226.6" r="0.85" fill="#1e88e5"/>
<circle cx="498.9" cy="256.2" r="0.85" fill="#1e88e5"/>
<circle cx="525.1" cy="221.1" r="0.85" fill="#1e88e5"/>
<circle cx="522.9" cy="254.8" r="0.85" fill="#1e88e5"/>
<circle cx="480.9" cy="258.5" r="0.85" fill="#1e88e5"/>
<circle cx="506.4" cy="226.6" r="0.85" fill="#1e88e5"/>
<circle cx="458.4" cy="252.1" r="0.85" fill="#1e88e5"/>
<circle cx="462.9" cy="247.7" r="0.85" fill="#1e88e5"/>
<circle cx="521.7" cy="253.8" r="0.85" fill="#1e88e5"/>
<circle cx="520.7" cy="254.4" r="0.85" fill="#1e88e5"/>
<circle cx="473.0" cy="259.4" r="0.85" fill="#1e88e5"/>
<circle cx="477.0" cy="236.0" r="0.85" fill="#1e88e5"/>
<circle cx="512.1" cy="254.4" r="0.85" fill="#1e88e5"/>
<circle cx="476.5" cy="257.6" r="0.85" fill="#1e88e5"/>
<circle cx="480.2" cy="258.2" r="0.85" fill="#1e88e5"/>
<circle cx="538.9" cy="255.8" r="0.85" fill="#1e88e5"/>
<circle cx="507.5" cy="255.1" r="0.85" fill="#1e88e5"/>
<circle cx="451.1" cy="273.6" r="0.85" fill="#1e88e5"/>
<circle cx="463.2" cy="248.2" r="0.85" fill="#1e88e5"/>
<circle cx="514.6" cy="223.7" r="0.85" fill="#1e88e5"/>
<circle cx="498.7" cy="227.3" r="0.85" fill="#1e88e5"/>
<circle cx="487.9" cy="234.2" r="0.85" fill="#1e88e5"/>
<circle cx="476.1" cy="237.2" r="0.85" fill="#1e88e5"/>
<circle cx="491.0" cy="228.0" r="0.85" fill="#1e88e5"/>
<circle cx="452.9" cy="274.0" r="0.85" fill="#1e88e5"/>
<circle cx="498.6" cy="227.4" r="0.85" fill="#1e88e5"/>
<circle cx="538.0" cy="220.5" r="0.85" fill="#1e88e5"/>
<circle cx="530.2" cy="254.5" r="0.85" fill="#1e88e5"/>
<circle cx="499.4" cy="255.5" r="0.85" fill="#1e88e5"/>
<circle cx="481.8" cy="258.3" r="0.85" fill="#1e88e5"/>
<circle cx="511.7" cy="254.6" r="0.85" fill="#1e88e5"/>
<circle cx="457.6" cy="252.1" r="0.85" fill="#1e88e5"/>
<circle cx="534.5" cy="253.7" r="0.85" fill="#1e88e5"/>
<circle cx="525.3" cy="221.1" r="0.85" fill="#1e88e5"/>
<circle cx="470.3" cy="261.6" r="0.85" fill="#1e88e5"/>
<circle cx="531.4" cy="219.0" r="0.85" fill="#1e88e5"/>
<circle cx="476.1" cy="258.5" r="0.85" fill="#1e88e5"/>
<circle cx="473.6" cy="239.2" r="0.85" fill="#1e88e5"/>
<circle cx="528.0" cy="221.0" r="0.85" fill="#1e88e5"/>
<circle cx="477.8" cy="258.5" r="0.85" fill="#1e88e5"/>
<circle cx="501.7" cy="256.3" r="0.85" fill="#1e88e5"/>
<circle cx="471.3" cy="260.1" r="0.85" fill="#1e88e5"/>
<circle cx="474.4" cy="238.6" r="0.85" fill="#1e88e5"/>
<circle cx="484.8" cy="257.8" r="0.85" fill="#1e88e5"/>
<circle cx="459.5" cy="250.7" r="0.85" fill="#1e88e5"/>
<circle cx="502.2" cy="227.9" r="0.85" fill="#1e88e5"/>
<circle cx="505.7" cy="255.1" r="0.85" fill="#1e88e5"/>
<circle cx="525.7" cy="220.7" r="0.85" fill="#1e88e5"/>
<circle cx="502.2" cy="226.6" r="0.85" fill="#1e88e5"/>
<circle cx="489.2" cy="233.1" r="0.85" fill="#1e88e5"/>
<circle cx="532.1" cy="255.1" r="0.85" fill="#1e88e5"/>
<circle cx="503.0" cy="256.2" r="0.85" fill="#1e88e5"/>
<circle cx="543.7" cy="256.9" r="0.85" fill="#1e88e5"/>
<circle cx="471.9" cy="260.1" r="0.85" fill="#1e88e5"/>
<circle cx="473.3" cy="258.9" r="0.85" fill="#1e88e5"/>
<circle cx="519.6" cy="222.0" r="0.85" fill="#1e88e5"/>
<circle cx="519.3" cy="255.1" r="0.85" fill="#1e88e5"/>
<circle cx="547.5" cy="254.7" r="0.85" fill="#1e88e5"/>
<circle cx="515.6" cy="222.0" r="0.85" fill="#1e88e5"/>
<circle cx="494.2" cy="227.8" r="0.85" fill="#1e88e5"/>
<circle cx="496.4" cy="256.2" r="0.85" fill="#1e88e5"/>
<circle cx="461.2" cy="250.1" r="0.85" fill="#1e88e5"/>
<circle cx="467.6" cy="244.3" r="0.85" fill="#1e88e5"/>
<circle cx="499.3" cy="255.9" r="0.85" fill="#1e88e5"/>
<circle cx="463.9" cy="247.1" r="0.85" fill="#1e88e5"/>
<circle cx="544.7" cy="226.0" r="0.85" fill="#1e88e5"/>
<circle cx="481.9" cy="258.0" r="0.85" fill="#1e88e5"/>
<circle cx="527.9" cy="221.0" r="0.85" fill="#1e88e5"/>
<circle cx="470.9" cy="241.2" r="0.85" fill="#1e88e5"/>
<circle cx="488.2" cy="257.5" r="0.85" fill="#1e88e5"/>
<circle cx="506.6" cy="255.7" r="0.85" fill="#1e88e5"/>
<circle cx="508.4" cy="254.8" r="0.85" fill="#1e88e5"/>
<circle cx="454.5" cy="273.6" r="0.85" fill="#1e88e5"/>
<circle cx="507.2" cy="225.7" r="0.85" fill="#1e88e5"/>
<circle cx="487.1" cy="257.2" r="0.85" fill="#1e88e5"/>
<circle cx="539.7" cy="221.1" r="0.85" fill="#1e88e5"/>
<circle cx="537.3" cy="220.1" r="0.85" fill="#1e88e5"/>
<circle cx="498.0" cy="255.7" r="0.85" fill="#1e88e5"/>
<circle cx="471.3" cy="259.9" r="0.85" fill="#1e88e5"/>
<circle cx="491.0" cy="257.8" r="0.85" fill="#1e88e5"/>
<circle cx="527.6" cy="219.9" r="0.85" fill="#1e88e5"/>
<circle cx="485.5" cy="257.5" r="0.85" fill="#1e88e5"/>
<circle cx="537.1" cy="220.0" r="0.85" fill="#1e88e5"/>
<circle cx="465.6" cy="246.5" r="0.85" fill="#1e88e5"/>
<circle cx="466.8" cy="264.5" r="0.85" fill="#1e88e5"/>
<circle cx="534.4" cy="218.9" r="0.85" fill="#1e88e5"/>
<circle cx="496.3" cy="227.3" r="0.85" fill="#1e88e5"/>
<circle cx="540.0" cy="256.0" r="0.85" fill="#1e88e5"/>
<circle cx="509.9" cy="255.4" r="0.85" fill="#1e88e5"/>
<circle cx="508.4" cy="224.6" r="0.85" fill="#1e88e5"/>
<circle cx="466.9" cy="245.2" r="0.85" fill="#1e88e5"/>
<circle cx="500.5" cy="255.9" r="0.85" fill="#1e88e5"/>
<circle cx="496.4" cy="226.6" r="0.85" fill="#1e88e5"/>
<circle cx="502.9" cy="226.9" r="0.85" fill="#1e88e5"/>
<circle cx="541.7" cy="257.0" r="0.85" fill="#1e88e5"/>
<circle cx="457.7" cy="252.6" r="0.85" fill="#1e88e5"/>
<circle cx="475.8" cy="258.9" r="0.85" fill="#1e88e5"/>
<circle cx="464.4" cy="267.4" r="0.85" fill="#1e88e5"/>
<circle cx="536.9" cy="220.1" r="0.85" fill="#1e88e5"/>
<circle cx="495.1" cy="257.2" r="0.85" fill="#1e88e5"/>
<circle cx="469.0" cy="242.0" r="0.85" fill="#1e88e5"/>
<circle cx="452.1" cy="273.0" r="0.85" fill="#1e88e5"/>
<line x1="488.6" y1="236" x2="488.6" y2="256" stroke="#fff" stroke-width="0.7" stroke-opacity="0.8"/>
<circle cx="539.4" cy="216.0" r="0.9" fill="#1e88e5"/>
<circle cx="543.5" cy="218.2" r="0.9" fill="#1e88e5"/>
<circle cx="536.0" cy="217.0" r="0.9" fill="#1e88e5"/>
<line x1="430.80" y1="268.40" x2="552.80" y2="268.40" stroke="#3a3a3a" stroke-width="0.6" stroke-dasharray="2.85,0.95" stroke-dashoffset="2.9"/>
<path d="M430.80,211.10 L430.80,323.70 L552.80,323.70" fill="none" stroke="#6a6a6a" stroke-width="0.6"/>
<text x="491.80" y="198.25" font-size="7.6" text-anchor="middle" fill="#000">Physics</text>
<text x="491.80" y="207.70" font-size="7.6" text-anchor="middle" fill="#000">(0.352)</text>
<line x1="436.35" y1="323.70" x2="436.35" y2="325.80" stroke="#333333" stroke-width="0.5"/>
<text x="436.35" y="333.00" font-size="6.4" text-anchor="middle" fill="#333333">0</text>
<line x1="458.53" y1="323.70" x2="458.53" y2="325.80" stroke="#333333" stroke-width="0.5"/>
<text x="458.53" y="333.00" font-size="6.4" text-anchor="middle" fill="#333333">2</text>
<line x1="480.71" y1="323.70" x2="480.71" y2="325.80" stroke="#333333" stroke-width="0.5"/>
<text x="480.71" y="333.00" font-size="6.4" text-anchor="middle" fill="#333333">4</text>
<line x1="502.89" y1="323.70" x2="502.89" y2="325.80" stroke="#333333" stroke-width="0.5"/>
<text x="502.89" y="333.00" font-size="6.4" text-anchor="middle" fill="#333333">6</text>
<line x1="525.07" y1="323.70" x2="525.07" y2="325.80" stroke="#333333" stroke-width="0.5"/>
<text x="525.07" y="333.00" font-size="6.4" text-anchor="middle" fill="#333333">8</text>
<line x1="547.25" y1="323.70" x2="547.25" y2="325.80" stroke="#333333" stroke-width="0.5"/>
<text x="547.25" y="333.00" font-size="6.4" text-anchor="middle" fill="#333333">10</text>
<path d="M559.8,252.4 L560.5,251.8 L561.2,252.0 L562.0,251.7 L562.7,252.0 L563.4,252.2 L563.1,252.5 L563.1,253.5 L563.1,254.4 L563.3,255.3 L563.7,256.2 L563.3,257.2 L563.6,258.1 L563.1,259.0 L563.4,260.0 L563.4,260.9 L563.1,261.8 L563.5,262.7 L563.4,263.7 L563.3,264.6 L563.6,265.5 L563.5,266.5 L563.1,267.4 L563.1,268.3 L563.1,269.2 L563.2,270.2 L563.4,270.3 L562.7,270.7 L562.0,270.7 L561.2,270.8 L560.5,271.1 L559.8,270.3 L560.0,270.2 L559.8,269.2 L560.1,268.3 L559.9,267.4 L559.5,266.5 L559.6,265.5 L559.5,264.6 L559.9,263.7 L559.9,262.7 L560.1,261.8 L559.5,260.9 L559.5,260.0 L560.1,259.0 L559.6,258.1 L559.6,257.2 L560.1,256.2 L559.5,255.3 L560.0,254.4 L560.1,253.5 L559.8,252.5Z" fill="#1e88e5"/>
<path d="M564.0,257.1 L565.0,257.2 L566.0,257.4 L567.0,256.6 L568.0,257.3 L569.0,256.6 L570.0,257.5 L571.0,256.9 L572.0,257.2 L573.0,257.2 L574.0,256.9 L575.0,257.2 L576.0,257.8 L577.0,258.2 L578.0,258.6 L579.0,258.5 L580.0,259.4 L581.0,260.4 L582.0,260.5 L583.0,260.4 L584.0,261.2 L585.0,261.8 L586.0,261.6 L587.0,262.4 L588.0,262.8 L589.0,262.0 L590.0,262.2 L591.0,263.3 L592.0,263.2 L593.0,263.2 L594.0,264.2 L595.0,264.2 L596.0,263.9 L597.0,263.7 L598.0,264.5 L599.0,264.6 L600.0,264.6 L601.0,264.5 L602.0,265.4 L603.0,264.5 L604.0,264.9 L605.0,265.4 L606.0,266.2 L607.0,265.5 L608.0,266.5 L609.0,266.7 L610.0,266.2 L611.0,267.4 L612.0,266.7 L613.0,268.0 L614.0,267.4 L615.0,268.5 L616.0,268.5 L617.0,268.2 L618.0,269.5 L619.0,269.0 L620.0,270.0 L621.0,269.5 L622.0,270.7 L623.0,270.9 L624.0,270.7 L625.0,270.6 L626.0,271.0 L627.0,271.4 L628.0,271.9 L629.0,271.1 L630.0,271.9 L631.0,271.8 L632.0,272.1 L633.0,272.5 L634.0,272.4 L635.0,271.8 L636.0,272.2 L637.0,271.6 L638.0,272.0 L639.0,271.3 L640.0,271.8 L641.0,271.1 L642.0,270.9 L643.0,270.7 L644.0,270.7 L645.0,270.8 L646.0,270.5 L647.0,270.0 L648.0,269.8 L649.0,265.6 L650.0,264.3 L651.0,264.1 L652.0,263.8 L653.0,262.9 L654.0,261.9 L655.0,261.4 L656.0,261.6 L657.0,259.9 L658.0,259.2 L659.0,258.8 L660.0,258.1 L661.0,257.9 L662.0,257.4 L663.0,256.5 L664.0,256.3 L665.0,256.6 L666.0,255.9 L667.0,256.2 L668.0,255.4 L669.0,255.4 L670.0,254.9 L671.0,255.6 L672.0,256.1 L673.0,256.3 L674.0,255.9 L675.0,255.9 L676.0,256.3 L676.9,256.8 L676.9,284.3 L676.0,285.2 L675.0,284.3 L674.0,284.5 L673.0,284.9 L672.0,285.8 L671.0,285.3 L670.0,285.4 L669.0,285.7 L668.0,285.9 L667.0,285.2 L666.0,285.8 L665.0,285.9 L664.0,285.2 L663.0,285.6 L662.0,286.1 L661.0,285.8 L660.0,285.4 L659.0,286.0 L658.0,286.4 L657.0,286.6 L656.0,286.5 L655.0,287.1 L654.0,286.7 L653.0,287.2 L652.0,287.5 L651.0,287.9 L650.0,288.6 L649.0,288.7 L648.0,289.1 L647.0,290.2 L646.0,290.6 L645.0,290.5 L644.0,291.9 L643.0,291.4 L642.0,292.7 L641.0,293.4 L640.0,292.8 L639.0,293.3 L638.0,293.1 L637.0,293.3 L636.0,293.4 L635.0,293.7 L634.0,293.3 L633.0,293.1 L632.0,292.5 L631.0,292.2 L630.0,293.0 L629.0,292.6 L628.0,292.1 L627.0,291.7 L626.0,290.6 L625.0,290.4 L624.0,289.9 L623.0,289.3 L622.0,289.4 L621.0,288.8 L620.0,287.6 L619.0,288.1 L618.0,287.0 L617.0,286.7 L616.0,286.6 L615.0,286.1 L614.0,285.6 L613.0,285.1 L612.0,284.2 L611.0,284.5 L610.0,283.9 L609.0,283.5 L608.0,283.1 L607.0,281.9 L606.0,282.2 L605.0,281.4 L604.0,280.9 L603.0,279.9 L602.0,279.4 L601.0,278.7 L600.0,278.1 L599.0,278.2 L598.0,277.8 L597.0,277.1 L596.0,276.3 L595.0,275.7 L594.0,276.0 L593.0,275.3 L592.0,275.3 L591.0,274.5 L590.0,274.7 L589.0,274.1 L588.0,273.2 L587.0,273.6 L586.0,272.5 L585.0,272.4 L584.0,271.7 L583.0,271.6 L582.0,270.9 L581.0,270.8 L580.0,270.5 L579.0,270.2 L578.0,270.2 L577.0,269.5 L576.0,269.1 L575.0,269.8 L574.0,269.0 L573.0,269.3 L572.0,268.5 L571.0,269.2 L570.0,268.6 L569.0,268.1 L568.0,267.8 L567.0,267.8 L566.0,268.0 L565.0,268.0 L564.0,267.2Z" fill="#1e88e5"/>
<circle cx="574.4" cy="258.8" r="0.79" fill="#fff" fill-opacity="1.0"/>
<circle cx="594.1" cy="267.4" r="0.72" fill="#fff" fill-opacity="1.0"/>
<circle cx="578.2" cy="267.3" r="0.67" fill="#fff" fill-opacity="1.0"/>
<circle cx="594.5" cy="268.3" r="0.49" fill="#fff" fill-opacity="1.0"/>
<circle cx="591.5" cy="272.0" r="0.52" fill="#fff" fill-opacity="1.0"/>
<circle cx="567.6" cy="261.5" r="0.66" fill="#fff" fill-opacity="1.0"/>
<circle cx="598.1" cy="267.2" r="0.51" fill="#fff" fill-opacity="1.0"/>
<circle cx="584.1" cy="263.7" r="0.76" fill="#fff" fill-opacity="1.0"/>
<circle cx="597.9" cy="273.9" r="0.82" fill="#fff" fill-opacity="1.0"/>
<circle cx="589.4" cy="270.8" r="0.77" fill="#fff" fill-opacity="1.0"/>
<circle cx="586.4" cy="271.3" r="0.61" fill="#fff" fill-opacity="1.0"/>
<circle cx="576.1" cy="266.2" r="0.59" fill="#fff" fill-opacity="1.0"/>
<circle cx="598.8" cy="265.8" r="0.60" fill="#fff" fill-opacity="1.0"/>
<circle cx="567.6" cy="261.4" r="0.63" fill="#fff" fill-opacity="1.0"/>
<circle cx="594.1" cy="273.1" r="0.64" fill="#fff" fill-opacity="1.0"/>
<circle cx="580.6" cy="263.4" r="0.67" fill="#fff" fill-opacity="1.0"/>
<circle cx="581.3" cy="261.6" r="0.67" fill="#fff" fill-opacity="1.0"/>
<circle cx="592.2" cy="273.8" r="0.82" fill="#fff" fill-opacity="1.0"/>
<circle cx="569.7" cy="258.7" r="0.72" fill="#fff" fill-opacity="1.0"/>
<circle cx="570.0" cy="259.4" r="0.75" fill="#fff" fill-opacity="1.0"/>
<circle cx="619.7" cy="285.9" r="0.67" fill="#fff" fill-opacity="1.0"/>
<circle cx="613.1" cy="271.6" r="0.54" fill="#fff" fill-opacity="1.0"/>
<circle cx="624.6" cy="287.6" r="0.50" fill="#fff" fill-opacity="1.0"/>
<circle cx="630.1" cy="289.0" r="0.60" fill="#fff" fill-opacity="1.0"/>
<circle cx="619.6" cy="272.2" r="0.59" fill="#fff" fill-opacity="1.0"/>
<circle cx="629.8" cy="289.5" r="0.59" fill="#fff" fill-opacity="1.0"/>
<circle cx="620.6" cy="285.5" r="0.72" fill="#fff" fill-opacity="1.0"/>
<circle cx="619.5" cy="271.1" r="0.54" fill="#fff" fill-opacity="1.0"/>
<circle cx="608.9" cy="269.3" r="0.61" fill="#fff" fill-opacity="1.0"/>
<circle cx="640.0" cy="273.4" r="0.55" fill="#fff" fill-opacity="1.0"/>
<circle cx="607.2" cy="279.9" r="0.58" fill="#fff" fill-opacity="1.0"/>
<circle cx="635.8" cy="291.2" r="0.70" fill="#fff" fill-opacity="1.0"/>
<circle cx="629.2" cy="290.8" r="0.62" fill="#fff" fill-opacity="1.0"/>
<circle cx="641.7" cy="289.7" r="0.52" fill="#fff" fill-opacity="1.0"/>
<circle cx="634.3" cy="280.3" r="0.62" fill="#fff" fill-opacity="1.0"/>
<circle cx="623.1" cy="272.1" r="0.54" fill="#fff" fill-opacity="1.0"/>
<circle cx="630.5" cy="289.0" r="0.83" fill="#fff" fill-opacity="1.0"/>
<circle cx="638.6" cy="289.0" r="0.50" fill="#fff" fill-opacity="1.0"/>
<circle cx="606.6" cy="279.3" r="0.71" fill="#fff" fill-opacity="1.0"/>
<circle cx="627.6" cy="289.4" r="0.54" fill="#fff" fill-opacity="1.0"/>
<circle cx="624.6" cy="272.2" r="0.79" fill="#fff" fill-opacity="1.0"/>
<circle cx="625.7" cy="277.3" r="0.69" fill="#fff" fill-opacity="1.0"/>
<circle cx="612.9" cy="271.9" r="0.72" fill="#fff" fill-opacity="1.0"/>
<circle cx="624.9" cy="272.2" r="0.66" fill="#fff" fill-opacity="1.0"/>
<circle cx="623.5" cy="275.2" r="0.55" fill="#fff" fill-opacity="1.0"/>
<circle cx="614.1" cy="272.5" r="0.71" fill="#fff" fill-opacity="1.0"/>
<circle cx="602.4" cy="268.0" r="0.66" fill="#fff" fill-opacity="1.0"/>
<circle cx="605.8" cy="278.3" r="0.63" fill="#fff" fill-opacity="1.0"/>
<circle cx="625.0" cy="288.3" r="0.51" fill="#fff" fill-opacity="1.0"/>
<circle cx="639.0" cy="291.3" r="0.59" fill="#fff" fill-opacity="1.0"/>
<circle cx="651.6" cy="283.0" r="0.62" fill="#fff" fill-opacity="1.0"/>
<circle cx="664.0" cy="284.0" r="0.50" fill="#fff" fill-opacity="1.0"/>
<circle cx="668.0" cy="258.2" r="0.50" fill="#fff" fill-opacity="1.0"/>
<circle cx="646.7" cy="272.9" r="0.70" fill="#fff" fill-opacity="1.0"/>
<circle cx="675.6" cy="282.2" r="0.49" fill="#fff" fill-opacity="1.0"/>
<circle cx="674.6" cy="281.5" r="0.50" fill="#fff" fill-opacity="1.0"/>
<circle cx="671.0" cy="283.8" r="0.63" fill="#fff" fill-opacity="1.0"/>
<circle cx="648.2" cy="287.7" r="0.74" fill="#fff" fill-opacity="1.0"/>
<circle cx="651.2" cy="285.1" r="0.74" fill="#fff" fill-opacity="1.0"/>
<circle cx="674.4" cy="258.9" r="0.63" fill="#fff" fill-opacity="1.0"/>
<circle cx="672.7" cy="277.6" r="0.70" fill="#fff" fill-opacity="1.0"/>
<circle cx="653.8" cy="285.0" r="0.82" fill="#fff" fill-opacity="1.0"/>
<circle cx="656.1" cy="277.8" r="0.78" fill="#fff" fill-opacity="1.0"/>
<circle cx="670.0" cy="283.5" r="0.77" fill="#fff" fill-opacity="1.0"/>
<circle cx="665.6" cy="282.3" r="0.50" fill="#fff" fill-opacity="1.0"/>
<circle cx="646.4" cy="288.9" r="0.78" fill="#fff" fill-opacity="1.0"/>
<circle cx="648.6" cy="272.7" r="0.54" fill="#fff" fill-opacity="1.0"/>
<circle cx="668.5" cy="283.5" r="0.70" fill="#fff" fill-opacity="1.0"/>
<circle cx="662.5" cy="271.5" r="0.68" fill="#fff" fill-opacity="1.0"/>
<circle cx="659.8" cy="282.8" r="0.53" fill="#fff" fill-opacity="1.0"/>
<circle cx="666.7" cy="277.9" r="0.68" fill="#fff" fill-opacity="1.0"/>
<circle cx="656.6" cy="262.1" r="0.68" fill="#fff" fill-opacity="1.0"/>
<circle cx="672.3" cy="261.8" r="0.75" fill="#fff" fill-opacity="1.0"/>
<circle cx="670.1" cy="282.3" r="0.56" fill="#fff" fill-opacity="1.0"/>
<circle cx="656.0" cy="283.3" r="0.65" fill="#fff" fill-opacity="1.0"/>
<circle cx="655.0" cy="271.8" r="0.64" fill="#fff" fill-opacity="1.0"/>
<circle cx="652.7" cy="284.3" r="0.62" fill="#fff" fill-opacity="1.0"/>
<circle cx="665.8" cy="284.5" r="0.83" fill="#fff" fill-opacity="1.0"/>
<circle cx="654.6" cy="283.0" r="0.56" fill="#fff" fill-opacity="1.0"/>
<circle cx="647.9" cy="271.4" r="0.79" fill="#fff" fill-opacity="1.0"/>
<circle cx="661.5" cy="259.2" r="0.67" fill="#fff" fill-opacity="1.0"/>
<circle cx="651.2" cy="267.4" r="0.65" fill="#fff" fill-opacity="1.0"/>
<circle cx="653.0" cy="285.7" r="0.67" fill="#fff" fill-opacity="1.0"/>
<circle cx="665.4" cy="258.6" r="0.60" fill="#fff" fill-opacity="1.0"/>
<circle cx="668.3" cy="282.2" r="0.70" fill="#fff" fill-opacity="1.0"/>
<line x1="566.50" y1="257.7" x2="566.50" y2="267.5" stroke="#fff" stroke-opacity="0.35" stroke-width="0.45"/>
<line x1="569.41" y1="258.8" x2="569.41" y2="268.0" stroke="#fff" stroke-opacity="0.35" stroke-width="0.45"/>
<line x1="572.17" y1="257.9" x2="572.17" y2="267.7" stroke="#fff" stroke-opacity="0.35" stroke-width="0.45"/>
<line x1="575.18" y1="258.4" x2="575.18" y2="267.7" stroke="#fff" stroke-opacity="0.35" stroke-width="0.45"/>
<line x1="578.12" y1="259.4" x2="578.12" y2="268.6" stroke="#fff" stroke-opacity="0.35" stroke-width="0.45"/>
<line x1="580.85" y1="261.0" x2="580.85" y2="269.5" stroke="#fff" stroke-opacity="0.35" stroke-width="0.45"/>
<line x1="583.75" y1="261.6" x2="583.75" y2="270.2" stroke="#fff" stroke-opacity="0.35" stroke-width="0.45"/>
<line x1="586.36" y1="262.7" x2="586.36" y2="271.2" stroke="#fff" stroke-opacity="0.35" stroke-width="0.45"/>
<line x1="589.43" y1="263.6" x2="589.43" y2="272.2" stroke="#fff" stroke-opacity="0.35" stroke-width="0.45"/>
<line x1="591.97" y1="265.2" x2="591.97" y2="274.4" stroke="#fff" stroke-opacity="0.35" stroke-width="0.45"/>
<line x1="594.51" y1="265.6" x2="594.51" y2="275.4" stroke="#fff" stroke-opacity="0.35" stroke-width="0.45"/>
<line x1="597.45" y1="264.7" x2="597.45" y2="276.6" stroke="#fff" stroke-opacity="0.35" stroke-width="0.45"/>
<circle cx="574.4" cy="257.2" r="0.85" fill="#1e88e5"/>
<circle cx="646.9" cy="269.2" r="0.85" fill="#1e88e5"/>
<circle cx="658.5" cy="258.2" r="0.85" fill="#1e88e5"/>
<circle cx="664.2" cy="285.9" r="0.85" fill="#1e88e5"/>
<circle cx="583.8" cy="261.3" r="0.85" fill="#1e88e5"/>
<circle cx="586.7" cy="272.9" r="0.85" fill="#1e88e5"/>
<circle cx="650.1" cy="288.8" r="0.85" fill="#1e88e5"/>
<circle cx="574.7" cy="269.3" r="0.85" fill="#1e88e5"/>
<circle cx="635.1" cy="271.5" r="0.85" fill="#1e88e5"/>
<circle cx="610.0" cy="284.3" r="0.85" fill="#1e88e5"/>
<circle cx="580.5" cy="259.3" r="0.85" fill="#1e88e5"/>
<circle cx="566.8" cy="268.3" r="0.85" fill="#1e88e5"/>
<circle cx="644.3" cy="270.5" r="0.85" fill="#1e88e5"/>
<circle cx="617.9" cy="286.7" r="0.85" fill="#1e88e5"/>
<circle cx="621.6" cy="269.8" r="0.85" fill="#1e88e5"/>
<circle cx="593.8" cy="264.0" r="0.85" fill="#1e88e5"/>
<circle cx="664.2" cy="255.6" r="0.85" fill="#1e88e5"/>
<circle cx="646.6" cy="269.9" r="0.85" fill="#1e88e5"/>
<circle cx="566.0" cy="268.4" r="0.85" fill="#1e88e5"/>
<circle cx="577.5" cy="269.9" r="0.85" fill="#1e88e5"/>
<circle cx="639.4" cy="270.9" r="0.85" fill="#1e88e5"/>
<circle cx="634.0" cy="271.3" r="0.85" fill="#1e88e5"/>
<circle cx="663.1" cy="256.3" r="0.85" fill="#1e88e5"/>
<circle cx="660.4" cy="285.2" r="0.85" fill="#1e88e5"/>
<circle cx="657.8" cy="259.0" r="0.85" fill="#1e88e5"/>
<circle cx="641.1" cy="270.6" r="0.85" fill="#1e88e5"/>
<circle cx="654.1" cy="287.6" r="0.85" fill="#1e88e5"/>
<circle cx="628.6" cy="292.4" r="0.85" fill="#1e88e5"/>
<circle cx="609.4" cy="266.5" r="0.85" fill="#1e88e5"/>
<circle cx="588.9" cy="261.9" r="0.85" fill="#1e88e5"/>
<circle cx="658.8" cy="286.3" r="0.85" fill="#1e88e5"/>
<circle cx="621.6" cy="289.4" r="0.85" fill="#1e88e5"/>
<circle cx="565.8" cy="256.2" r="0.85" fill="#1e88e5"/>
<circle cx="587.8" cy="262.7" r="0.85" fill="#1e88e5"/>
<circle cx="593.3" cy="275.0" r="0.85" fill="#1e88e5"/>
<circle cx="653.6" cy="287.7" r="0.85" fill="#1e88e5"/>
<circle cx="593.5" cy="275.6" r="0.85" fill="#1e88e5"/>
<circle cx="614.9" cy="285.9" r="0.85" fill="#1e88e5"/>
<circle cx="640.5" cy="272.1" r="0.85" fill="#1e88e5"/>
<circle cx="594.3" cy="263.3" r="0.85" fill="#1e88e5"/>
<circle cx="592.7" cy="275.7" r="0.85" fill="#1e88e5"/>
<circle cx="586.3" cy="272.8" r="0.85" fill="#1e88e5"/>
<circle cx="623.4" cy="269.8" r="0.85" fill="#1e88e5"/>
<circle cx="652.3" cy="287.9" r="0.85" fill="#1e88e5"/>
<circle cx="602.7" cy="265.1" r="0.85" fill="#1e88e5"/>
<circle cx="647.1" cy="289.6" r="0.85" fill="#1e88e5"/>
<circle cx="591.7" cy="263.8" r="0.85" fill="#1e88e5"/>
<circle cx="570.0" cy="257.5" r="0.85" fill="#1e88e5"/>
<circle cx="663.6" cy="256.1" r="0.85" fill="#1e88e5"/>
<circle cx="653.1" cy="262.7" r="0.85" fill="#1e88e5"/>
<circle cx="675.0" cy="284.8" r="0.85" fill="#1e88e5"/>
<circle cx="673.2" cy="254.9" r="0.85" fill="#1e88e5"/>
<circle cx="599.4" cy="264.7" r="0.85" fill="#1e88e5"/>
<circle cx="637.3" cy="293.8" r="0.85" fill="#1e88e5"/>
<circle cx="585.2" cy="273.0" r="0.85" fill="#1e88e5"/>
<circle cx="621.1" cy="288.4" r="0.85" fill="#1e88e5"/>
<circle cx="631.3" cy="293.3" r="0.85" fill="#1e88e5"/>
<circle cx="639.6" cy="271.5" r="0.85" fill="#1e88e5"/>
<circle cx="594.8" cy="276.1" r="0.85" fill="#1e88e5"/>
<circle cx="615.6" cy="286.3" r="0.85" fill="#1e88e5"/>
<circle cx="663.7" cy="256.7" r="0.85" fill="#1e88e5"/>
<circle cx="585.5" cy="260.9" r="0.85" fill="#1e88e5"/>
<circle cx="667.0" cy="255.8" r="0.85" fill="#1e88e5"/>
<circle cx="665.3" cy="286.6" r="0.85" fill="#1e88e5"/>
<circle cx="675.1" cy="256.6" r="0.85" fill="#1e88e5"/>
<circle cx="592.7" cy="274.7" r="0.85" fill="#1e88e5"/>
<circle cx="593.1" cy="263.2" r="0.85" fill="#1e88e5"/>
<circle cx="582.1" cy="260.5" r="0.85" fill="#1e88e5"/>
<circle cx="575.1" cy="257.6" r="0.85" fill="#1e88e5"/>
<circle cx="653.7" cy="286.4" r="0.85" fill="#1e88e5"/>
<circle cx="654.2" cy="287.1" r="0.85" fill="#1e88e5"/>
<circle cx="598.3" cy="277.0" r="0.85" fill="#1e88e5"/>
<circle cx="570.2" cy="268.3" r="0.85" fill="#1e88e5"/>
<circle cx="666.5" cy="285.2" r="0.85" fill="#1e88e5"/>
<circle cx="575.5" cy="268.9" r="0.85" fill="#1e88e5"/>
<circle cx="638.9" cy="293.1" r="0.85" fill="#1e88e5"/>
<circle cx="617.9" cy="268.3" r="0.85" fill="#1e88e5"/>
<circle cx="634.9" cy="293.8" r="0.85" fill="#1e88e5"/>
<circle cx="571.8" cy="269.3" r="0.85" fill="#1e88e5"/>
<circle cx="622.1" cy="289.4" r="0.85" fill="#1e88e5"/>
<circle cx="648.8" cy="289.0" r="0.85" fill="#1e88e5"/>
<circle cx="622.3" cy="270.8" r="0.85" fill="#1e88e5"/>
<circle cx="622.8" cy="290.1" r="0.85" fill="#1e88e5"/>
<circle cx="588.2" cy="273.9" r="0.85" fill="#1e88e5"/>
<circle cx="629.3" cy="271.5" r="0.85" fill="#1e88e5"/>
<circle cx="641.3" cy="292.9" r="0.85" fill="#1e88e5"/>
<circle cx="652.0" cy="287.1" r="0.85" fill="#1e88e5"/>
<circle cx="593.7" cy="263.8" r="0.85" fill="#1e88e5"/>
<circle cx="619.5" cy="268.7" r="0.85" fill="#1e88e5"/>
<circle cx="646.4" cy="269.7" r="0.85" fill="#1e88e5"/>
<circle cx="667.5" cy="255.3" r="0.85" fill="#1e88e5"/>
<circle cx="671.3" cy="254.7" r="0.85" fill="#1e88e5"/>
<circle cx="654.1" cy="262.8" r="0.85" fill="#1e88e5"/>
<circle cx="654.4" cy="262.4" r="0.85" fill="#1e88e5"/>
<circle cx="616.4" cy="287.2" r="0.85" fill="#1e88e5"/>
<circle cx="666.6" cy="285.4" r="0.85" fill="#1e88e5"/>
<circle cx="605.9" cy="266.0" r="0.85" fill="#1e88e5"/>
<circle cx="602.7" cy="264.9" r="0.85" fill="#1e88e5"/>
<circle cx="579.6" cy="270.3" r="0.85" fill="#1e88e5"/>
<circle cx="592.4" cy="275.1" r="0.85" fill="#1e88e5"/>
<circle cx="567.6" cy="268.7" r="0.85" fill="#1e88e5"/>
<circle cx="662.4" cy="257.2" r="0.85" fill="#1e88e5"/>
<circle cx="642.2" cy="270.3" r="0.85" fill="#1e88e5"/>
<circle cx="637.4" cy="292.9" r="0.85" fill="#1e88e5"/>
<circle cx="596.4" cy="263.4" r="0.85" fill="#1e88e5"/>
<circle cx="581.1" cy="270.3" r="0.85" fill="#1e88e5"/>
<circle cx="672.7" cy="285.8" r="0.85" fill="#1e88e5"/>
<circle cx="648.1" cy="269.6" r="0.85" fill="#1e88e5"/>
<circle cx="569.4" cy="267.9" r="0.85" fill="#1e88e5"/>
<circle cx="585.9" cy="261.0" r="0.85" fill="#1e88e5"/>
<circle cx="652.6" cy="262.4" r="0.85" fill="#1e88e5"/>
<circle cx="582.7" cy="260.6" r="0.85" fill="#1e88e5"/>
<circle cx="654.3" cy="261.7" r="0.85" fill="#1e88e5"/>
<circle cx="625.3" cy="290.8" r="0.85" fill="#1e88e5"/>
<circle cx="569.7" cy="256.6" r="0.85" fill="#1e88e5"/>
<circle cx="621.2" cy="288.5" r="0.85" fill="#1e88e5"/>
<circle cx="596.0" cy="263.5" r="0.85" fill="#1e88e5"/>
<circle cx="643.0" cy="270.5" r="0.85" fill="#1e88e5"/>
<circle cx="569.3" cy="257.3" r="0.85" fill="#1e88e5"/>
<circle cx="649.8" cy="288.8" r="0.85" fill="#1e88e5"/>
<circle cx="668.4" cy="248.5" r="0.9" fill="#1e88e5"/>
<circle cx="661.2" cy="253.7" r="0.9" fill="#1e88e5"/>
<circle cx="665.0" cy="252.0" r="0.9" fill="#1e88e5"/>
<circle cx="644.4" cy="294.0" r="0.9" fill="#1e88e5"/>
<circle cx="657.4" cy="290.6" r="0.9" fill="#1e88e5"/>
<circle cx="665.0" cy="290.0" r="0.9" fill="#1e88e5"/>
<circle cx="668.0" cy="289.0" r="0.9" fill="#1e88e5"/>
<circle cx="575.0" cy="255.2" r="0.9" fill="#1e88e5"/>
<circle cx="571.0" cy="255.5" r="0.9" fill="#1e88e5"/>
<rect x="590.00" y="322.60" width="1.60" height="1.00" fill="#000" fill-opacity="0.13"/>
<rect x="592.20" y="322.76" width="1.60" height="0.84" fill="#000" fill-opacity="0.13"/>
<rect x="594.40" y="322.16" width="1.60" height="1.44" fill="#000" fill-opacity="0.13"/>
<rect x="596.60" y="322.11" width="1.60" height="1.49" fill="#000" fill-opacity="0.13"/>
<rect x="598.80" y="322.79" width="1.60" height="0.81" fill="#000" fill-opacity="0.13"/>
<rect x="601.00" y="321.96" width="1.60" height="1.64" fill="#000" fill-opacity="0.13"/>
<rect x="603.20" y="321.90" width="1.60" height="1.70" fill="#000" fill-opacity="0.13"/>
<rect x="605.40" y="322.44" width="1.60" height="1.16" fill="#000" fill-opacity="0.13"/>
<rect x="607.60" y="322.28" width="1.60" height="1.32" fill="#000" fill-opacity="0.13"/>
<rect x="609.80" y="322.15" width="1.60" height="1.45" fill="#000" fill-opacity="0.13"/>
<rect x="612.00" y="321.87" width="1.60" height="1.73" fill="#000" fill-opacity="0.13"/>
<rect x="614.20" y="322.15" width="1.60" height="1.45" fill="#000" fill-opacity="0.13"/>
<rect x="616.40" y="322.28" width="1.60" height="1.32" fill="#000" fill-opacity="0.13"/>
<rect x="618.60" y="322.03" width="1.60" height="1.57" fill="#000" fill-opacity="0.13"/>
<rect x="620.80" y="322.31" width="1.60" height="1.29" fill="#000" fill-opacity="0.13"/>
<rect x="623.00" y="322.77" width="1.60" height="0.83" fill="#000" fill-opacity="0.13"/>
<rect x="625.20" y="322.25" width="1.60" height="1.35" fill="#000" fill-opacity="0.13"/>
<rect x="627.40" y="322.39" width="1.60" height="1.21" fill="#000" fill-opacity="0.13"/>
<rect x="629.60" y="322.46" width="1.60" height="1.14" fill="#000" fill-opacity="0.13"/>
<rect x="631.80" y="322.41" width="1.60" height="1.19" fill="#000" fill-opacity="0.13"/>
<rect x="634.00" y="322.58" width="1.60" height="1.02" fill="#000" fill-opacity="0.13"/>
<rect x="636.20" y="322.49" width="1.60" height="1.11" fill="#000" fill-opacity="0.13"/>
<rect x="638.40" y="322.05" width="1.60" height="1.55" fill="#000" fill-opacity="0.13"/>
<rect x="640.60" y="321.91" width="1.60" height="1.69" fill="#000" fill-opacity="0.13"/>
<rect x="642.80" y="322.34" width="1.60" height="1.26" fill="#000" fill-opacity="0.13"/>
<rect x="645.00" y="321.95" width="1.60" height="1.65" fill="#000" fill-opacity="0.13"/>
<rect x="647.20" y="322.67" width="1.60" height="0.93" fill="#000" fill-opacity="0.13"/>
<rect x="649.40" y="322.28" width="1.60" height="1.32" fill="#000" fill-opacity="0.13"/>
<rect x="651.60" y="322.06" width="1.60" height="1.54" fill="#000" fill-opacity="0.13"/>
<rect x="653.80" y="322.02" width="1.60" height="1.58" fill="#000" fill-opacity="0.13"/>
<rect x="656.00" y="322.41" width="1.60" height="1.19" fill="#000" fill-opacity="0.13"/>
<rect x="658.20" y="322.63" width="1.60" height="0.97" fill="#000" fill-opacity="0.13"/>
<rect x="660.40" y="321.84" width="1.60" height="1.76" fill="#000" fill-opacity="0.13"/>
<rect x="662.60" y="322.19" width="1.60" height="1.41" fill="#000" fill-opacity="0.13"/>
<rect x="664.80" y="322.15" width="1.60" height="1.45" fill="#000" fill-opacity="0.13"/>
<rect x="667.00" y="322.45" width="1.60" height="1.15" fill="#000" fill-opacity="0.13"/>
<rect x="669.20" y="322.69" width="1.60" height="0.91" fill="#000" fill-opacity="0.13"/>
<rect x="671.40" y="322.23" width="1.60" height="1.37" fill="#000" fill-opacity="0.13"/>
<rect x="673.60" y="322.40" width="1.60" height="1.20" fill="#000" fill-opacity="0.13"/>
<rect x="675.80" y="321.91" width="1.60" height="1.69" fill="#000" fill-opacity="0.13"/>
<line x1="559.60" y1="268.40" x2="681.60" y2="268.40" stroke="#3a3a3a" stroke-width="0.6" stroke-dasharray="2.85,0.95" stroke-dashoffset="2.9"/>
<path d="M559.60,211.10 L559.60,323.70 L681.60,323.70" fill="none" stroke="#6a6a6a" stroke-width="0.6"/>
<text x="620.60" y="188.80" font-size="7.6" text-anchor="middle" fill="#000">Applied Mathematics in</text>
<text x="620.60" y="198.25" font-size="7.6" text-anchor="middle" fill="#000">Social Sciences</text>
<text x="620.60" y="207.70" font-size="7.6" text-anchor="middle" fill="#000">(0.234)</text>
<line x1="565.15" y1="323.70" x2="565.15" y2="325.80" stroke="#333333" stroke-width="0.5"/>
<text x="565.15" y="333.00" font-size="6.4" text-anchor="middle" fill="#333333">0</text>
<line x1="587.33" y1="323.70" x2="587.33" y2="325.80" stroke="#333333" stroke-width="0.5"/>
<text x="587.33" y="333.00" font-size="6.4" text-anchor="middle" fill="#333333">2</text>
<line x1="609.51" y1="323.70" x2="609.51" y2="325.80" stroke="#333333" stroke-width="0.5"/>
<text x="609.51" y="333.00" font-size="6.4" text-anchor="middle" fill="#333333">4</text>
<line x1="631.69" y1="323.70" x2="631.69" y2="325.80" stroke="#333333" stroke-width="0.5"/>
<text x="631.69" y="333.00" font-size="6.4" text-anchor="middle" fill="#333333">6</text>
<line x1="653.87" y1="323.70" x2="653.87" y2="325.80" stroke="#333333" stroke-width="0.5"/>
<text x="653.87" y="333.00" font-size="6.4" text-anchor="middle" fill="#333333">8</text>
<line x1="676.05" y1="323.70" x2="676.05" y2="325.80" stroke="#333333" stroke-width="0.5"/>
<text x="676.05" y="333.00" font-size="6.4" text-anchor="middle" fill="#333333">10</text>
<text x="9.80" y="87.25" font-size="8.1" text-anchor="middle" fill="#333" transform="rotate(-90 9.80 87.25)">Degree in Robotic</text>
<text x="21.00" y="87.25" font-size="8.1" text-anchor="middle" fill="#333" transform="rotate(-90 21.00 87.25)">Engineering</text>
<text x="9.20" y="267.90" font-size="8.1" text-anchor="middle" fill="#333" transform="rotate(-90 9.20 267.90)">Degree in Computer</text>
<text x="21.30" y="267.90" font-size="8.1" text-anchor="middle" fill="#333" transform="rotate(-90 21.30 267.90)">Engineering</text>
</svg>
</body></html>
